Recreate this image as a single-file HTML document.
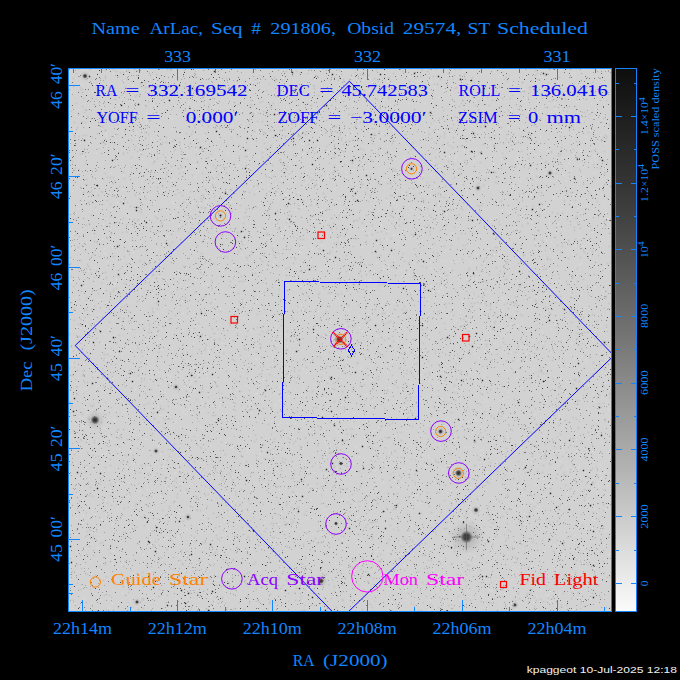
<!DOCTYPE html><html><head><meta charset="utf-8"><title>ArLac star field</title><style>html,body{margin:0;padding:0;background:#000;width:680px;height:680px;overflow:hidden}svg{display:block}</style></head><body><svg width="680" height="680" viewBox="0 0 680 680"><rect width="680" height="680" fill="#000"/><defs><radialGradient id="halo"><stop offset="0" stop-color="#202020" stop-opacity="1"/><stop offset="0.5" stop-color="#333" stop-opacity="0.8"/><stop offset="1" stop-color="#555" stop-opacity="0"/></radialGradient><radialGradient id="halo2"><stop offset="0" stop-color="#888" stop-opacity="0.6"/><stop offset="1" stop-color="#aaa" stop-opacity="0"/></radialGradient><clipPath id="clip"><rect x="69" y="69" width="542" height="542"/></clipPath><linearGradient id="cb" x1="0" y1="0" x2="0" y2="1"><stop offset="0" stop-color="#0e0e0e"/><stop offset="0.25" stop-color="#3c3c3c"/><stop offset="0.5" stop-color="#767676"/><stop offset="0.75" stop-color="#b6b6b6"/><stop offset="1" stop-color="#fbfbfb"/></linearGradient></defs><rect x="68" y="68" width="543" height="543" fill="#d2d2d2"/><g transform="translate(0.5 0.5)"><path stroke="#dadada" stroke-width="1.5" stroke-linecap="square" fill="none" d="M447 214h0M192 412h0M496 461h0M240 123h0M179 539h0M501 221h0M417 147h0M435 208h0M604 299h0M280 333h0M523 252h0M249 388h0M376 551h0M393 302h0M184 571h0M170 549h0M193 343h0M433 292h0M401 270h0M579 359h0M451 233h0M203 135h0M564 302h0M583 340h0M465 248h0M430 584h0M139 491h0M120 552h0M213 208h0M308 75h0M108 329h0M549 601h0M325 268h0M447 371h0M184 492h0M245 511h0M131 79h0M466 194h0M488 588h0M188 104h0M456 474h0M113 551h0M281 513h0M155 334h0M472 312h0M253 211h0M325 509h0M321 210h0M326 102h0M213 275h0M371 571h0M511 188h0M339 73h0M173 203h0M82 156h0M139 396h0M113 378h0M118 569h0M135 283h0M393 418h0M506 164h0M532 359h0M423 235h0M395 156h0M248 581h0M574 72h0M416 457h0M461 532h0M466 425h0M535 533h0M449 95h0M572 541h0M362 366h0M365 163h0M205 575h0M577 83h0M368 477h0M337 327h0M240 84h0M217 314h0M412 496h0M313 346h0M376 292h0M429 457h0M556 74h0M248 537h0M438 291h0M558 336h0M317 113h0M208 489h0M226 227h0M253 72h0M410 457h0M209 184h0M523 108h0M261 202h0M104 403h0M71 280h0M82 84h0M409 535h0M256 393h0M222 163h0M400 542h0M105 521h0M362 137h0M403 155h0M86 184h0M164 154h0M280 529h0M233 265h0M584 92h0M307 327h0M419 162h0M150 534h0M506 449h0M187 388h0M484 377h0M326 226h0M289 375h0M327 151h0M359 96h0M207 378h0M134 583h0M230 486h0M605 509h0M220 308h0M430 195h0M210 191h0M523 147h0M330 232h0M376 336h0M183 313h0M398 462h0M337 542h0M455 157h0M202 562h0M399 464h0M523 126h0M322 155h0M166 107h0M108 469h0M536 223h0M342 164h0M165 69h0M228 366h0M475 353h0M269 174h0M400 587h0M509 94h0M182 483h0M535 242h0M480 238h0M250 87h0M204 79h0M255 394h0M115 420h0M301 505h0M403 468h0M487 608h0M360 538h0M127 496h0M412 535h0M122 374h0M163 466h0M590 599h0M203 368h0M380 219h0M440 275h0M514 485h0M112 247h0M524 165h0M543 496h0M444 478h0M301 394h0M214 181h0M404 566h0M433 568h0M238 483h0M438 327h0M165 196h0M207 530h0M74 133h0M226 605h0M182 73h0M514 489h0M540 110h0M541 359h0M596 265h0M409 76h0M308 570h0M384 180h0M274 245h0M325 490h0M218 85h0M444 354h0M592 528h0M155 322h0M100 314h0M274 585h0M290 357h0M292 432h0M160 415h0M157 137h0M199 122h0M382 395h0M491 350h0M325 200h0M179 225h0M300 370h0M368 201h0M576 439h0M267 83h0M198 371h0M343 331h0M101 200h0M249 93h0M157 248h0M222 116h0M138 387h0M221 392h0M259 453h0M115 409h0M255 358h0M330 536h0M119 349h0M547 565h0M543 79h0M582 336h0M133 104h0M83 515h0M594 509h0M566 166h0M503 399h0M134 361h0M430 600h0M474 571h0M225 166h0M554 103h0M477 346h0M160 496h0M382 577h0M248 156h0M494 254h0M273 92h0M536 429h0M256 359h0M428 303h0M348 542h0M296 266h0M73 249h0M602 528h0M298 192h0M250 403h0M544 238h0M70 248h0M116 192h0M325 524h0M331 349h0M532 566h0M329 126h0M451 603h0M493 165h0M211 192h0M591 490h0M579 237h0M452 188h0M94 84h0M217 433h0M140 292h0M432 311h0M82 565h0M257 128h0M70 184h0M485 266h0M272 550h0M435 186h0M160 454h0M598 486h0M303 448h0M538 555h0M604 202h0M93 441h0M591 161h0M226 338h0M576 451h0M536 596h0M111 173h0M394 173h0M113 98h0M255 112h0M546 369h0M99 184h0M386 200h0M482 332h0M431 268h0M69 472h0M435 280h0M119 121h0M505 282h0M607 579h0M592 232h0M489 339h0M252 271h0M539 506h0M384 73h0M327 447h0M387 264h0M160 117h0M136 449h0M358 516h0M374 321h0M299 252h0M448 133h0M157 365h0M311 570h0M158 406h0M294 218h0M208 256h0M452 476h0M580 206h0M449 338h0M603 291h0M133 252h0M450 465h0M225 496h0M460 422h0M338 443h0M466 334h0M132 276h0M349 510h0M289 256h0M165 173h0M184 157h0M544 551h0M425 325h0M546 283h0M401 402h0M453 80h0M548 103h0M574 358h0M99 433h0M600 325h0M386 462h0M341 216h0M520 157h0M479 358h0M219 605h0M403 448h0M411 391h0M131 576h0M92 92h0M240 88h0M460 312h0M105 383h0M476 254h0M549 591h0M273 198h0M80 256h0M447 492h0M360 563h0M476 385h0M165 251h0M285 432h0M148 468h0M123 412h0M158 291h0M345 108h0M544 413h0M183 411h0M337 432h0M421 398h0M253 147h0M71 92h0M610 168h0M443 90h0M364 348h0M250 428h0M233 155h0M238 422h0M269 518h0M398 234h0M446 418h0M480 508h0M134 112h0M241 578h0M479 538h0M437 431h0M548 502h0M138 582h0M326 534h0M186 111h0M306 72h0M483 595h0M146 121h0M343 351h0M298 151h0M89 540h0M483 116h0M506 397h0M293 419h0M115 283h0M405 590h0M610 351h0M92 463h0M279 387h0M188 102h0M588 335h0M179 555h0M543 479h0M600 254h0M501 159h0M93 320h0M133 303h0M185 458h0M580 551h0M86 388h0M423 206h0M415 540h0M252 123h0M423 175h0M80 143h0M256 191h0M497 527h0M88 142h0M404 229h0M304 206h0M554 324h0M161 349h0M582 454h0M300 130h0M402 121h0M271 545h0M471 514h0M188 508h0M448 399h0M525 483h0M371 381h0M444 587h0M330 379h0M324 373h0M321 269h0M285 444h0M544 190h0M128 221h0M590 261h0M395 566h0M232 86h0M342 528h0M377 378h0M559 417h0M522 323h0M594 173h0M124 80h0M507 384h0M605 167h0M538 265h0M226 576h0M337 177h0M465 447h0M271 328h0M240 198h0M328 408h0M533 602h0M356 543h0M314 527h0M512 276h0M119 449h0M150 175h0M217 580h0M394 234h0M256 130h0M560 379h0M310 231h0M189 409h0M338 298h0M225 250h0M593 88h0M525 524h0M462 391h0M422 298h0M76 518h0M592 372h0M409 382h0M417 504h0M367 332h0M583 548h0M259 589h0M517 325h0M582 520h0M434 86h0M546 401h0M171 478h0M126 537h0M184 156h0M148 576h0M536 384h0M273 358h0M249 553h0M478 414h0M441 398h0M609 522h0M304 537h0M90 343h0M317 298h0M114 283h0M74 129h0M268 189h0M514 300h0M151 261h0M237 519h0M383 212h0M251 208h0M164 392h0M107 588h0M484 229h0M407 148h0M287 221h0M491 446h0M295 423h0M345 501h0M509 213h0M327 198h0M389 342h0M487 472h0M345 325h0M121 565h0M93 165h0M362 247h0M191 165h0M474 210h0M315 185h0M267 237h0M525 440h0M543 343h0M90 313h0M316 549h0M342 157h0M131 249h0M578 410h0M598 587h0M604 309h0M316 489h0M124 96h0M477 377h0M471 596h0M111 438h0M398 487h0M507 591h0M88 271h0M151 138h0M439 444h0M136 334h0M352 135h0M218 244h0M85 597h0M299 572h0M320 132h0M332 347h0M86 286h0M301 252h0M331 574h0M87 125h0M107 608h0M392 546h0M98 495h0M471 137h0M353 382h0M599 353h0M585 395h0M369 514h0M482 82h0M574 431h0M195 323h0M584 520h0M476 410h0M184 386h0M101 135h0M104 471h0M574 77h0M160 383h0M79 231h0M472 323h0M459 592h0M210 494h0M251 485h0M129 243h0M250 531h0M580 165h0M326 514h0M439 132h0M289 163h0M588 119h0M224 237h0M247 449h0M430 174h0M173 214h0M75 423h0M143 563h0M394 480h0M580 151h0M319 392h0M157 342h0M567 454h0M503 503h0M498 384h0M183 454h0M158 343h0M536 81h0M600 464h0M99 479h0M144 476h0M275 585h0M580 546h0M286 194h0M183 145h0M598 519h0M289 84h0M555 377h0M318 182h0M277 194h0M125 421h0M299 599h0M418 217h0M456 565h0M72 247h0M415 501h0M383 266h0M553 70h0M526 75h0M441 429h0M388 550h0M348 310h0M520 495h0M557 213h0M182 137h0M248 530h0M330 446h0M268 160h0M165 258h0M259 135h0M408 204h0M334 395h0M364 544h0M87 412h0M422 191h0M314 491h0M590 130h0M240 226h0M347 134h0M200 427h0M342 244h0M203 466h0M131 115h0M501 591h0M345 171h0M277 607h0M193 391h0M600 478h0M365 587h0M292 226h0M499 125h0M447 307h0M237 166h0M234 210h0M414 263h0M516 274h0M259 132h0M184 153h0M234 577h0M218 449h0M386 221h0M227 153h0M586 141h0M139 491h0M264 522h0M475 293h0M174 251h0M302 310h0M375 200h0M137 588h0M388 81h0M359 449h0M451 261h0M333 94h0M485 482h0M342 518h0M391 601h0M455 389h0M454 440h0M105 500h0M278 540h0M335 349h0M396 272h0M96 368h0M107 146h0M598 486h0M115 75h0M426 396h0M211 365h0M160 143h0M220 318h0M567 494h0M325 583h0M163 245h0M78 551h0M261 180h0M553 197h0M94 374h0M331 296h0M270 232h0M157 516h0M465 508h0M336 467h0M135 491h0M603 609h0M490 590h0M338 430h0M300 119h0M387 282h0M503 459h0M124 372h0M163 244h0M160 460h0M558 550h0M314 572h0M463 89h0M168 210h0M95 267h0M253 321h0M328 288h0M258 253h0M104 453h0M321 135h0M460 160h0M214 177h0M265 477h0M446 250h0M488 116h0M235 203h0M547 363h0M438 403h0M164 539h0M199 599h0M508 392h0M370 290h0M278 424h0M492 478h0M276 468h0M393 235h0M423 235h0M174 423h0M596 294h0M394 602h0M438 382h0M322 517h0M188 267h0M401 388h0M69 238h0M370 593h0M129 601h0M172 118h0M228 70h0M540 250h0M106 219h0M248 161h0M104 152h0M285 391h0M581 295h0M181 463h0M151 545h0M423 538h0M249 410h0M352 132h0M592 576h0M121 106h0M358 118h0M543 121h0M444 603h0M597 420h0M224 521h0M430 262h0M430 549h0M433 383h0M157 313h0M478 536h0M256 124h0M145 483h0M560 461h0M331 199h0M464 123h0M268 214h0M319 606h0M90 202h0M317 148h0M374 593h0M471 328h0M372 82h0M284 315h0M117 483h0M303 144h0M469 370h0M376 150h0M186 285h0M372 307h0M365 197h0M318 247h0M408 345h0M396 361h0M493 163h0M150 380h0M374 568h0M469 465h0M282 552h0M157 403h0M344 521h0M507 320h0M97 588h0M379 372h0M117 444h0M576 435h0M446 316h0M295 209h0M483 310h0M425 466h0M476 278h0M108 435h0M378 479h0M233 422h0M233 447h0M156 213h0M315 148h0M431 234h0M441 287h0M134 431h0M222 202h0M339 98h0M96 386h0M205 248h0M272 571h0M159 276h0M127 467h0M509 137h0M388 267h0M201 411h0M333 513h0M112 603h0M457 75h0M281 569h0M300 247h0M183 105h0M428 337h0M455 358h0M389 452h0M404 253h0M511 337h0M583 600h0M206 240h0M530 419h0M139 461h0M234 504h0M451 580h0M535 84h0M441 261h0M206 374h0M301 305h0M531 195h0M258 420h0M147 280h0M448 207h0M572 330h0M581 150h0M374 430h0M289 396h0M316 280h0M107 262h0M287 517h0M238 598h0M273 264h0M523 505h0M154 202h0M500 154h0M411 333h0M560 363h0M261 547h0M238 338h0M546 595h0M139 550h0M136 132h0M485 263h0M322 157h0M308 469h0M386 110h0M452 143h0M464 149h0M248 572h0M424 550h0M198 374h0M300 456h0M205 204h0M465 495h0M78 478h0M453 482h0M488 337h0M275 246h0M96 440h0M300 286h0M517 377h0M261 257h0M360 368h0M490 351h0M598 481h0M146 112h0M112 85h0M511 352h0M519 486h0M387 308h0M191 381h0M270 380h0M374 271h0M579 568h0M84 248h0M588 577h0M498 258h0M593 290h0M276 326h0M123 120h0M517 157h0M334 596h0M305 372h0M568 157h0M399 554h0M73 563h0M499 400h0M231 133h0M340 531h0M318 311h0M183 531h0M219 227h0M328 359h0M378 211h0M478 467h0M359 347h0M474 166h0M526 353h0M191 254h0M198 493h0M109 437h0M478 357h0M120 400h0M336 590h0M605 383h0M592 433h0M466 279h0M534 365h0M357 89h0M80 523h0M158 490h0M285 583h0M337 468h0M207 176h0M484 399h0M333 572h0M429 111h0M608 554h0M388 203h0M382 391h0M312 585h0M106 359h0M85 261h0M474 320h0M337 353h0M177 463h0M255 269h0M319 391h0M220 406h0M413 376h0M593 340h0M563 556h0M241 110h0M253 554h0M608 410h0M429 609h0M117 353h0M88 296h0M333 420h0M102 454h0M462 301h0M299 115h0M107 344h0M388 607h0M222 583h0M222 343h0M506 346h0M471 262h0M354 244h0M242 446h0M494 548h0M215 300h0M543 426h0M446 374h0M384 319h0M453 351h0M560 216h0M598 470h0M375 488h0M140 311h0M453 232h0M121 96h0M378 160h0M519 567h0M581 159h0M218 541h0M449 156h0M560 281h0M279 273h0M378 427h0M577 401h0M395 435h0M251 413h0M71 421h0M82 523h0M375 470h0M103 224h0M540 136h0M138 395h0M607 218h0M456 531h0M275 404h0M313 203h0M160 522h0M150 188h0M558 450h0M81 418h0M293 166h0M395 469h0M314 199h0M571 74h0M323 426h0M442 96h0M365 521h0M473 93h0M101 372h0M529 150h0M77 306h0M202 398h0M484 158h0M292 144h0M411 123h0M376 346h0M282 236h0M472 432h0M423 455h0M122 452h0M455 160h0M176 466h0M226 302h0M610 604h0M281 591h0M345 463h0M203 512h0M373 602h0M143 554h0M112 581h0M389 387h0M309 485h0M468 488h0M140 291h0M398 342h0M93 529h0M207 284h0M156 521h0M416 484h0M195 280h0M291 370h0M267 359h0M311 245h0M599 115h0M76 410h0M324 476h0M491 590h0M364 532h0M555 109h0M289 172h0M227 275h0M303 420h0M265 396h0M174 474h0M335 563h0M520 442h0M284 285h0M513 593h0M269 174h0M531 222h0M473 162h0M391 327h0M423 322h0M228 521h0M242 255h0M295 182h0M412 96h0M281 236h0M439 204h0M283 576h0M307 589h0M456 320h0M210 293h0M570 466h0M536 296h0M498 433h0M72 191h0M147 489h0M458 279h0M387 372h0M507 371h0M72 608h0M183 169h0M229 576h0M377 388h0M359 126h0M601 525h0M314 79h0M232 309h0M446 297h0M402 177h0M358 543h0M293 255h0M80 169h0M308 589h0M373 359h0M476 393h0M312 286h0M364 520h0M459 229h0M219 545h0M258 380h0M470 372h0M510 277h0M372 432h0M509 562h0M235 288h0M583 167h0M392 257h0M495 343h0M471 327h0M540 590h0M103 281h0M116 279h0M158 372h0M439 118h0M260 604h0M321 137h0M204 502h0M604 544h0M375 555h0M583 246h0M95 210h0M412 544h0M566 244h0M551 329h0M467 591h0M170 376h0M296 277h0M548 486h0M151 372h0M125 278h0M103 90h0M172 180h0M469 553h0M355 489h0M376 492h0M369 314h0M293 495h0M199 526h0M239 136h0M282 451h0M98 146h0M407 596h0M480 292h0M89 211h0M183 545h0M418 345h0M214 107h0M116 580h0M195 105h0M587 87h0M375 476h0M569 171h0M226 494h0M538 576h0M127 346h0M501 488h0M542 331h0M104 440h0M162 161h0M404 346h0M186 169h0M517 280h0M470 149h0M522 387h0M317 208h0M549 223h0M575 535h0M516 131h0M553 386h0M556 421h0M372 401h0M75 237h0M157 603h0M271 179h0M235 245h0M484 351h0M428 336h0M299 531h0M230 511h0M451 437h0M346 410h0M201 128h0M135 222h0M559 438h0M373 172h0M506 358h0M579 264h0M505 297h0M406 242h0M230 211h0M224 134h0M249 560h0M131 242h0M592 526h0M393 202h0M212 475h0M367 519h0M573 609h0M478 157h0M451 431h0M70 345h0M597 551h0M151 483h0M551 242h0M402 231h0M301 143h0M380 170h0M285 365h0M449 404h0M299 584h0M553 289h0M576 101h0M485 334h0M256 100h0M399 118h0M328 326h0M607 607h0M145 164h0M251 186h0M406 280h0M199 485h0M284 520h0M214 603h0M93 455h0M409 238h0M386 237h0M133 609h0M411 210h0M290 255h0M186 187h0M255 328h0M215 453h0M133 328h0M198 170h0M518 254h0M70 281h0M520 216h0M320 495h0M205 162h0M166 437h0M117 508h0M338 426h0M408 215h0M337 106h0M179 284h0M152 598h0M385 280h0M157 176h0M280 422h0M370 279h0M535 154h0M148 410h0M237 522h0M421 577h0M350 146h0M439 176h0M113 420h0M201 608h0M266 543h0M540 601h0M558 223h0M197 502h0M147 221h0M177 207h0M477 505h0M222 535h0M313 433h0M261 206h0M374 155h0M551 111h0M553 168h0M397 354h0M557 571h0M477 280h0M305 535h0M428 299h0M607 359h0M161 395h0M223 495h0M462 422h0M189 284h0M322 413h0M402 74h0M127 418h0M389 223h0M514 560h0M351 191h0M596 334h0M235 501h0M268 579h0M303 153h0M444 260h0M365 286h0M416 524h0M83 599h0M231 95h0M104 219h0M427 113h0M89 415h0M403 247h0M523 440h0M489 143h0M404 565h0M504 593h0M238 590h0M423 534h0M380 575h0M313 230h0M544 383h0M326 334h0M122 593h0M339 155h0M175 105h0M579 597h0M247 84h0M454 274h0M317 463h0M86 319h0M263 400h0M580 150h0M528 282h0M385 532h0M364 436h0M264 484h0M110 520h0M567 85h0M211 607h0M111 353h0M343 435h0M116 332h0M480 455h0M420 427h0M409 422h0M485 371h0M608 314h0M209 351h0M243 318h0M362 426h0M404 187h0M83 546h0M588 412h0M348 597h0M311 260h0M405 93h0M156 78h0M307 518h0M193 573h0M75 534h0M287 384h0M142 376h0M136 409h0M145 350h0M326 474h0M502 297h0M594 215h0M504 370h0M544 278h0M356 447h0M392 606h0M386 239h0M576 204h0M255 469h0M409 274h0M588 500h0M112 564h0M474 556h0M423 209h0M504 335h0M387 146h0M424 103h0M418 162h0M314 108h0M209 168h0M248 448h0M466 190h0M405 600h0M358 76h0M154 81h0M593 89h0M381 576h0M138 435h0M547 150h0M353 463h0M327 176h0M531 462h0M272 473h0M159 338h0M160 82h0M487 329h0M194 191h0M575 514h0M557 111h0M468 421h0M521 181h0M423 483h0M554 545h0M186 555h0M199 217h0M572 375h0M186 427h0M113 589h0M72 364h0M267 371h0M327 265h0M99 527h0M407 320h0M322 413h0M448 475h0M468 587h0M190 539h0M341 404h0M469 319h0M195 176h0M588 439h0M410 404h0M196 149h0M469 199h0M148 353h0M206 524h0M139 417h0M246 609h0M76 297h0M180 514h0M305 395h0M314 334h0M507 210h0M100 306h0M276 342h0M294 536h0M173 438h0M114 135h0M607 485h0M210 445h0M105 135h0M606 186h0M379 97h0M106 133h0M558 543h0M228 550h0M294 227h0M275 137h0M171 101h0M519 239h0M146 320h0M130 320h0M248 401h0M571 202h0M202 379h0M460 519h0M610 409h0M556 605h0M381 226h0M513 89h0M103 289h0M387 555h0M593 394h0M97 299h0M114 335h0M558 415h0M568 478h0M385 322h0M343 149h0M160 301h0M596 266h0M585 307h0M468 211h0M157 482h0M402 176h0M174 187h0M443 87h0M397 590h0M155 107h0M468 503h0M517 159h0M140 152h0M303 309h0M282 77h0M368 314h0M312 248h0M320 397h0M317 189h0M359 457h0M328 132h0M101 224h0M313 472h0M533 161h0M78 116h0M117 121h0M575 246h0M202 403h0M381 224h0M232 419h0M451 490h0M341 474h0M428 573h0M448 523h0M587 340h0M449 553h0M369 280h0M330 321h0M260 245h0M407 350h0M477 350h0M189 190h0M167 236h0M272 356h0M391 454h0M336 478h0M469 94h0M341 499h0M377 546h0M172 452h0M524 513h0M209 208h0M146 207h0M159 576h0M510 75h0M319 378h0M579 466h0M286 106h0M529 178h0M605 373h0M275 306h0M246 304h0M151 251h0M423 311h0M392 362h0M123 131h0M209 557h0M168 488h0M449 268h0M164 318h0M240 475h0M514 166h0M458 381h0M310 183h0M280 128h0M387 179h0M326 451h0M519 186h0M562 507h0M270 573h0M284 315h0M432 460h0M97 288h0M517 493h0M590 482h0M79 416h0M158 445h0M96 508h0M227 204h0M300 280h0M483 546h0M494 600h0M69 556h0M145 307h0M479 492h0M135 389h0M335 210h0M359 327h0M431 583h0M330 92h0M251 469h0M537 191h0M233 85h0M560 443h0M586 528h0M208 225h0M553 343h0M118 105h0M415 73h0M542 106h0M258 157h0M301 464h0M123 196h0M571 356h0M104 428h0M601 565h0M217 133h0M369 508h0M467 192h0M348 330h0M209 123h0M568 163h0M208 349h0M327 235h0M354 169h0M187 449h0M485 196h0M530 395h0M600 551h0M517 571h0M589 508h0M417 322h0M377 203h0M527 330h0M419 574h0M523 88h0M249 258h0M149 570h0M149 150h0M594 451h0M409 435h0M583 176h0M152 399h0M416 495h0M551 352h0M602 362h0M148 594h0M142 498h0M431 247h0M285 195h0M98 396h0M529 268h0M441 185h0M258 250h0M176 452h0M388 313h0M424 435h0M232 477h0M524 261h0M561 555h0M82 69h0M568 116h0M256 254h0M228 526h0M139 165h0M272 292h0M215 406h0M248 167h0M258 204h0M392 86h0M595 160h0M274 437h0M266 303h0M104 214h0M443 369h0M327 175h0M215 103h0M353 413h0M203 578h0M473 287h0M281 179h0M260 235h0M402 276h0M565 122h0M388 231h0M251 240h0M285 588h0M402 192h0M167 537h0M560 109h0M520 159h0M177 529h0M371 548h0M102 391h0M390 388h0M107 503h0M464 245h0M104 248h0M183 588h0M150 539h0M584 472h0M112 236h0M497 179h0M531 501h0M500 603h0M549 527h0M474 418h0M70 394h0M180 427h0M364 380h0M422 324h0M418 278h0M200 282h0M427 425h0M355 72h0M255 459h0M551 481h0M437 131h0M358 396h0M111 305h0M104 460h0M524 69h0M472 279h0M570 592h0M597 484h0M594 568h0M492 148h0M425 527h0M429 610h0M370 237h0M110 490h0M194 188h0M223 270h0M517 118h0M95 418h0M324 528h0M290 149h0M381 154h0M414 395h0M202 185h0M513 567h0M355 189h0M274 478h0M353 117h0M270 479h0M490 120h0M175 484h0M91 607h0M96 153h0M181 96h0M443 221h0M236 354h0M305 459h0M313 507h0M381 133h0M433 595h0M448 238h0M420 579h0M285 90h0M320 562h0M529 173h0M370 117h0M329 438h0M78 109h0M361 518h0M560 377h0M511 603h0M388 264h0M231 547h0M100 534h0M465 479h0M548 122h0M216 532h0M535 485h0M481 540h0M97 609h0M401 415h0M303 368h0M587 345h0M526 98h0M325 442h0M569 163h0M463 463h0M331 286h0M103 107h0M566 180h0M456 525h0M181 179h0M362 331h0M210 568h0M194 367h0M106 136h0M503 300h0M170 115h0M175 143h0M493 451h0M342 539h0M134 110h0M418 417h0M354 474h0M117 202h0M501 290h0M376 262h0M528 553h0M130 330h0M219 557h0M563 175h0M606 329h0M190 391h0M180 158h0M380 318h0M309 532h0M577 489h0M596 93h0M310 499h0M397 355h0M75 463h0M170 475h0M275 332h0M284 334h0M390 368h0M239 88h0M362 229h0M247 348h0M590 243h0M162 202h0M120 121h0M315 120h0M131 556h0M420 435h0M275 261h0M247 452h0M305 286h0M347 550h0M511 323h0M521 449h0M163 575h0M279 489h0M81 437h0M180 588h0M448 514h0M140 242h0M310 166h0M151 535h0M91 171h0M312 534h0M573 135h0M164 369h0M93 605h0M275 539h0M327 418h0M99 92h0M264 316h0M489 528h0M586 350h0M100 415h0M297 438h0M210 180h0M183 514h0M385 93h0M535 414h0M326 468h0M351 484h0M206 459h0M155 81h0M186 608h0M142 159h0M593 373h0M394 596h0M142 321h0M101 537h0M536 609h0M256 302h0M133 471h0M438 284h0M149 221h0M456 150h0M189 388h0M425 130h0M605 531h0M145 307h0M488 82h0M79 130h0M186 529h0M420 503h0M176 388h0M274 394h0M513 185h0M367 268h0M500 99h0M138 547h0M185 344h0M145 180h0M501 210h0M158 136h0M533 438h0M455 174h0M280 118h0M180 553h0M516 596h0M183 147h0M559 378h0M511 110h0M559 465h0M271 421h0M431 286h0M507 434h0M95 230h0M340 211h0M415 495h0M381 304h0M263 149h0M262 295h0M110 598h0M323 510h0M591 103h0M287 423h0M268 385h0M364 570h0M592 338h0M552 600h0M217 429h0M404 158h0M205 317h0M383 269h0M215 76h0M410 401h0M376 593h0M78 571h0M428 455h0M193 165h0M508 142h0M293 172h0M348 435h0M598 69h0M588 408h0M470 447h0M571 117h0M563 490h0M242 233h0M370 77h0M158 69h0M540 77h0M439 291h0M321 475h0M522 504h0M560 358h0M461 183h0M606 212h0M200 366h0M429 381h0M357 139h0M329 257h0M416 393h0M454 475h0M354 278h0M584 552h0M208 212h0M320 69h0M383 482h0M443 469h0M558 224h0M94 483h0M530 476h0M384 216h0M476 235h0M233 446h0M102 239h0M484 275h0M533 368h0M227 229h0M286 300h0M395 382h0M405 93h0M339 480h0M517 137h0M609 561h0M481 450h0M541 554h0M390 474h0M116 140h0M597 493h0M563 450h0M524 101h0M484 375h0M475 420h0M129 482h0M259 80h0M474 516h0M423 227h0M567 127h0M183 461h0M231 447h0M144 588h0M370 186h0M456 222h0M151 283h0M583 343h0M268 105h0M116 116h0M336 581h0M544 414h0M303 388h0M439 165h0M171 425h0M266 208h0M601 300h0M607 89h0M79 250h0M147 320h0M164 193h0M178 470h0M231 201h0M383 371h0M203 285h0M359 316h0M101 519h0M345 103h0M287 141h0M335 90h0M198 571h0M153 441h0M249 81h0M386 306h0M127 604h0M522 382h0M537 509h0M565 504h0M495 507h0M84 389h0M77 494h0M601 270h0M86 467h0M457 362h0M430 567h0M430 81h0M215 147h0M545 524h0M261 464h0M327 516h0M331 97h0M78 208h0M581 263h0M192 202h0M134 463h0M244 300h0M263 379h0M537 586h0M482 342h0M225 468h0M388 98h0M572 254h0M267 462h0M565 353h0M345 180h0M179 132h0M88 345h0M313 241h0M258 598h0M168 375h0M445 330h0M549 218h0M78 436h0M585 359h0M333 273h0M421 219h0M163 415h0M135 266h0M171 128h0M245 283h0M232 125h0M352 405h0M185 147h0M195 165h0M130 451h0M157 324h0M223 176h0M217 138h0M483 174h0M553 321h0M385 414h0M250 331h0M488 248h0M345 483h0M523 404h0M194 326h0M456 156h0M268 184h0M179 134h0M516 474h0M276 345h0M278 524h0M230 201h0M396 206h0M475 160h0M225 493h0M403 91h0M108 559h0M410 581h0M550 292h0M539 379h0M92 69h0M197 435h0M492 480h0M215 561h0M156 330h0M424 588h0M207 393h0M529 434h0M544 438h0M75 603h0M601 194h0M563 341h0M377 158h0M214 288h0M95 417h0M244 160h0M540 150h0M416 291h0M347 499h0M565 392h0M513 329h0M104 253h0M545 172h0M322 580h0M161 400h0M508 127h0M313 334h0M337 566h0M333 457h0M394 376h0M514 279h0M456 261h0M286 580h0M409 192h0M252 235h0M76 133h0M287 346h0M550 130h0M566 395h0M201 90h0M194 123h0M301 207h0M536 484h0M526 540h0M190 237h0M258 132h0M418 181h0M305 83h0M87 77h0M397 340h0M465 415h0M258 250h0M363 80h0M219 267h0M600 473h0M351 90h0M73 234h0M165 307h0M263 201h0M283 278h0M467 398h0M184 604h0M256 303h0M135 589h0M270 272h0M595 287h0M366 112h0M515 569h0M306 606h0M588 384h0M594 400h0M295 160h0M531 145h0M210 597h0M298 312h0M556 283h0M453 502h0M207 336h0M179 458h0M301 450h0M380 222h0M405 194h0M71 330h0M183 330h0M338 547h0M332 199h0M577 468h0M497 203h0M487 186h0M394 260h0M378 443h0M249 564h0M86 302h0M146 422h0M112 524h0M311 281h0M320 303h0M321 253h0M138 378h0M219 292h0M77 327h0M279 148h0M202 180h0M274 544h0M388 398h0M128 270h0M369 91h0M559 333h0M118 432h0M500 123h0M439 97h0M397 561h0M454 323h0M207 347h0M422 550h0M369 608h0M594 155h0M267 128h0M536 418h0M183 211h0M193 75h0M220 402h0M260 569h0M382 288h0M358 121h0M231 504h0M86 324h0M415 390h0M267 452h0M534 538h0M329 151h0M469 500h0M477 539h0M548 81h0M537 112h0M547 578h0M197 501h0M476 148h0M215 600h0M332 257h0M183 356h0M187 361h0M241 103h0M98 548h0M582 380h0M277 232h0M410 357h0M132 85h0M138 413h0M132 128h0M102 343h0M230 500h0M102 367h0M254 178h0M339 198h0M598 431h0M167 414h0M145 439h0M508 522h0M406 587h0M171 517h0M85 610h0M128 123h0M526 197h0M100 453h0M128 526h0M608 128h0M279 282h0M190 258h0M335 188h0M399 172h0M498 253h0M83 426h0M328 179h0M353 104h0M218 610h0M259 362h0M500 75h0M178 537h0M177 531h0M386 446h0M592 451h0M586 361h0M420 374h0M135 288h0M82 189h0M90 562h0M588 242h0M349 272h0M536 583h0M383 318h0M178 513h0M399 330h0M600 135h0M517 478h0M296 307h0M448 468h0M598 582h0M599 454h0M348 86h0M520 296h0M289 356h0M470 487h0M269 463h0M275 184h0M471 212h0M162 286h0M486 291h0M466 541h0M512 573h0M349 374h0M486 401h0M106 254h0M148 529h0M323 516h0M97 446h0M215 562h0M232 192h0M280 451h0M248 152h0M201 549h0M279 400h0M494 512h0M377 243h0M132 379h0M217 106h0M87 514h0M597 99h0M464 150h0M273 507h0M454 85h0M186 461h0M206 374h0M285 529h0M122 354h0M311 76h0M246 385h0M366 394h0M408 103h0M170 150h0M402 482h0M311 548h0M549 216h0M578 406h0M586 136h0M140 89h0M225 529h0M502 539h0M113 74h0M200 203h0M260 73h0M247 583h0M165 222h0M551 248h0M306 183h0M319 491h0M337 480h0M571 343h0M608 452h0M76 326h0M479 498h0M368 232h0M427 215h0M109 607h0M341 567h0M342 545h0M585 547h0M479 609h0M411 73h0M146 117h0M259 228h0M188 398h0M194 522h0M524 338h0M366 171h0M476 227h0M364 535h0M378 404h0M95 514h0M388 588h0M310 430h0M175 472h0M379 229h0M348 419h0M205 369h0M556 264h0M580 303h0M303 383h0M137 257h0M107 71h0M546 240h0M578 208h0M393 130h0M492 416h0M124 70h0M109 420h0M244 528h0M295 137h0M276 123h0M151 257h0M100 599h0M548 594h0M368 235h0M423 186h0M370 267h0M572 155h0M170 117h0M323 342h0M220 247h0M605 267h0M453 104h0M110 351h0M98 569h0M195 105h0M211 158h0M507 437h0M596 214h0M389 288h0M528 109h0M568 119h0M170 417h0M271 352h0M182 301h0M70 388h0M123 175h0M322 239h0M214 86h0M143 196h0M393 530h0M154 549h0M172 201h0M185 414h0M305 489h0M178 236h0M173 287h0M297 493h0M346 176h0M374 288h0M329 366h0M517 327h0M491 167h0M84 147h0M359 287h0M102 233h0M419 217h0M255 266h0M519 386h0M297 514h0M588 355h0M122 189h0M238 165h0M485 351h0M303 247h0M206 201h0M548 234h0M604 472h0M271 498h0M422 149h0M372 587h0M105 334h0M322 245h0M560 209h0M298 350h0M313 454h0M594 520h0M504 546h0M463 301h0M460 600h0M285 227h0M225 442h0M595 109h0M336 71h0M162 263h0M95 469h0M84 407h0M90 464h0M317 514h0M251 511h0M99 299h0M566 468h0M595 115h0M467 150h0M523 495h0M483 574h0M583 312h0M297 209h0M453 374h0M587 507h0M410 268h0M375 139h0M82 500h0M396 113h0M321 534h0M553 222h0M171 480h0M196 123h0M82 392h0M189 241h0M96 547h0M365 154h0M568 329h0M363 541h0"/><path stroke="#c2c2c2" stroke-width="1.5" stroke-linecap="square" fill="none" d="M357 363h0M490 516h0M300 428h0M541 372h0M227 111h0M385 107h0M282 415h0M196 381h0M582 525h0M91 97h0M362 142h0M119 317h0M540 367h0M215 470h0M553 378h0M218 174h0M249 367h0M225 250h0M365 571h0M521 534h0M98 289h0M461 191h0M276 337h0M379 147h0M512 556h0M300 449h0M136 409h0M199 349h0M396 418h0M391 266h0M434 165h0M212 328h0M171 418h0M507 269h0M293 521h0M566 193h0M507 468h0M362 371h0M524 390h0M91 78h0M161 221h0M440 367h0M214 347h0M240 205h0M153 546h0M571 152h0M285 86h0M111 407h0M273 130h0M452 270h0M530 492h0M477 205h0M499 501h0M92 496h0M247 259h0M521 283h0M558 274h0M194 125h0M319 158h0M493 145h0M152 275h0M517 221h0M382 321h0M369 316h0M573 438h0M394 450h0M560 154h0M574 446h0M313 378h0M154 233h0M304 468h0M349 210h0M470 429h0M270 562h0M348 305h0M79 299h0M437 447h0M124 247h0M466 375h0M255 435h0M536 329h0M532 163h0M444 500h0M530 92h0M413 276h0M240 124h0M235 504h0M460 75h0M494 84h0M386 410h0M576 342h0M519 598h0M393 140h0M486 282h0M529 512h0M241 489h0M267 458h0M541 370h0M217 472h0M439 332h0M600 264h0M135 505h0M525 472h0M115 99h0M418 244h0M102 192h0M492 544h0M502 98h0M366 286h0M339 78h0M409 91h0M121 307h0M584 500h0M418 373h0M174 150h0M425 543h0M215 114h0M545 162h0M369 425h0M407 370h0M575 572h0M610 351h0M377 348h0M368 447h0M545 341h0M317 543h0M370 528h0M509 425h0M104 358h0M212 288h0M164 422h0M202 391h0M304 514h0M461 509h0M331 598h0M523 114h0M208 126h0M438 410h0M172 77h0M186 223h0M557 521h0M371 361h0M259 248h0M116 358h0M252 409h0M534 418h0M101 122h0M594 274h0M604 151h0M79 174h0M533 125h0M280 130h0M393 170h0M537 264h0M73 86h0M529 601h0M497 528h0M267 581h0M165 419h0M199 584h0M179 466h0M381 404h0M174 485h0M278 266h0M110 118h0M77 442h0M536 600h0M348 326h0M489 602h0M270 107h0M365 519h0M271 106h0M213 466h0M162 178h0M214 218h0M393 73h0M593 164h0M210 337h0M74 454h0M608 303h0M316 253h0M413 563h0M434 407h0M496 267h0M464 436h0M505 182h0M564 402h0M176 478h0M329 144h0M541 192h0M268 83h0M507 303h0M553 441h0M391 454h0M209 488h0M532 454h0M153 413h0M290 120h0M321 542h0M202 85h0M249 192h0M238 136h0M309 177h0M495 182h0M338 539h0M398 530h0M223 581h0M348 344h0M143 608h0M527 517h0M261 373h0M123 328h0M147 473h0M83 375h0M605 396h0M386 198h0M219 461h0M444 323h0M236 536h0M529 271h0M546 89h0M322 573h0M115 444h0M424 554h0M426 267h0M265 278h0M148 497h0M145 504h0M521 524h0M519 194h0M100 484h0M577 338h0M516 301h0M142 572h0M392 595h0M404 570h0M428 573h0M419 219h0M398 299h0M443 424h0M346 271h0M308 184h0M404 306h0M247 522h0M225 192h0M277 412h0M444 132h0M220 514h0M290 393h0M381 559h0M251 363h0M138 348h0M123 327h0M331 90h0M565 420h0M372 537h0M190 143h0M548 598h0M78 115h0M359 554h0M147 347h0M247 264h0M330 422h0M399 300h0M610 576h0M99 504h0M451 412h0M235 403h0M384 283h0M352 391h0M477 403h0M404 361h0M250 520h0M182 176h0M606 136h0M501 201h0M505 279h0M229 473h0M193 122h0M603 489h0M378 181h0M584 252h0M161 557h0M268 289h0M391 248h0M85 484h0M489 274h0M396 581h0M479 257h0M538 385h0M484 546h0M350 86h0M540 118h0M544 455h0M480 162h0M307 152h0M186 489h0M360 385h0M192 507h0M287 166h0M185 405h0M113 136h0M555 302h0M180 239h0M419 193h0M540 599h0M297 411h0M335 131h0M150 187h0M451 505h0M545 269h0M438 607h0M173 557h0M164 563h0M564 472h0M91 594h0M373 389h0M149 121h0M350 428h0M81 584h0M328 419h0M194 537h0M372 559h0M374 133h0M553 551h0M278 502h0M261 272h0M187 352h0M600 597h0M496 228h0M556 173h0M218 516h0M604 185h0M560 446h0M99 256h0M150 450h0M153 572h0M181 537h0M404 463h0M179 582h0M227 398h0M169 456h0M252 209h0M143 188h0M489 502h0M599 395h0M256 141h0M136 527h0M69 334h0M570 192h0M129 340h0M233 278h0M281 470h0M128 70h0M81 568h0M262 261h0M312 434h0M332 74h0M490 527h0M421 610h0M407 222h0M597 299h0M256 439h0M357 220h0M180 505h0M398 317h0M234 229h0M441 404h0M111 233h0M171 300h0M168 256h0M305 557h0M579 381h0M484 526h0M177 77h0M167 595h0M105 563h0M160 226h0M212 367h0M429 215h0M343 308h0M373 466h0M573 559h0M187 308h0M522 200h0M251 251h0M524 489h0M172 451h0M286 374h0M161 223h0M566 475h0M401 432h0M352 573h0M103 385h0M603 528h0M242 302h0M162 142h0M523 255h0M589 322h0M508 194h0M127 152h0M185 83h0M336 607h0M213 91h0M368 375h0M217 89h0M337 242h0M289 536h0M463 245h0M180 473h0M392 88h0M275 81h0M427 182h0M184 158h0M576 482h0M378 154h0M172 141h0M286 505h0M577 401h0M237 134h0M535 445h0M124 121h0M112 376h0M110 292h0M298 375h0M478 435h0M588 292h0M204 406h0M543 373h0M136 503h0M74 122h0M261 534h0M285 459h0M381 242h0M72 161h0M597 475h0M329 293h0M197 593h0M334 466h0M600 452h0M241 456h0M284 521h0M274 537h0M123 532h0M180 148h0M580 88h0M372 448h0M110 495h0M248 169h0M107 200h0M442 460h0M157 158h0M455 88h0M588 132h0M83 547h0M114 339h0M468 532h0M168 385h0M400 367h0M270 601h0M226 167h0M564 575h0M226 78h0M576 216h0M382 284h0M486 452h0M359 157h0M281 410h0M133 117h0M472 77h0M570 536h0M562 566h0M530 87h0M425 233h0M452 201h0M508 215h0M566 605h0M249 603h0M338 368h0M93 587h0M179 568h0M312 466h0M355 559h0M535 235h0M430 290h0M166 174h0M500 357h0M139 69h0M368 350h0M312 360h0M233 522h0M233 543h0M107 258h0M71 308h0M522 526h0M501 589h0M536 192h0M460 79h0M569 176h0M593 363h0M438 390h0M80 200h0M350 172h0M134 225h0M227 499h0M299 573h0M232 309h0M466 439h0M435 532h0M213 475h0M416 90h0M131 157h0M307 103h0M135 96h0M512 361h0M275 191h0M496 205h0M259 334h0M89 314h0M564 200h0M466 424h0M312 391h0M80 87h0M316 338h0M331 534h0M581 603h0M577 157h0M360 501h0M507 494h0M102 317h0M480 303h0M85 251h0M273 525h0M304 180h0M268 125h0M196 509h0M158 352h0M418 371h0M71 276h0M367 524h0M415 482h0M221 112h0M466 164h0M86 465h0M278 526h0M231 137h0M73 430h0M447 200h0M147 278h0M373 342h0M138 439h0M139 94h0M347 527h0M105 402h0M378 458h0M412 392h0M380 470h0M604 161h0M302 151h0M558 170h0M288 601h0M488 506h0M116 288h0M87 574h0M80 555h0M465 544h0M285 136h0M215 415h0M183 266h0M559 425h0M452 443h0M249 554h0M496 302h0M271 408h0M404 451h0M447 373h0M286 580h0M104 143h0M592 245h0M293 145h0M132 240h0M156 112h0M96 338h0M415 197h0M455 545h0M210 425h0M282 461h0M281 437h0M105 130h0M535 245h0M86 478h0M358 305h0M201 485h0M512 95h0M294 371h0M483 144h0M239 145h0M203 366h0M467 489h0M473 111h0M119 446h0M573 458h0M594 338h0M484 314h0M349 511h0M462 135h0M448 73h0M160 406h0M311 541h0M347 434h0M407 178h0M110 223h0M138 114h0M343 370h0M252 208h0M117 444h0M184 70h0M528 132h0M529 355h0M320 569h0M414 155h0M289 290h0M147 396h0M469 390h0M269 104h0M377 257h0M329 352h0M216 167h0M522 342h0M419 208h0M169 387h0M340 488h0M260 78h0M275 484h0M528 471h0M510 98h0M82 414h0M417 262h0M124 131h0M327 225h0M471 303h0M604 221h0M310 311h0M402 309h0M334 144h0M406 310h0M347 502h0M314 85h0M123 152h0M274 438h0M385 447h0M305 134h0M349 564h0M217 538h0M549 101h0M552 100h0M293 492h0M121 573h0M95 457h0M584 112h0M493 171h0M447 143h0M450 454h0M173 502h0M426 596h0M135 223h0M393 217h0M245 465h0M124 199h0M288 593h0M88 334h0M578 547h0M491 96h0M361 182h0M208 494h0M352 160h0M410 397h0M587 285h0M298 205h0M439 284h0M282 430h0M483 185h0M538 192h0M203 101h0M367 235h0M368 538h0M213 415h0M145 464h0M609 124h0M179 192h0M390 525h0M414 305h0M195 531h0M170 70h0M395 603h0M360 486h0M546 161h0M271 145h0M439 597h0M177 338h0M561 251h0M73 600h0M230 549h0M238 310h0M76 492h0M305 309h0M565 405h0M276 191h0M493 523h0M395 224h0M389 437h0M602 360h0M246 184h0M530 432h0M411 144h0M286 71h0M289 173h0M461 103h0M346 232h0M182 564h0M137 448h0M545 533h0M435 460h0M161 431h0M69 401h0M239 602h0M230 325h0M507 262h0M234 457h0M597 214h0M205 449h0M69 368h0M430 464h0M583 184h0M412 234h0M108 515h0M361 261h0M476 269h0M282 553h0M268 385h0M90 487h0M194 461h0M580 553h0M376 70h0M135 146h0M462 209h0M91 190h0M262 479h0M469 570h0M200 510h0M164 87h0M142 374h0M590 226h0M486 562h0M326 146h0M508 530h0M224 182h0M310 205h0M480 393h0M341 138h0M326 120h0M390 183h0M366 241h0M113 289h0M224 256h0M226 371h0M352 162h0M395 560h0M589 193h0M259 530h0M595 554h0M132 129h0M506 448h0M76 530h0M272 249h0M334 591h0M94 422h0M314 579h0M431 385h0M202 242h0M83 393h0M90 405h0M424 462h0M449 209h0M191 228h0M461 169h0M216 220h0M89 546h0M336 228h0M195 541h0M92 291h0M148 101h0M567 537h0M293 142h0M533 539h0M392 160h0M387 542h0M413 349h0M419 261h0M481 127h0M183 172h0M364 412h0M106 609h0M428 225h0M269 191h0M341 140h0M94 411h0M512 249h0M343 600h0M357 139h0M466 291h0M388 423h0M442 145h0M250 503h0M520 285h0M564 191h0M529 89h0M579 400h0M376 383h0M429 73h0M348 114h0M427 208h0M95 575h0M291 215h0M466 574h0M193 228h0M394 283h0M246 349h0M110 177h0M329 453h0M164 298h0M577 539h0M372 143h0M179 312h0M102 368h0M225 269h0M246 336h0M576 141h0M223 429h0M317 205h0M212 386h0M490 389h0M319 384h0M457 574h0M123 72h0M264 309h0M342 391h0M128 592h0M222 405h0M108 147h0M163 80h0M507 81h0M413 221h0M568 258h0M462 259h0M220 497h0M119 223h0M453 315h0M420 590h0M344 366h0M454 392h0M436 283h0M534 124h0M289 267h0M243 362h0M478 110h0M201 298h0M607 198h0M256 551h0M340 491h0M439 504h0M505 453h0M72 375h0M202 334h0M459 214h0M362 557h0M112 196h0M570 438h0M334 243h0M215 128h0M244 290h0M124 382h0M387 348h0M230 281h0M110 216h0M252 269h0M128 321h0M484 126h0M259 343h0M169 319h0M83 192h0M213 263h0M190 544h0M493 329h0M452 147h0M287 546h0M604 172h0M609 393h0M329 452h0M85 472h0M370 390h0M140 501h0M130 206h0M184 87h0M320 337h0M512 600h0M451 604h0M369 592h0M325 196h0M535 223h0M530 351h0M247 372h0M507 325h0M516 199h0M266 332h0M93 254h0M595 149h0M352 429h0M370 536h0M565 443h0M593 482h0M213 565h0M368 357h0M146 148h0M114 315h0M241 281h0M378 379h0M596 321h0M475 532h0M591 470h0M322 470h0M429 69h0M143 189h0M597 201h0M207 464h0M223 478h0M447 522h0M451 502h0M424 226h0M366 215h0M120 72h0M189 286h0M518 109h0M148 479h0M160 347h0M415 474h0M435 205h0M318 294h0M479 152h0M306 293h0M258 599h0M262 157h0M438 364h0M183 564h0M578 327h0M578 427h0M543 397h0M392 519h0M266 386h0M137 151h0M536 176h0M331 229h0M342 585h0M235 505h0M360 122h0M279 289h0M169 100h0M504 304h0M484 533h0M595 93h0M167 97h0M348 461h0M189 266h0M162 451h0M595 91h0M479 211h0M80 589h0M81 325h0M410 294h0M412 413h0M447 473h0M308 296h0M73 351h0M249 410h0M186 572h0M95 106h0M201 448h0M220 244h0M471 560h0M111 348h0M587 332h0M491 415h0M482 203h0M240 504h0M325 133h0M552 439h0M288 215h0M472 409h0M585 326h0M489 105h0M508 110h0M607 263h0M288 488h0M603 341h0M443 110h0M416 403h0M421 349h0M341 592h0M321 610h0M327 459h0M482 540h0M398 281h0M377 110h0M313 266h0M294 474h0M206 121h0M535 446h0M300 72h0M188 279h0M534 432h0M249 257h0M162 493h0M283 119h0M96 567h0M372 252h0M602 270h0M158 324h0M464 74h0M421 70h0M406 552h0M307 283h0M249 312h0M123 172h0M254 298h0M90 582h0M263 77h0M252 272h0M78 511h0M290 249h0M435 293h0M230 319h0M202 388h0M391 188h0M538 519h0M386 119h0M592 468h0M280 393h0M373 578h0M190 84h0M228 199h0M390 182h0M440 563h0M334 154h0M159 117h0M438 396h0M488 442h0M416 120h0M478 476h0M323 69h0M536 356h0M502 478h0M101 204h0M533 531h0M333 340h0M211 546h0M546 268h0M270 594h0M326 506h0M179 486h0M333 157h0M386 499h0M270 207h0M74 320h0M545 444h0M188 232h0M474 275h0M239 421h0M360 518h0M521 151h0M194 377h0M334 586h0M395 156h0M603 403h0M232 211h0M322 228h0M151 435h0M221 244h0M127 79h0M298 118h0M550 259h0M197 206h0M359 201h0M282 199h0M315 585h0M394 181h0M539 120h0M399 225h0M543 465h0M445 186h0M440 136h0M318 157h0M89 192h0M138 219h0M454 551h0M387 391h0M600 159h0M173 450h0M252 381h0M96 329h0M137 345h0M453 164h0M559 387h0M565 485h0M256 405h0M139 211h0M352 163h0M166 109h0M117 437h0M89 529h0M491 582h0M370 358h0M283 518h0M385 323h0M292 75h0M218 392h0M239 436h0M87 523h0M565 99h0M70 448h0M515 352h0M360 161h0M240 463h0M226 173h0M257 121h0M264 458h0M464 516h0M293 236h0M525 546h0M247 216h0M144 379h0M575 106h0M69 193h0M403 578h0M380 184h0M168 401h0M528 223h0M504 274h0M607 162h0M224 81h0M245 583h0M398 480h0M294 203h0M362 184h0M344 411h0M365 235h0M560 190h0M84 148h0M384 77h0M461 530h0M198 216h0M517 311h0M184 384h0M250 398h0M193 476h0M131 570h0M410 331h0M443 547h0M453 137h0M167 69h0M465 129h0M589 489h0M376 378h0M163 99h0M201 207h0M299 110h0M589 355h0M208 232h0M212 177h0M69 431h0M236 327h0M440 79h0M485 289h0M126 264h0M111 94h0M449 303h0M337 170h0M74 362h0M347 466h0M458 357h0M589 295h0M148 191h0M119 276h0M488 510h0M380 430h0M575 114h0M598 216h0M169 310h0M256 459h0M95 207h0M453 79h0M363 149h0M600 168h0M321 175h0M471 527h0M437 492h0M167 419h0M294 377h0M202 367h0M248 500h0M379 78h0M256 455h0M77 451h0M123 186h0M552 275h0M278 253h0M301 86h0M139 193h0M528 97h0M423 333h0M118 76h0M340 235h0M504 267h0M117 416h0M329 378h0M518 329h0M171 324h0M498 115h0M442 352h0M363 566h0M344 407h0M602 384h0M430 234h0M325 470h0M263 393h0M70 402h0M297 238h0M552 212h0M461 208h0M116 343h0M385 135h0M254 194h0M230 122h0M356 280h0M428 361h0M109 480h0M412 426h0M78 247h0M151 171h0M435 350h0M384 313h0M311 204h0M70 464h0M330 453h0M572 277h0M523 137h0M493 417h0M300 593h0M395 451h0M591 196h0M572 126h0M577 268h0M159 596h0M565 270h0M477 486h0M408 474h0M247 537h0M603 510h0M346 141h0M358 285h0M552 303h0M389 78h0M180 443h0M456 87h0M224 208h0M430 604h0M263 132h0M266 528h0M427 492h0M187 551h0M331 572h0M77 386h0M433 130h0M586 548h0M279 567h0M391 223h0M605 419h0M339 333h0M124 178h0M177 531h0M339 215h0M436 461h0M103 511h0M570 121h0M332 452h0M244 281h0M408 152h0M401 283h0M222 401h0M235 410h0M211 154h0M96 99h0M107 354h0M331 228h0M474 293h0M431 123h0M409 262h0M558 386h0M257 185h0M420 396h0M111 364h0M338 294h0M563 593h0M320 467h0M329 376h0M213 554h0M523 253h0M518 461h0M480 126h0M303 307h0M505 545h0M387 183h0M213 114h0M142 487h0M441 278h0M197 161h0M494 323h0M291 370h0M331 105h0M251 491h0M406 270h0M130 494h0M379 446h0M433 209h0M249 107h0M71 111h0M446 275h0M296 588h0M116 71h0M254 131h0M421 284h0M122 232h0M268 261h0M105 173h0M290 567h0M85 109h0M360 74h0M504 438h0M159 344h0M490 306h0M104 372h0M514 305h0M285 353h0M605 298h0M368 581h0M229 521h0M401 457h0M469 397h0M534 419h0M608 341h0M114 99h0M384 260h0M181 151h0M240 391h0M199 458h0M562 213h0M564 549h0M316 75h0M215 168h0M375 461h0M365 400h0M165 178h0M332 572h0M597 549h0M277 211h0M121 95h0M374 78h0M380 585h0M522 315h0M145 198h0M222 236h0M466 510h0M205 262h0M306 367h0M494 135h0M245 580h0M231 471h0M179 173h0M317 117h0M195 127h0M239 505h0M496 237h0M284 383h0M207 392h0M528 168h0M259 602h0M464 430h0M437 314h0M259 75h0M563 93h0M155 579h0M591 426h0M581 514h0M564 475h0M144 586h0M449 145h0M429 77h0M162 186h0M515 166h0M330 80h0M253 564h0M310 105h0M392 168h0M478 177h0M583 317h0M173 569h0M489 137h0M576 560h0M255 562h0M185 280h0M592 251h0M379 370h0M247 411h0M607 331h0M109 87h0M199 364h0M354 344h0M474 82h0M469 497h0M386 265h0M175 194h0M341 341h0M75 235h0M169 209h0M558 155h0M286 339h0M505 344h0M321 336h0M476 123h0M88 117h0M502 589h0M81 412h0M213 223h0M434 426h0M479 308h0M546 309h0M180 220h0M603 386h0M125 309h0M347 90h0M150 228h0M264 132h0M423 602h0M469 268h0M558 219h0M234 379h0M555 217h0M183 359h0M302 564h0M131 388h0M129 520h0M485 89h0M311 180h0M513 231h0M232 481h0M361 276h0M165 163h0M499 224h0M545 75h0M560 488h0M104 511h0M408 117h0M218 504h0M272 165h0M123 318h0M593 197h0M87 452h0M380 355h0M88 266h0M388 322h0M576 99h0M170 532h0M318 294h0M578 345h0M221 442h0M167 284h0M517 488h0M310 488h0M532 289h0M287 331h0M109 595h0M545 307h0M139 342h0M108 549h0M498 177h0M241 405h0M459 106h0M198 224h0M559 77h0M542 426h0M500 408h0M335 101h0M443 144h0M99 428h0M183 344h0M503 157h0M140 261h0M455 69h0M223 353h0M164 220h0M102 542h0M336 447h0M235 494h0M293 443h0M182 195h0M520 541h0M572 292h0M276 466h0M168 406h0M202 573h0M539 371h0M576 469h0M543 269h0M322 369h0M496 252h0M291 123h0M501 452h0M126 232h0M359 396h0M362 425h0M463 101h0M167 549h0M156 74h0M303 201h0M104 387h0M162 85h0M299 236h0M604 184h0M562 243h0M503 597h0M337 472h0M528 427h0M300 584h0M222 597h0M433 317h0M388 77h0M488 514h0M389 539h0M235 569h0M583 250h0M263 445h0M372 553h0M221 586h0M476 411h0M533 206h0M446 528h0M332 579h0M86 554h0M80 343h0M368 95h0M440 230h0M394 309h0M277 86h0M606 325h0M191 216h0M437 164h0M549 521h0M171 318h0M202 199h0M491 198h0M601 141h0M469 344h0M432 115h0M128 340h0M545 107h0M509 75h0M493 86h0M292 491h0M88 482h0M115 520h0M597 167h0M365 292h0M326 210h0M356 238h0M118 607h0M194 583h0M195 292h0M580 143h0M199 338h0M113 291h0M272 287h0M423 170h0M488 314h0M492 255h0M568 447h0M115 119h0M289 203h0M124 306h0M247 596h0M171 293h0M197 245h0M286 245h0M461 146h0M386 126h0M220 257h0M126 494h0M462 357h0M104 564h0M436 534h0M327 383h0M370 319h0M554 106h0M273 548h0M530 593h0M214 196h0M205 362h0M323 579h0M189 592h0M286 268h0M117 504h0M354 284h0M145 92h0M541 432h0M263 504h0M337 572h0M344 373h0M96 531h0M368 439h0M297 351h0M260 502h0M352 115h0M413 376h0M563 474h0M482 282h0M421 543h0M578 592h0M341 293h0M229 199h0M336 108h0M399 588h0M127 439h0M500 271h0M123 218h0M584 332h0M533 87h0M338 218h0M309 462h0M370 195h0M208 397h0M541 158h0M470 311h0M272 537h0M288 391h0M293 263h0M212 184h0M478 101h0M432 448h0M413 591h0M188 258h0M92 136h0M444 174h0M465 245h0M181 552h0M443 226h0M391 213h0M343 151h0M455 472h0M172 242h0M300 288h0M115 581h0M350 532h0M407 98h0M581 481h0M321 377h0M295 121h0M610 394h0M376 455h0M182 563h0M572 569h0M300 599h0M117 547h0M377 315h0M241 276h0M216 177h0M152 531h0M357 490h0M434 120h0M152 308h0M180 560h0M141 517h0M370 604h0M485 301h0M454 263h0M145 87h0M524 452h0M309 114h0M372 234h0M480 432h0M389 480h0M435 105h0M212 113h0M362 609h0M263 205h0M484 259h0M196 496h0M496 91h0M296 382h0M437 253h0M343 79h0M268 214h0M232 560h0M268 485h0M311 576h0M73 78h0M80 260h0M460 588h0M136 170h0M143 599h0M377 521h0M487 482h0M279 160h0M584 497h0M333 383h0M292 310h0M416 525h0M141 86h0M349 128h0M131 81h0M306 533h0M413 142h0M79 236h0M387 283h0M509 509h0M482 271h0M365 192h0M259 387h0M152 311h0M409 329h0M202 387h0M520 231h0M578 428h0M291 523h0M457 354h0M431 538h0M480 404h0M149 324h0M327 209h0M352 567h0M243 191h0M270 130h0M398 563h0M332 199h0M136 95h0M469 565h0M561 605h0M372 522h0M489 483h0M102 436h0M300 446h0M210 579h0M379 285h0M580 561h0M234 360h0M206 345h0M609 246h0M560 434h0M296 569h0M543 292h0M388 96h0M117 134h0M337 596h0M211 280h0M248 537h0M284 173h0M389 369h0M254 329h0M107 503h0M606 327h0M485 123h0M466 586h0M120 359h0M166 142h0M305 437h0M237 309h0M596 467h0M577 389h0M383 467h0M313 226h0M544 424h0M156 103h0M155 216h0M394 384h0M92 177h0M121 462h0M514 399h0M416 256h0M586 91h0M426 501h0M421 82h0M86 77h0M465 147h0M484 411h0M465 160h0M383 356h0M458 238h0M76 218h0M353 278h0M402 71h0M256 352h0M545 453h0M295 280h0M243 223h0M502 386h0M209 218h0M465 599h0M197 86h0M70 264h0M591 151h0M263 366h0M235 589h0M283 585h0M249 124h0M264 292h0M549 351h0M142 267h0M236 381h0M216 385h0M199 558h0M385 580h0M454 548h0M187 159h0M403 388h0M149 329h0M264 531h0M129 280h0M403 538h0M536 348h0M501 127h0M399 219h0M522 564h0M301 455h0M302 200h0M279 577h0M378 81h0M458 596h0M434 597h0M178 168h0M551 151h0M318 426h0M384 340h0M316 309h0M446 307h0M215 552h0M164 326h0M195 82h0M314 550h0M468 270h0M566 281h0M508 548h0M570 224h0M518 263h0M320 319h0M144 262h0M375 114h0M306 511h0M498 274h0M103 360h0M113 183h0M119 335h0M124 283h0M187 205h0M120 301h0M390 486h0M460 373h0M78 324h0M442 210h0M573 384h0M314 153h0M113 69h0M367 188h0M580 228h0M326 132h0M402 216h0M183 481h0M111 434h0M72 515h0M477 455h0M431 512h0M267 264h0M369 264h0M500 347h0M174 587h0M415 459h0M552 341h0M362 154h0M95 330h0M380 353h0M139 149h0M575 239h0M110 299h0M416 229h0M445 378h0M362 223h0M479 347h0M598 519h0M504 545h0M605 135h0M355 261h0M176 482h0M182 354h0M379 108h0M202 459h0M609 397h0M76 73h0M468 429h0M422 501h0M149 180h0M224 167h0M393 341h0M84 382h0M479 487h0M349 114h0M508 549h0M141 381h0M88 357h0M197 205h0M84 112h0M583 220h0M191 134h0M398 540h0M271 78h0M505 475h0M258 545h0M333 172h0M474 465h0M290 257h0M285 525h0M438 187h0M377 232h0M135 195h0M490 304h0M201 253h0M409 188h0M159 287h0M543 601h0M84 310h0M339 401h0M576 254h0M350 504h0M552 404h0M567 219h0M558 333h0M196 502h0M299 135h0M204 296h0M120 518h0M201 82h0M290 95h0M260 348h0M601 407h0M251 180h0M444 449h0M600 234h0M529 87h0M82 371h0M382 479h0M271 461h0M579 421h0M219 128h0M182 226h0M433 252h0M163 409h0M407 400h0M496 87h0M90 201h0M261 357h0M594 178h0M205 207h0M185 110h0M482 532h0M278 579h0M271 434h0M393 419h0M487 97h0M263 111h0M100 478h0M283 238h0M293 155h0M571 309h0M134 559h0M374 217h0M389 120h0M503 342h0M363 589h0M305 589h0M408 417h0M475 362h0M427 337h0M307 73h0M286 169h0M451 311h0M275 96h0M481 205h0M148 332h0M481 123h0M340 260h0M278 314h0M354 421h0M379 491h0M223 330h0M261 463h0M179 448h0M552 360h0M556 327h0M607 577h0M606 100h0M225 454h0M358 501h0M154 545h0M564 201h0M171 311h0M484 485h0M356 123h0M516 524h0M302 409h0M99 432h0M168 521h0M140 548h0M340 449h0M298 523h0M87 264h0M205 93h0M313 148h0M78 358h0M503 554h0M329 163h0M569 422h0M392 143h0M428 113h0M346 255h0M556 455h0M129 467h0M110 553h0M521 136h0M85 184h0M343 205h0M271 334h0M610 607h0M422 198h0M328 584h0M273 448h0M287 361h0M539 452h0M459 168h0M237 232h0M534 239h0M375 217h0M577 400h0M491 345h0M244 192h0M158 596h0M134 329h0M316 407h0M371 522h0M475 442h0M277 96h0M592 82h0M223 559h0M492 328h0M139 472h0M518 215h0M271 367h0M367 75h0M81 440h0M584 122h0M568 195h0M481 265h0M535 75h0M102 282h0M146 106h0M379 131h0M239 301h0M292 318h0M296 100h0M221 475h0M515 600h0M257 327h0M348 108h0M403 253h0M594 583h0M484 179h0M534 506h0M82 89h0M357 332h0M207 506h0M256 575h0M199 492h0M608 308h0M241 249h0M126 128h0M487 147h0M465 562h0M77 564h0M101 521h0M153 163h0M415 78h0M411 603h0M504 272h0M177 371h0M355 126h0M597 153h0M549 215h0M186 391h0M125 87h0M555 525h0M354 437h0M178 283h0M469 294h0M174 444h0M281 182h0M316 477h0M134 509h0M223 167h0M545 458h0M536 169h0M93 404h0M435 157h0M321 215h0M156 581h0M497 471h0M370 576h0M329 366h0M399 179h0M455 116h0M427 503h0M274 441h0M177 497h0M395 509h0M354 94h0M175 149h0M160 533h0M485 303h0M472 92h0M247 156h0M330 131h0M382 313h0M157 473h0M512 149h0M114 180h0M202 121h0M458 482h0M536 126h0M575 218h0M606 138h0M142 495h0M552 389h0M415 484h0M288 438h0M576 419h0M168 517h0M455 400h0M567 408h0M159 274h0M198 558h0M521 445h0M579 224h0M392 216h0M237 333h0M305 438h0M147 505h0M560 467h0M262 121h0M217 431h0M467 565h0M577 222h0M416 363h0M365 500h0M537 79h0M583 279h0M185 297h0M379 282h0M378 201h0M445 558h0M258 113h0M129 150h0M143 405h0M361 117h0M144 515h0M314 187h0M486 344h0M408 318h0M573 465h0M173 579h0M397 527h0M557 540h0M336 246h0M407 542h0M124 508h0M293 478h0M70 263h0M244 348h0M330 251h0M205 486h0M83 430h0M605 173h0M364 264h0M559 420h0M82 348h0M536 320h0M590 529h0M285 303h0M539 365h0M532 405h0M358 453h0M324 288h0M473 539h0M520 92h0M606 296h0M528 567h0M368 75h0M570 297h0M553 578h0M198 421h0M78 69h0M113 111h0M432 115h0M454 153h0M347 488h0M191 295h0M263 408h0M567 243h0M262 152h0M465 324h0M238 272h0M197 510h0M467 564h0M497 419h0M275 602h0M339 70h0M492 100h0M372 128h0M140 225h0M390 474h0M530 495h0M593 512h0M584 606h0M392 195h0M162 379h0M487 434h0M535 408h0M343 441h0M411 458h0M332 388h0M213 178h0M158 562h0M419 371h0M438 311h0M181 553h0M366 162h0M104 595h0M519 286h0M278 466h0M442 422h0M562 456h0M374 487h0M315 538h0M580 275h0M303 544h0M465 233h0M592 593h0M560 341h0M422 178h0M407 89h0M379 85h0M178 391h0M560 559h0M229 583h0M149 263h0M430 228h0M269 558h0M570 488h0M282 80h0M453 515h0M529 378h0M385 283h0M109 322h0M408 593h0M345 409h0M233 609h0M86 79h0M140 83h0M205 133h0M103 141h0M603 413h0M466 141h0M268 115h0M358 520h0M251 346h0M457 292h0M320 357h0M538 342h0M137 70h0M135 471h0M183 202h0M238 293h0M149 315h0M157 308h0M278 486h0M523 91h0M90 589h0M378 376h0M353 114h0M204 350h0M456 215h0M316 284h0M261 445h0M452 100h0M94 241h0M100 481h0M114 386h0M341 385h0M262 326h0M506 360h0M393 443h0M548 82h0M196 77h0M388 220h0M562 246h0M352 494h0M167 460h0M190 610h0M148 126h0M78 69h0M374 111h0M227 510h0M314 550h0M124 92h0M512 548h0M534 606h0M438 193h0M82 375h0M579 169h0M515 279h0M485 430h0M273 176h0M519 106h0M316 204h0M487 340h0M169 506h0M125 537h0M392 375h0M364 384h0M138 375h0M333 223h0M295 156h0M359 218h0M464 539h0M217 257h0M90 258h0M400 546h0M340 280h0M87 297h0M71 406h0M107 363h0M200 198h0M279 228h0M311 216h0M346 489h0M113 256h0M422 582h0M506 77h0M570 445h0M404 312h0M87 184h0M527 328h0M440 589h0M449 533h0M584 489h0M222 178h0M267 233h0M603 526h0M319 248h0M200 447h0M560 233h0M152 205h0M267 235h0M191 440h0M566 452h0M232 479h0M429 374h0M535 110h0M487 377h0M493 250h0M165 477h0M300 136h0M466 551h0M386 351h0M280 159h0M310 69h0M378 281h0M384 238h0M105 272h0M340 464h0M410 539h0M397 493h0M161 409h0M398 503h0M198 560h0M225 89h0M313 78h0M262 331h0M164 502h0M191 563h0M480 570h0M276 265h0M134 219h0M449 360h0M202 125h0M504 112h0M487 481h0M405 134h0M154 161h0M199 413h0M194 436h0M128 507h0M323 193h0M521 379h0M408 530h0M338 111h0M418 571h0M474 442h0M216 125h0M434 84h0M220 450h0M235 491h0M145 241h0M409 81h0M488 520h0M96 242h0M453 124h0M145 404h0M429 428h0M93 578h0M106 576h0M280 301h0M472 113h0M178 327h0M334 165h0M547 527h0M181 452h0M152 433h0M532 508h0M179 573h0M603 561h0M154 551h0M476 412h0M334 401h0M455 546h0M444 528h0M427 377h0M401 257h0M523 425h0M319 70h0M90 324h0M518 346h0M160 139h0M142 600h0M360 148h0M446 224h0M90 69h0M427 352h0M77 370h0M132 523h0M151 389h0M144 525h0M158 422h0M93 536h0M610 262h0M111 505h0M241 581h0M587 388h0M522 441h0M313 86h0M532 542h0M192 131h0M361 78h0M125 386h0M601 541h0M240 232h0M381 439h0M191 355h0M191 535h0M280 368h0M322 117h0M169 419h0M106 445h0M193 571h0M580 608h0M94 539h0M323 455h0M343 101h0M517 500h0M319 293h0M82 106h0M353 354h0M370 265h0M540 572h0M334 77h0M440 269h0M234 436h0M105 144h0M530 504h0M86 268h0M393 529h0M285 206h0M441 196h0M294 369h0M199 148h0M582 343h0M231 190h0M297 513h0M458 203h0M538 230h0M391 238h0M550 464h0M498 376h0M519 522h0M103 580h0M346 208h0M205 403h0M340 357h0M208 107h0M506 279h0M365 527h0M594 434h0M83 520h0M244 349h0M386 508h0M324 597h0M491 522h0M405 577h0M415 355h0M295 259h0M511 368h0M169 252h0M211 439h0M140 279h0M516 562h0M299 474h0M422 69h0M351 434h0M459 444h0M551 370h0M411 149h0M192 175h0M466 464h0M406 192h0M79 136h0M157 358h0M394 494h0M428 439h0M123 202h0M526 595h0M181 167h0M479 206h0M348 519h0M358 166h0M603 504h0M514 541h0M241 94h0M505 541h0M300 271h0M379 332h0M454 385h0M472 522h0M361 569h0M301 563h0M603 137h0M550 510h0M469 397h0M414 364h0M368 201h0M390 321h0M126 231h0M442 546h0M461 287h0M235 421h0M533 461h0M411 493h0M297 481h0M238 236h0M461 233h0M544 287h0M429 231h0M131 322h0M457 147h0M305 605h0M211 302h0M372 225h0M162 574h0M445 372h0M220 417h0M202 551h0M457 556h0M72 571h0M278 294h0M527 436h0M230 179h0M69 433h0M423 343h0M212 307h0M76 387h0M435 353h0M233 340h0M105 467h0M366 321h0M110 484h0M86 545h0M405 540h0M291 478h0M355 72h0M517 559h0M110 204h0M539 214h0M118 246h0M537 349h0M198 323h0M346 440h0M92 377h0M527 593h0M283 403h0M196 501h0M417 131h0M408 497h0M558 162h0M303 481h0M264 418h0M472 478h0M529 431h0M178 435h0M102 126h0M281 162h0M527 223h0M293 538h0M86 602h0M212 415h0M485 543h0M126 344h0M422 555h0M445 303h0M178 230h0M453 399h0M180 298h0M397 468h0M599 364h0M465 248h0M341 564h0M221 393h0M475 211h0M542 240h0M144 188h0M375 309h0M369 495h0M394 547h0M360 256h0M456 363h0M140 150h0M425 433h0M324 233h0M297 306h0M433 76h0M587 388h0M233 559h0M196 139h0M569 307h0M209 287h0M495 536h0M143 328h0M502 516h0M343 536h0M146 227h0M259 374h0M391 346h0M515 557h0M374 128h0M550 390h0M429 372h0M370 176h0M606 291h0M395 381h0M278 538h0M104 119h0M219 540h0M260 539h0M227 536h0M252 114h0M71 302h0M418 388h0M374 407h0M588 477h0M74 137h0M507 332h0M370 522h0M601 539h0M187 98h0M451 564h0M580 257h0M551 152h0M527 583h0M439 118h0M540 519h0M242 527h0M87 554h0M353 199h0M389 168h0M497 183h0M363 75h0M240 376h0M334 157h0M122 80h0M470 423h0M249 572h0M294 470h0M414 164h0M556 409h0M191 373h0M277 220h0M404 403h0M212 429h0M347 290h0M141 352h0M301 596h0M357 566h0M536 301h0M155 541h0M343 144h0M574 379h0M213 186h0M377 497h0M313 412h0M371 398h0M210 303h0M486 264h0M433 311h0M406 373h0M498 125h0M105 78h0M197 569h0M371 383h0M209 104h0M468 352h0M517 306h0M126 378h0M504 265h0M486 346h0M326 311h0M218 329h0M257 314h0M588 432h0M145 82h0M141 212h0M274 255h0M88 418h0M215 383h0M203 195h0M281 325h0M387 438h0M280 299h0M139 198h0M214 359h0M224 335h0M115 364h0M326 372h0M73 601h0M512 166h0M91 273h0M516 230h0M133 438h0M592 444h0M96 271h0M446 225h0M246 156h0M349 566h0M604 573h0M281 397h0M380 255h0M271 523h0M159 477h0M126 70h0M286 120h0M527 344h0M341 74h0M187 519h0M172 449h0M397 432h0M439 356h0M260 102h0M206 569h0M478 459h0M251 236h0M334 167h0M573 149h0M536 141h0M538 376h0M490 462h0M597 470h0M377 503h0M83 380h0M479 172h0M515 303h0M266 90h0M582 112h0M242 244h0M456 431h0M189 460h0M87 382h0M242 299h0M420 76h0M581 287h0M122 497h0M312 508h0M494 438h0M99 277h0M425 374h0M254 441h0M313 407h0M603 286h0M145 132h0M321 486h0M326 574h0M394 267h0M240 451h0M188 218h0M467 243h0M191 386h0M571 592h0M497 434h0M253 206h0M81 440h0M495 321h0M414 248h0M442 214h0M594 573h0M106 278h0M362 531h0M515 297h0M208 157h0M131 140h0M429 134h0M570 77h0M103 272h0M536 543h0M106 414h0M152 290h0M349 287h0M212 489h0M191 607h0M462 462h0M392 336h0M187 313h0M80 439h0M441 429h0M166 167h0M107 238h0M103 376h0M333 496h0M474 303h0M91 215h0M499 463h0M558 577h0M444 272h0M299 377h0M477 302h0M296 71h0M533 273h0M150 120h0M110 465h0M360 263h0M581 441h0M524 129h0M105 220h0M553 164h0M376 454h0M117 124h0M461 326h0M340 134h0M374 384h0M139 412h0M340 196h0M125 561h0M101 191h0M308 474h0M128 139h0M600 100h0M374 138h0M598 297h0M491 603h0M114 143h0M550 488h0M131 167h0M521 568h0M311 105h0M533 445h0M350 357h0M209 480h0M594 368h0M113 177h0M574 403h0M266 176h0M356 526h0M334 178h0M394 600h0M185 376h0M315 147h0M199 377h0M163 427h0M268 149h0M158 231h0M561 252h0M241 455h0M381 498h0M137 220h0M196 364h0M148 134h0M552 291h0M455 290h0M253 577h0M305 566h0M298 432h0M399 475h0M471 559h0M248 330h0M537 73h0M607 179h0M174 480h0M480 222h0M137 301h0M234 447h0M466 321h0M272 551h0M114 88h0M228 204h0M303 359h0M392 209h0M308 532h0M372 607h0M329 447h0M521 544h0M519 368h0M215 527h0M423 201h0M442 576h0M154 336h0M311 605h0M559 517h0M135 194h0M437 256h0M260 367h0M404 261h0M408 412h0M580 215h0M294 592h0M299 370h0M369 439h0M196 154h0M371 160h0M438 482h0M371 460h0M223 530h0M506 539h0M299 343h0M222 480h0M588 118h0M376 125h0M142 598h0M315 325h0M581 333h0M494 599h0M203 180h0M437 516h0M333 456h0M412 339h0M117 120h0M85 122h0M445 485h0M273 523h0M307 254h0M91 309h0M363 157h0M586 86h0M264 143h0M498 107h0M172 296h0M203 468h0M309 282h0M334 204h0M510 317h0M345 216h0M473 567h0M450 483h0M501 590h0M208 110h0M480 505h0M231 316h0M138 277h0M466 545h0M373 443h0M276 341h0M79 336h0M76 335h0M495 313h0M432 606h0M189 148h0M497 247h0M561 227h0M418 164h0M476 610h0M88 278h0M145 282h0M303 575h0M515 143h0M399 110h0M338 378h0M75 379h0M599 403h0M187 557h0M591 230h0M244 217h0M380 561h0M397 457h0M338 80h0M539 290h0M422 329h0M332 474h0M374 601h0M535 300h0M384 408h0M120 201h0M482 366h0M71 345h0M433 596h0M299 209h0M589 274h0M466 467h0M412 480h0M188 334h0M86 179h0M225 603h0M495 247h0M597 372h0M297 312h0M589 306h0M539 79h0M528 158h0M360 210h0M199 468h0M292 223h0M218 356h0M513 360h0M275 79h0M285 365h0M451 245h0M153 312h0M462 591h0M548 315h0M235 397h0M197 445h0M367 581h0M610 475h0M597 334h0M143 586h0M235 228h0M86 300h0M94 277h0M528 138h0M531 443h0M532 179h0M431 416h0M218 204h0M193 410h0M499 86h0M533 198h0M123 154h0M360 271h0M307 388h0M104 414h0M513 603h0M557 437h0M157 153h0M353 326h0M127 400h0M246 461h0M545 250h0M526 339h0M531 466h0M512 608h0M253 113h0M410 94h0M129 251h0M322 343h0M231 466h0M185 214h0M403 376h0M478 403h0M247 406h0M89 495h0M413 188h0M565 485h0M568 88h0M429 506h0M294 377h0M186 133h0M569 456h0M508 88h0M491 416h0M171 166h0M390 195h0M307 585h0M216 535h0M315 270h0M460 69h0M344 164h0M527 178h0M295 441h0M149 282h0M256 526h0M431 138h0M214 466h0M308 144h0M307 485h0M483 469h0M233 388h0M108 194h0M265 148h0M461 371h0M300 471h0M508 308h0M450 477h0M217 576h0M286 222h0M125 455h0M399 368h0M262 255h0M329 543h0M548 163h0M475 513h0M454 130h0M414 605h0M563 110h0M556 406h0M166 255h0M296 486h0M284 524h0M575 563h0M581 89h0M393 323h0M134 118h0M275 348h0M247 264h0M297 571h0M463 319h0M455 219h0M226 505h0M537 503h0M528 603h0M501 168h0M577 400h0M271 310h0M107 177h0M261 604h0M186 385h0M210 171h0M357 362h0M200 78h0M470 306h0M239 156h0M240 355h0M364 90h0M247 314h0M69 222h0M170 177h0M411 352h0M531 382h0M520 314h0M557 265h0M586 483h0M148 403h0M85 536h0M319 530h0M599 531h0M176 532h0M547 257h0M229 323h0M419 578h0M268 424h0M338 236h0M410 201h0M259 480h0M120 293h0M94 442h0M571 322h0M368 509h0M489 593h0M230 476h0M92 606h0M598 495h0M77 583h0M349 79h0M431 217h0M420 247h0M384 408h0M543 346h0M334 438h0M362 483h0M421 513h0M365 357h0M470 600h0M86 309h0M460 278h0M513 372h0M577 333h0M448 161h0M290 380h0M293 509h0M291 519h0M602 97h0M183 476h0M537 471h0M78 268h0M431 365h0M550 314h0M468 281h0M237 349h0M434 243h0M287 373h0M282 448h0M454 227h0M555 237h0M218 603h0M208 578h0M234 509h0M275 358h0M384 580h0M194 328h0M448 403h0M146 518h0M454 177h0M430 581h0M292 120h0M280 194h0M379 239h0M230 228h0M86 135h0M159 369h0M512 430h0M340 423h0M227 443h0M561 147h0M90 530h0M524 167h0M248 350h0M161 464h0M151 566h0M603 385h0M186 355h0M143 419h0M569 457h0M285 557h0M449 303h0M220 234h0M302 610h0M123 532h0M414 277h0M218 134h0M386 456h0M374 209h0M216 585h0M581 80h0M344 577h0M341 359h0M227 257h0M136 118h0M82 122h0M542 472h0M587 508h0M278 229h0M354 220h0M232 416h0M179 96h0M376 304h0M361 576h0M277 223h0M428 351h0M390 215h0M200 272h0M561 388h0M300 239h0M455 369h0M111 234h0M352 140h0M220 470h0M243 397h0M323 233h0M556 478h0M561 303h0M434 142h0M604 344h0M577 281h0M246 209h0M129 254h0M233 577h0M217 307h0M82 245h0M93 202h0M69 367h0M267 576h0M395 88h0M187 365h0M546 526h0M75 168h0M337 294h0M568 240h0M413 270h0M428 317h0M310 127h0M178 437h0M159 259h0M354 325h0M604 308h0M103 499h0M597 397h0M337 381h0M270 203h0M492 383h0M212 226h0M570 472h0M421 501h0M290 393h0M232 260h0M247 573h0M514 469h0M431 527h0M208 412h0M354 560h0M205 495h0M110 459h0M190 76h0M460 174h0M131 270h0M456 379h0M350 374h0M507 523h0M542 540h0M213 165h0M250 104h0M201 561h0M93 555h0M436 69h0M116 431h0M273 458h0M370 471h0M153 113h0M195 71h0M144 188h0M148 538h0M482 486h0M140 362h0M261 129h0M192 224h0M161 209h0M126 224h0M572 463h0M593 538h0M270 450h0M99 102h0M168 84h0M560 296h0M72 164h0M475 465h0M498 412h0M171 109h0M523 359h0M395 169h0M213 513h0M252 308h0M260 344h0M280 588h0M315 463h0M266 490h0M226 607h0M478 178h0M292 376h0M160 144h0M370 568h0M466 467h0M99 566h0M179 472h0M344 125h0M342 600h0M465 477h0M596 583h0M250 100h0M344 346h0M280 476h0M97 133h0M161 397h0M239 281h0M283 249h0M377 99h0M429 567h0M157 379h0M381 231h0M436 478h0M328 292h0M469 256h0M326 258h0M506 134h0M332 487h0M466 148h0M451 128h0M99 460h0M157 519h0M273 251h0M603 118h0M413 326h0M470 354h0M511 302h0M242 510h0M189 380h0M326 482h0M605 341h0M85 317h0M425 283h0M249 119h0M600 345h0M108 446h0M340 511h0M551 501h0M546 246h0M138 386h0M427 71h0M318 95h0M342 599h0M497 354h0M426 328h0M304 579h0M211 459h0M554 415h0M313 179h0M150 116h0M546 114h0M387 390h0M168 449h0M89 223h0M367 368h0M392 478h0M126 304h0M307 120h0M268 483h0M134 529h0M567 284h0M234 271h0M589 114h0M80 319h0M418 610h0M141 465h0M159 460h0M334 467h0M339 174h0M501 416h0M84 279h0M547 578h0M539 381h0M314 88h0M387 153h0M445 380h0M513 243h0M609 378h0M247 149h0M80 154h0M493 131h0M555 576h0M94 440h0M111 597h0M86 225h0M369 320h0M424 568h0M598 586h0M396 121h0M566 150h0M531 495h0M459 122h0M422 155h0M487 392h0M202 173h0M326 366h0M562 465h0M144 516h0M510 140h0M76 103h0M284 443h0M282 458h0M549 463h0M379 184h0M510 531h0M303 239h0M100 543h0M77 127h0M175 379h0M133 455h0M407 448h0M79 501h0M251 254h0M334 389h0M355 220h0M328 109h0M268 480h0M361 182h0M475 105h0M134 470h0M520 521h0M508 424h0M425 336h0M452 563h0M289 159h0M324 527h0M588 201h0M85 163h0M140 202h0M189 491h0M152 87h0M344 181h0M113 196h0M567 107h0M518 593h0M542 98h0M146 295h0M303 338h0M497 564h0M293 335h0M456 538h0M504 79h0M444 134h0M508 496h0M274 366h0M577 312h0M247 331h0M376 500h0M482 112h0M169 245h0M194 461h0M276 487h0M299 244h0M219 339h0M227 421h0M591 439h0M251 473h0M223 218h0M532 456h0M69 179h0M323 436h0M507 348h0M344 236h0M190 191h0M465 411h0M291 128h0M98 456h0M106 290h0M214 339h0M124 256h0M522 428h0M427 301h0M303 546h0M572 278h0M175 186h0M484 121h0M101 142h0M372 139h0M321 305h0M119 186h0M125 532h0M554 591h0M444 246h0M163 418h0M314 605h0M569 244h0M386 233h0M504 534h0M546 585h0M534 597h0M138 544h0M104 102h0M467 407h0M288 249h0M321 495h0M441 339h0M103 179h0M232 359h0M461 119h0M140 208h0M252 72h0M478 296h0M491 139h0M111 136h0M584 389h0M196 399h0M80 89h0M226 560h0M87 116h0M264 256h0M384 399h0M177 494h0M401 440h0M168 486h0M330 178h0M105 70h0M521 521h0M563 523h0M444 137h0M212 98h0M420 456h0M267 473h0M296 194h0M559 278h0M481 556h0M85 334h0M458 516h0M502 153h0M146 565h0M546 364h0M175 315h0M403 556h0M412 541h0M273 103h0M486 481h0M360 270h0M549 589h0M283 571h0M205 348h0M244 236h0M449 509h0M73 310h0M298 136h0M401 353h0M242 147h0M291 425h0M262 101h0M163 154h0M500 142h0M214 563h0M314 185h0M522 225h0M476 403h0M389 127h0M77 394h0M559 116h0M428 560h0M466 513h0M560 136h0M191 525h0M610 481h0M441 512h0M469 336h0M182 582h0M583 395h0M436 203h0M375 135h0M87 333h0M408 121h0M380 554h0M564 366h0M274 77h0M481 582h0M571 598h0M585 355h0M202 97h0M397 387h0M394 507h0M605 421h0M452 608h0M90 192h0M88 202h0M373 522h0M119 438h0M262 189h0M426 448h0M98 293h0M73 286h0M184 300h0M494 520h0M403 546h0M541 203h0M86 513h0M455 334h0M335 330h0M478 183h0M238 104h0M512 547h0M402 127h0M496 177h0M204 119h0M295 600h0M175 487h0M523 193h0M202 435h0M493 146h0M560 233h0M225 555h0M166 172h0M451 435h0M323 574h0M105 139h0M154 572h0M448 337h0M442 118h0M543 335h0M573 417h0M183 521h0M159 545h0M491 360h0M249 395h0M274 361h0M203 542h0M414 531h0M361 87h0M456 540h0M104 354h0M386 86h0M499 221h0M587 287h0M506 512h0M391 159h0M414 339h0M572 580h0M359 471h0M267 148h0M169 345h0M506 263h0M271 402h0M268 330h0M392 422h0M276 387h0M393 472h0M145 393h0M230 205h0M431 560h0M364 426h0M266 234h0M334 215h0M282 164h0M609 125h0M267 609h0M470 318h0M149 389h0M234 416h0M201 146h0M162 510h0M450 240h0M191 415h0M284 145h0M515 243h0M177 289h0M575 200h0M594 150h0M182 435h0M436 149h0M330 236h0M209 179h0M142 576h0M602 367h0M410 371h0M287 349h0M186 390h0M181 550h0M298 507h0M360 395h0M256 601h0M368 582h0M479 348h0M492 250h0M141 144h0M180 278h0M346 340h0M276 252h0M441 600h0M316 184h0M277 544h0M300 177h0M253 517h0M315 433h0M79 169h0M255 273h0M127 202h0M378 352h0M159 589h0M278 514h0M156 303h0M228 582h0M385 437h0M133 165h0M395 309h0M129 176h0M308 328h0M128 107h0M287 503h0M98 271h0M592 373h0M587 564h0M451 210h0M284 129h0M546 373h0M559 123h0M372 382h0M463 202h0M294 330h0M418 208h0M503 143h0M575 380h0M399 558h0M343 81h0M83 272h0M393 509h0M598 255h0M317 483h0M315 114h0M122 497h0M398 481h0M263 282h0M322 394h0M321 241h0M359 506h0M570 469h0M272 516h0M256 589h0M256 422h0M205 542h0M506 139h0M403 223h0M463 325h0M249 390h0M491 479h0M120 435h0M218 283h0M439 492h0M468 331h0M123 566h0M480 138h0M590 156h0M605 225h0M245 156h0M488 352h0M445 338h0M291 507h0M482 437h0M344 106h0M151 496h0M244 609h0M151 455h0M83 98h0M181 206h0M161 474h0M220 311h0M408 263h0M481 562h0M357 291h0M234 428h0M251 105h0M511 145h0M399 347h0M213 318h0M321 503h0M283 183h0M273 472h0M536 424h0M336 126h0M567 111h0M201 569h0M157 187h0M320 429h0M238 251h0M359 273h0M169 508h0M142 356h0M592 314h0M222 421h0M120 268h0M546 519h0M500 111h0M389 425h0M170 568h0M255 79h0M87 531h0M83 135h0M581 348h0M218 165h0M477 187h0M128 602h0M395 171h0M581 349h0M465 580h0M345 465h0M436 523h0M94 306h0M247 510h0M379 272h0M272 392h0M375 521h0M222 598h0M287 523h0M579 246h0M395 508h0M87 535h0M535 520h0M606 441h0M164 192h0M304 610h0M138 483h0M194 76h0M410 519h0M284 462h0M369 271h0M465 473h0M495 172h0M353 246h0M463 184h0M93 455h0M541 195h0M214 404h0M558 324h0M549 312h0M448 605h0M557 245h0M269 374h0M192 233h0M234 484h0M431 463h0M129 311h0M350 596h0M144 378h0M372 121h0M552 598h0M166 137h0M74 367h0M535 70h0M482 297h0M72 443h0M384 141h0M481 601h0M204 208h0M503 338h0M102 499h0M210 259h0M319 603h0M524 255h0M488 178h0M417 357h0M229 285h0M271 340h0M90 353h0M401 477h0M289 366h0M397 498h0M492 571h0M153 274h0M363 94h0M106 277h0M560 504h0M256 207h0M294 89h0M267 211h0M320 299h0M237 81h0M606 607h0M444 197h0M450 341h0M574 227h0M216 438h0M127 462h0M583 368h0M98 148h0M209 178h0M515 576h0M74 308h0M216 321h0M372 539h0M317 445h0M226 145h0M531 210h0M328 319h0M529 453h0M208 518h0M249 83h0M422 266h0M157 86h0M338 278h0M593 362h0M255 404h0M332 172h0M381 542h0M299 438h0M415 440h0"/><path stroke="#a4a4a4" stroke-width="1.0" stroke-linecap="square" fill="none" d="M487 586h0M473 570h0M558 341h0M115 222h0M350 491h0M561 431h0M539 429h0M299 460h0M415 209h0M165 607h0M222 499h0M588 256h0M247 551h0M380 138h0M243 534h0M353 107h0M87 171h0M411 596h0M302 150h0M164 434h0M488 186h0M268 557h0M288 294h0M293 91h0M475 434h0M444 590h0M212 549h0M121 539h0M224 483h0M122 384h0M255 206h0M280 463h0M503 421h0M212 364h0M571 428h0M199 597h0M520 237h0M373 526h0M181 405h0M521 106h0M601 251h0M88 196h0M275 226h0M220 126h0M117 453h0M307 265h0M90 433h0M157 149h0M362 166h0M335 283h0M158 385h0M412 367h0M160 220h0M208 176h0M486 328h0M550 492h0M388 400h0M166 602h0M545 510h0M565 187h0M606 220h0M410 310h0M602 502h0M542 498h0M76 393h0M400 259h0M409 536h0M475 519h0M72 458h0M494 312h0M380 244h0M458 388h0M500 549h0M154 161h0M536 355h0M322 561h0M199 116h0M298 509h0M500 553h0M399 170h0M241 241h0M460 136h0M312 418h0M192 390h0M472 317h0M474 479h0M289 211h0M280 409h0M411 167h0M425 320h0M346 179h0M542 358h0M105 130h0M70 600h0M447 545h0M76 484h0M355 353h0M451 464h0M589 451h0M364 534h0M301 185h0M333 174h0M145 337h0M494 147h0M78 364h0M375 450h0M480 256h0M601 295h0M406 582h0M598 477h0M570 75h0M124 97h0M492 128h0M165 478h0M416 493h0M162 216h0M138 157h0M215 187h0M332 127h0M452 392h0M512 448h0M436 261h0M298 105h0M391 610h0M497 88h0M225 549h0M602 163h0M501 205h0M503 142h0M221 471h0M404 119h0M534 123h0M538 386h0M345 402h0M80 305h0M427 321h0M473 97h0M190 590h0M484 322h0M422 491h0M413 300h0M477 510h0M282 531h0M585 458h0M240 103h0M523 334h0M389 140h0M321 271h0M379 133h0M546 288h0M228 565h0M593 248h0M91 274h0M473 121h0M128 564h0M294 481h0M188 437h0M219 364h0M299 575h0M420 166h0M533 574h0M271 183h0M110 139h0M286 275h0M491 367h0M117 520h0M562 362h0M547 259h0M463 419h0M184 78h0M335 286h0M595 91h0M432 244h0M342 324h0M339 78h0M464 499h0M317 371h0M292 276h0M103 279h0M424 415h0M473 171h0M291 361h0M451 503h0M530 360h0M354 156h0M203 256h0M561 350h0M296 114h0M223 450h0M486 326h0M264 550h0M529 346h0M466 604h0M545 201h0M381 512h0M519 128h0M166 95h0M600 122h0M558 153h0M212 424h0M285 524h0M282 366h0M282 253h0M345 315h0M140 70h0M262 445h0M475 414h0M322 212h0M595 373h0M453 516h0M154 375h0M290 340h0M140 424h0M195 364h0M314 430h0M351 123h0M449 352h0M98 377h0M132 111h0M150 172h0M357 133h0M100 428h0M496 151h0M190 182h0M182 176h0M333 126h0M389 457h0M217 386h0M585 345h0M167 196h0M225 85h0M242 502h0M281 605h0M349 279h0M308 492h0M361 476h0M558 558h0M601 434h0M558 452h0M578 281h0M279 560h0M529 328h0M200 309h0M254 489h0M104 365h0M583 165h0M107 284h0M191 458h0M290 236h0M472 312h0M132 284h0M264 197h0M407 386h0M525 69h0M150 493h0M178 601h0M603 354h0M243 191h0M604 126h0M105 389h0M267 539h0M362 94h0M376 252h0M531 422h0M281 90h0M288 496h0M134 227h0M504 96h0M226 238h0M248 315h0M505 564h0M593 397h0M539 273h0M588 587h0M269 400h0M82 527h0M388 178h0M179 145h0M134 108h0M125 142h0M157 226h0M358 100h0M237 551h0M490 551h0M102 592h0M500 244h0M378 199h0M364 197h0M413 505h0M291 332h0M562 168h0M471 581h0M370 108h0M164 279h0M265 256h0M539 216h0M504 199h0M105 383h0M249 540h0M503 266h0M99 92h0M491 546h0M587 401h0M363 534h0M434 406h0M608 293h0M467 204h0M257 464h0M76 441h0M166 399h0M310 84h0M162 278h0M367 345h0M188 566h0M365 291h0M472 384h0M198 91h0M150 262h0M425 290h0M494 399h0M577 326h0M360 396h0M458 540h0M358 273h0M103 506h0M266 586h0M281 315h0M489 587h0M296 243h0M105 76h0M428 82h0M444 304h0M84 376h0M405 383h0M581 176h0M375 192h0M160 474h0M499 494h0M546 531h0M86 442h0M504 484h0M437 343h0M166 161h0M95 485h0M89 444h0M410 342h0M154 262h0M378 149h0M327 601h0M317 598h0M228 245h0M412 393h0M100 201h0M212 88h0M211 81h0M144 422h0M409 425h0M140 127h0M437 222h0M489 338h0M548 396h0M157 562h0M155 547h0M320 352h0M229 93h0M153 343h0M497 362h0M309 531h0M213 580h0M409 514h0M277 335h0M467 179h0M534 235h0M480 178h0M145 128h0M453 203h0M544 291h0M74 170h0M546 155h0M176 132h0M425 138h0M405 497h0M550 295h0M394 476h0M333 365h0M336 74h0M294 542h0M213 105h0M310 219h0M394 571h0M145 236h0M213 366h0M251 581h0M364 404h0M178 377h0M576 134h0M148 506h0M321 130h0M309 311h0M135 491h0M110 372h0M463 337h0M515 230h0M542 324h0M452 376h0M515 446h0M72 94h0M302 180h0M161 113h0M508 134h0M559 367h0M94 188h0M216 231h0M98 195h0M362 74h0M159 103h0M144 386h0M594 243h0M195 317h0M512 225h0M280 431h0M107 512h0M530 470h0M451 319h0M533 162h0M480 238h0M377 590h0M531 561h0M383 550h0M348 567h0M336 474h0M315 311h0M483 582h0M71 449h0M77 336h0M87 164h0M406 97h0M357 340h0M461 206h0M227 126h0M193 284h0M87 78h0M296 525h0M387 275h0M253 430h0M278 70h0M586 490h0M315 185h0M555 418h0M204 308h0M72 240h0M166 253h0M404 410h0M231 129h0M589 550h0M291 433h0M408 379h0M583 133h0M571 207h0M107 257h0M201 201h0M435 171h0M553 503h0M513 425h0M335 481h0M203 197h0M298 572h0M585 447h0M252 100h0M233 569h0M307 327h0M547 574h0M494 293h0M89 337h0M360 521h0M162 590h0M393 141h0M424 283h0M266 164h0M525 214h0M406 223h0M270 204h0M141 255h0M403 384h0M270 407h0M421 311h0M97 610h0M509 344h0M162 226h0M155 200h0M214 352h0M579 376h0M374 358h0M553 271h0M401 374h0M452 194h0M290 222h0M576 115h0M549 295h0M102 503h0M336 449h0M289 366h0M208 139h0M245 560h0M476 415h0M144 196h0M217 419h0M138 207h0M215 422h0M358 342h0M197 579h0M253 591h0M148 148h0M195 317h0M150 231h0M398 523h0M211 228h0M346 283h0M75 565h0M570 548h0M389 346h0M468 239h0M379 277h0M197 418h0M377 257h0M282 573h0M474 442h0M606 394h0M74 239h0M372 191h0M564 408h0M574 500h0M327 270h0M268 488h0M480 577h0M601 542h0M285 596h0M468 478h0M303 132h0M408 124h0M429 185h0M589 223h0M185 560h0M274 346h0M462 249h0M453 288h0M548 582h0M514 603h0M263 357h0M373 161h0M381 576h0M213 127h0M219 526h0M189 563h0M381 344h0M70 257h0M432 98h0M369 183h0M100 433h0M377 456h0M181 158h0M280 504h0M84 370h0M530 471h0M351 456h0M462 145h0M531 255h0M341 573h0M233 594h0M322 488h0M430 160h0M198 609h0M500 192h0M560 448h0M281 450h0M502 191h0M189 106h0M406 543h0M436 271h0M237 549h0M608 92h0M536 303h0M175 127h0M555 220h0M323 111h0M590 413h0M161 168h0M274 367h0M174 209h0M352 332h0M436 506h0M186 199h0M164 555h0M309 491h0M165 281h0M525 484h0M158 567h0M427 327h0M311 413h0M438 120h0M307 232h0M488 458h0M460 123h0M284 534h0M594 450h0M288 145h0M525 261h0M97 511h0M159 558h0M232 574h0M497 534h0M603 190h0M500 311h0M464 409h0M173 231h0M375 273h0M459 75h0M496 480h0M201 476h0M204 475h0M366 100h0M436 319h0M142 271h0M600 539h0M588 162h0M396 148h0M172 186h0M367 341h0M82 138h0M274 421h0M282 135h0M594 487h0M158 443h0M95 421h0M442 126h0M589 325h0M177 80h0M608 422h0M479 223h0M335 478h0M528 275h0M248 363h0M110 294h0M166 252h0M600 413h0M450 589h0M110 103h0M512 118h0M274 358h0M445 284h0M219 484h0M459 200h0M582 335h0M87 352h0M206 431h0M181 572h0M399 214h0M190 447h0M529 495h0M407 131h0M356 121h0M289 98h0M142 244h0M261 437h0M155 476h0M96 524h0M239 246h0M338 137h0M283 259h0M528 93h0M420 423h0M220 165h0M237 254h0M548 590h0M467 373h0M291 409h0M467 569h0M148 475h0M594 397h0M421 297h0M231 213h0M416 402h0M277 463h0M69 461h0M236 326h0M286 246h0M302 503h0M87 524h0M342 444h0M339 116h0M480 239h0M458 370h0M235 209h0M324 461h0M224 142h0M137 573h0M390 118h0M455 404h0M482 466h0M518 142h0M430 153h0M514 420h0M395 275h0M191 235h0M140 94h0M330 237h0M100 430h0M441 605h0M550 610h0M193 478h0M265 210h0M381 270h0M525 160h0M483 292h0M315 551h0M235 485h0M484 143h0M468 218h0M584 162h0M341 557h0M237 445h0M263 579h0M195 214h0M336 452h0M177 506h0M290 336h0M452 310h0M486 322h0M276 454h0M322 530h0M137 290h0M576 609h0M553 350h0M603 573h0M85 400h0M105 442h0M105 348h0M330 69h0M108 421h0M360 303h0M521 410h0M271 178h0M325 150h0M224 552h0M567 307h0M545 316h0M334 414h0M117 432h0M316 337h0M357 70h0M272 509h0M585 273h0M161 243h0M198 301h0M383 310h0M174 308h0M411 373h0M346 591h0M243 231h0M156 233h0M564 443h0M419 153h0M312 157h0M161 490h0M272 295h0M139 388h0M369 519h0M258 184h0M465 316h0M106 594h0M318 207h0M177 322h0M447 80h0M311 70h0M532 185h0M194 75h0M91 196h0M129 285h0M162 225h0M442 159h0M398 253h0M355 113h0M200 223h0M320 114h0M482 394h0M251 400h0M182 353h0M219 248h0M186 450h0M330 379h0M97 485h0M470 189h0M442 213h0M559 97h0M153 232h0M587 530h0M184 144h0M344 81h0M303 294h0M594 167h0M203 591h0M569 284h0M261 173h0M444 444h0M361 342h0M480 255h0M348 145h0M309 82h0M168 370h0M172 154h0M203 79h0M516 511h0M327 551h0M225 397h0M124 443h0M149 220h0M138 177h0M320 526h0M587 178h0M210 206h0M305 300h0M353 500h0M144 265h0M568 339h0M329 174h0M294 336h0M519 543h0M405 283h0M319 382h0M230 396h0M494 367h0M522 435h0M290 131h0M232 231h0M249 563h0M301 572h0M511 107h0M171 483h0M335 577h0M128 361h0M73 277h0M346 558h0M215 127h0M289 120h0M367 349h0M453 538h0M476 480h0M208 474h0M577 521h0M236 370h0M559 181h0M165 82h0M132 402h0M346 282h0M277 449h0M372 264h0M350 419h0M129 377h0M553 442h0M329 306h0M558 506h0M238 112h0M233 80h0M597 489h0M428 441h0M204 438h0M412 548h0M189 267h0M180 551h0M359 525h0M363 136h0M377 357h0M225 192h0M420 176h0M387 301h0M104 106h0M361 516h0M501 564h0M525 425h0M130 418h0M520 261h0M104 435h0M499 108h0M490 466h0M191 455h0M198 269h0M503 473h0M291 216h0M226 444h0M153 323h0M336 287h0M188 184h0M458 295h0M211 349h0M281 544h0M255 227h0M610 72h0M532 75h0M599 78h0M551 128h0M379 561h0M513 587h0M240 149h0M424 387h0M212 547h0M282 477h0M179 142h0M128 123h0M91 118h0M501 232h0M128 106h0M307 421h0M180 404h0M305 187h0M544 143h0M182 369h0M372 388h0M331 77h0M285 176h0M301 310h0M248 205h0M441 181h0M112 455h0M484 132h0M231 287h0M371 534h0M207 367h0M353 238h0M133 599h0M413 170h0M214 575h0M541 370h0M234 317h0M578 373h0M464 351h0M331 218h0M278 188h0M534 353h0M166 477h0M165 577h0M229 586h0M189 126h0M352 588h0M216 145h0M157 151h0M473 102h0M277 364h0M242 342h0M83 478h0M193 191h0M602 453h0M432 567h0M577 471h0M193 567h0M86 495h0M608 481h0M447 115h0M509 268h0M583 289h0M465 328h0M117 188h0M363 169h0M344 472h0M291 526h0M474 528h0M157 480h0M403 508h0M347 285h0M73 415h0M141 125h0M254 221h0M407 418h0M553 177h0M96 540h0M99 342h0M268 591h0M367 535h0M311 427h0M406 195h0M272 293h0M406 291h0M235 608h0M109 480h0M282 507h0M191 392h0M291 471h0M533 515h0M178 228h0M412 125h0M352 602h0M120 111h0M262 363h0M569 130h0M407 588h0M109 226h0M103 80h0M326 335h0M432 379h0M584 193h0M294 367h0M202 151h0M306 569h0M603 188h0M209 555h0M304 285h0M111 434h0M109 69h0M571 276h0M477 220h0M370 435h0M204 222h0M201 195h0M112 489h0M507 451h0M365 308h0M113 338h0M350 606h0M596 249h0M80 254h0M159 410h0M244 581h0M529 375h0M389 345h0M564 149h0M206 180h0M567 591h0M334 423h0M235 218h0M280 209h0M345 522h0M451 608h0M69 563h0M367 608h0M132 352h0M289 442h0M461 564h0M150 558h0M193 590h0M202 529h0M236 92h0M100 126h0M539 334h0M448 453h0M599 453h0M391 487h0M554 598h0M254 547h0M152 492h0M105 417h0M542 606h0M87 494h0M474 341h0M203 113h0M301 447h0M465 103h0M464 162h0M384 511h0M605 296h0M238 548h0M479 186h0M93 399h0M144 584h0M127 77h0M295 495h0M325 536h0M495 560h0M427 568h0M150 260h0M402 390h0M271 480h0M188 126h0M344 178h0M450 352h0M487 366h0M287 188h0M297 407h0M213 472h0M457 409h0M539 269h0M70 534h0M518 284h0M360 201h0M427 498h0M400 487h0M499 242h0M217 364h0M125 595h0M386 229h0M247 132h0M183 532h0M579 221h0M322 181h0M560 564h0M137 235h0M86 204h0M407 231h0M587 190h0M154 418h0M339 461h0M179 133h0M562 358h0M600 528h0M515 444h0M79 260h0M599 602h0M95 168h0M565 120h0M525 164h0M234 263h0M438 561h0M297 580h0M325 455h0M396 79h0M503 364h0M163 590h0M97 317h0M170 510h0M232 578h0M475 593h0M331 89h0M259 478h0M345 344h0M81 291h0M369 478h0M299 404h0M345 578h0M183 365h0M392 429h0M295 124h0M467 428h0M490 303h0M173 536h0M534 238h0M341 542h0M555 315h0M202 264h0M496 307h0M521 245h0M385 107h0M479 248h0M489 341h0M513 606h0M262 305h0M259 130h0M570 311h0M97 390h0M366 200h0M550 264h0M414 597h0M253 472h0M341 543h0M375 500h0M92 311h0M426 140h0M292 412h0M407 419h0M374 467h0M380 118h0M318 253h0M431 69h0M141 366h0M218 87h0M333 140h0M583 571h0M523 96h0M323 158h0M235 167h0M206 598h0M253 84h0M214 340h0M215 356h0M377 191h0M243 290h0M512 557h0M583 512h0M341 351h0M591 554h0M352 195h0M120 311h0M535 227h0M494 326h0M151 145h0M74 310h0M476 486h0M148 312h0M523 413h0M547 88h0M104 532h0M239 465h0M481 175h0M360 81h0M377 519h0M488 425h0M276 542h0M365 541h0M548 89h0M83 519h0M70 319h0M407 407h0M586 548h0M273 473h0M585 76h0M218 213h0M265 133h0M261 587h0M472 557h0M342 542h0M89 335h0M325 368h0M176 271h0M239 160h0M504 602h0M85 562h0M111 166h0M314 92h0M122 470h0M479 81h0M418 379h0M392 313h0M363 354h0M443 226h0M201 543h0M489 351h0M192 567h0M145 518h0M115 523h0M108 265h0M373 386h0M346 429h0M556 227h0M291 336h0M588 156h0M395 552h0M373 83h0M340 492h0M109 302h0M72 462h0M555 571h0M505 420h0M319 223h0M543 490h0M284 83h0M349 365h0M374 477h0M555 442h0M450 381h0M444 544h0M284 151h0M479 85h0M508 264h0M179 467h0M118 270h0M168 418h0M373 489h0M581 115h0M241 72h0M571 136h0M213 205h0M289 501h0M556 398h0M154 484h0M488 352h0M287 218h0M460 224h0M159 269h0M559 383h0M145 180h0M122 416h0M440 206h0M270 444h0M195 458h0M359 164h0M535 521h0M310 508h0M383 462h0M265 79h0M123 82h0M132 329h0M98 303h0M580 244h0M97 162h0M139 367h0M575 574h0M496 590h0M114 195h0M580 599h0M208 339h0M326 319h0M182 428h0M196 430h0M420 140h0M328 443h0M592 325h0M331 199h0M105 160h0M248 120h0M513 536h0M209 294h0M441 246h0M83 284h0M463 338h0M103 475h0M88 484h0M157 80h0M376 331h0M235 228h0M311 267h0M101 399h0M349 573h0M497 610h0M518 519h0M143 140h0M185 280h0M191 254h0M205 259h0M90 586h0M521 580h0M433 148h0M381 307h0M317 397h0M325 199h0M163 396h0M446 128h0M443 588h0M178 560h0M521 360h0M179 348h0M224 605h0M114 167h0M116 412h0M559 104h0M110 187h0M293 281h0M351 436h0M320 426h0M573 585h0M222 517h0M270 272h0M472 383h0M609 436h0M588 167h0M361 129h0M199 377h0M230 189h0M214 104h0M127 251h0M559 358h0M407 521h0M193 118h0M451 369h0M168 313h0M525 214h0M219 398h0M510 260h0M269 234h0M215 287h0M80 603h0M289 533h0M229 101h0M376 526h0M265 351h0M404 589h0M493 115h0M95 482h0M510 166h0M174 83h0M103 557h0M206 168h0M95 138h0M206 538h0M104 557h0M580 333h0M83 548h0M352 299h0M258 600h0M374 573h0M203 197h0M441 424h0M275 219h0M325 478h0M413 112h0M220 606h0M368 211h0M184 474h0M456 584h0M221 360h0M461 385h0M141 391h0M131 607h0M152 72h0M464 110h0M491 559h0M446 287h0M109 331h0M581 80h0M547 228h0M274 95h0M83 218h0M514 167h0M451 161h0M598 406h0M379 155h0M376 197h0M180 165h0M443 413h0M386 458h0M267 154h0M99 243h0M406 339h0M580 413h0M517 341h0M69 593h0M598 117h0M454 445h0M423 283h0M348 565h0M371 150h0M324 254h0M81 122h0M363 553h0M431 598h0M281 306h0M208 113h0M284 154h0M142 343h0M589 578h0M293 360h0M478 549h0M134 69h0M205 403h0M535 124h0M275 214h0M532 280h0M458 437h0M472 394h0M250 180h0M119 97h0M590 596h0M395 183h0M587 77h0M129 191h0M390 81h0M460 78h0M478 515h0M566 125h0M598 503h0M507 259h0M554 571h0M515 319h0M521 208h0M568 536h0M243 291h0M266 195h0M225 303h0M209 198h0M557 77h0M226 200h0M279 561h0M118 165h0M580 69h0M524 79h0M350 600h0M278 596h0M451 87h0M440 194h0M539 523h0M179 102h0M261 451h0M584 560h0M341 150h0M366 316h0M246 142h0M335 487h0M605 291h0M481 422h0M269 209h0M373 499h0M504 405h0M267 201h0M248 178h0M125 342h0M447 82h0M544 404h0M571 196h0M267 210h0M272 79h0M204 239h0M495 284h0M581 601h0M535 382h0M388 338h0M220 155h0M347 356h0M323 587h0M354 490h0M82 550h0M518 581h0M420 214h0M91 257h0M144 186h0M203 259h0M529 188h0M140 172h0M432 189h0M604 194h0M531 538h0M310 225h0M152 439h0M583 564h0M78 590h0M388 437h0M293 412h0M404 402h0M257 571h0M115 352h0M356 581h0M75 249h0M73 394h0M327 477h0M90 81h0M255 279h0M426 367h0M149 503h0M583 238h0M393 434h0M362 493h0M236 324h0M94 468h0M150 474h0M460 113h0M183 253h0M178 553h0M579 123h0M526 428h0M516 349h0M467 276h0M547 377h0M245 81h0M233 588h0M368 520h0M426 584h0M69 158h0M465 495h0M202 241h0M548 474h0M219 113h0M500 597h0M332 268h0M579 544h0M209 549h0M439 122h0M552 346h0M240 475h0M322 212h0M219 263h0M266 380h0M487 220h0M476 349h0M519 512h0M168 371h0M502 192h0M368 472h0M298 276h0M558 402h0M74 489h0M484 295h0M405 353h0M266 107h0M487 144h0M98 592h0M510 234h0M252 575h0M234 231h0M197 190h0M195 570h0M469 285h0M120 168h0M245 191h0M320 348h0M260 575h0M114 223h0M100 251h0M413 115h0M355 281h0M398 196h0M118 398h0M377 79h0M464 105h0M483 437h0M536 98h0M120 517h0M356 488h0M573 493h0M157 281h0M371 567h0M397 332h0M299 379h0M105 312h0M374 408h0M220 137h0M353 320h0M145 343h0M567 340h0M215 309h0M464 298h0M152 202h0M418 129h0M456 449h0M547 107h0M479 275h0M445 340h0M525 122h0M251 119h0M177 104h0M285 392h0M467 451h0M503 411h0M592 126h0M205 141h0M264 229h0M155 342h0M494 330h0M113 276h0M457 329h0M133 131h0M473 195h0M556 594h0M276 609h0M570 426h0M456 509h0M372 501h0M495 449h0M118 468h0M552 536h0M80 412h0M387 368h0M268 208h0M87 410h0M499 384h0M308 421h0M280 313h0M177 92h0M469 477h0M92 336h0M317 451h0M514 519h0M422 297h0M283 406h0M141 86h0M184 382h0M409 303h0M544 487h0M362 200h0M584 368h0M335 293h0M424 285h0M316 102h0M560 385h0M609 233h0M279 109h0M132 186h0M462 426h0M580 316h0M436 143h0M605 490h0M256 460h0M396 223h0M173 278h0M398 316h0M346 409h0M417 587h0M183 152h0M277 575h0M400 512h0M411 298h0M247 400h0M599 136h0M85 272h0M410 157h0M377 315h0M540 234h0M533 567h0M101 358h0M394 110h0M531 478h0M293 165h0M481 151h0M284 567h0M260 258h0M181 179h0M100 405h0M456 512h0M327 87h0M317 168h0M541 394h0M221 276h0M271 409h0M400 187h0M104 101h0M228 362h0M472 137h0M287 311h0M559 328h0M249 601h0M586 93h0M69 69h0M306 515h0M559 509h0M301 92h0M176 328h0M111 359h0M331 346h0M361 371h0M113 266h0M510 125h0M510 138h0M121 551h0M97 186h0M604 599h0M80 446h0M337 323h0M445 88h0M371 140h0M317 245h0M191 548h0M439 313h0M554 553h0M124 578h0M569 524h0M77 177h0M84 224h0M494 506h0M352 344h0M470 378h0M490 465h0M218 71h0M238 309h0M229 166h0M570 69h0M273 548h0M183 380h0M103 142h0M547 206h0M329 448h0M201 353h0M451 164h0M221 602h0M244 498h0M320 186h0M379 117h0M358 238h0M232 587h0M239 479h0M279 227h0M388 159h0M158 304h0M281 170h0M356 119h0M544 545h0M227 222h0M373 436h0M197 530h0M466 325h0M586 424h0M168 170h0M582 596h0M421 192h0M591 454h0M329 225h0M88 253h0M507 191h0M326 553h0M104 195h0M394 155h0M278 280h0M414 227h0M323 552h0M151 332h0M225 407h0M480 378h0M385 153h0M128 316h0M169 566h0M128 99h0M476 586h0M115 248h0M325 210h0M275 555h0M200 98h0M544 414h0M447 586h0M208 392h0M129 492h0M245 484h0M412 406h0M276 220h0M293 341h0M112 253h0M527 299h0M301 571h0M146 132h0M484 469h0M555 344h0M534 608h0M306 397h0M317 356h0M175 552h0M93 228h0M552 411h0M507 315h0M255 377h0M576 517h0M280 435h0M106 122h0M543 209h0M456 460h0M527 154h0M404 195h0M575 548h0M314 230h0M164 522h0M146 217h0M553 69h0M340 268h0M284 163h0M596 137h0M180 228h0M396 89h0M458 92h0M493 287h0M156 123h0M580 203h0M297 604h0M604 406h0M210 441h0M90 101h0M555 404h0M331 514h0M323 286h0M313 489h0M226 224h0M413 390h0M486 172h0M521 583h0M262 394h0M492 204h0M465 459h0M109 236h0M420 209h0M147 544h0M590 506h0M400 589h0M459 406h0M210 151h0M164 247h0M197 335h0M263 525h0M339 422h0M208 446h0M194 373h0M244 365h0M86 496h0M160 408h0M245 360h0M360 280h0M526 336h0M570 122h0M563 540h0M510 413h0M327 253h0M196 233h0M552 603h0M300 464h0M528 603h0M255 511h0M246 426h0M371 212h0M437 168h0M456 448h0M330 345h0M75 605h0M112 142h0M447 282h0M518 289h0M437 84h0M134 399h0M313 490h0M420 102h0M276 140h0M322 536h0M131 436h0M357 108h0M74 304h0M532 453h0M406 413h0M92 516h0M557 213h0M581 564h0M151 154h0M247 553h0M403 358h0M521 361h0M233 164h0M164 552h0M430 483h0M541 251h0M386 393h0M418 186h0M245 311h0M515 417h0M557 146h0M452 299h0M225 338h0M312 547h0M561 300h0M593 406h0M153 182h0M536 338h0M562 319h0M95 516h0M238 483h0M88 343h0M158 136h0M257 83h0M582 333h0M420 427h0M143 300h0M82 227h0M560 423h0M263 134h0M150 75h0M381 282h0M533 89h0M217 560h0M501 578h0M472 306h0M258 541h0M80 475h0M195 263h0M227 330h0M97 561h0M487 233h0M202 385h0M464 437h0M289 275h0M156 548h0M221 427h0M199 212h0M316 180h0M439 561h0M128 147h0M129 424h0M95 255h0M260 519h0M130 312h0M396 382h0M334 513h0M427 335h0M189 127h0M344 265h0M593 217h0M437 437h0M245 304h0M421 235h0M420 286h0M315 550h0M284 404h0M399 411h0M424 314h0M445 546h0M210 265h0M475 121h0M130 568h0M342 433h0M323 490h0M224 140h0M534 494h0M395 189h0M279 90h0M211 552h0M357 119h0M183 608h0M512 404h0M330 359h0M303 535h0M373 246h0M254 522h0M466 424h0M222 368h0M115 157h0M175 399h0M236 547h0M320 317h0M516 104h0M532 291h0M393 569h0M192 477h0M95 188h0M379 465h0M420 518h0M133 458h0M70 588h0M549 441h0M540 245h0M539 556h0M410 393h0M570 553h0M350 357h0M303 262h0M579 550h0M113 167h0M322 435h0M359 116h0M92 194h0M414 556h0M449 355h0M451 492h0M533 373h0M209 325h0M592 507h0M280 148h0M212 142h0M469 350h0M337 458h0M346 304h0M227 563h0M204 94h0M554 144h0M392 550h0M336 251h0M243 307h0M473 258h0M185 167h0M173 127h0M589 562h0M553 591h0M179 416h0M342 550h0M514 574h0M377 397h0M403 347h0M465 308h0M233 110h0M180 490h0M165 428h0M462 513h0M188 146h0M519 419h0M402 320h0M103 214h0M170 114h0M477 385h0M594 119h0M269 603h0M365 435h0M569 422h0M426 496h0M591 589h0M163 268h0M470 91h0M344 280h0M492 151h0M508 353h0M334 485h0M139 224h0M403 73h0M576 605h0M288 125h0M326 430h0M500 309h0M365 496h0M506 226h0M490 519h0M343 310h0M531 404h0M500 436h0M287 362h0M564 257h0M418 461h0M379 578h0M321 463h0M426 444h0M183 585h0M442 568h0M277 114h0M429 78h0M372 309h0M72 164h0M557 378h0M605 228h0M540 458h0M290 375h0M157 331h0M99 125h0M289 448h0M164 370h0M401 426h0M334 470h0M115 166h0M412 299h0M147 597h0M523 601h0M202 327h0M262 487h0M570 200h0M386 543h0M132 188h0M446 446h0M534 89h0M496 219h0M345 512h0M605 478h0M142 237h0M131 172h0M367 322h0M206 230h0M399 552h0M147 207h0M560 162h0M388 362h0M469 483h0M379 203h0M208 194h0M269 73h0M497 234h0M206 79h0M571 576h0M393 262h0M285 100h0M491 71h0M124 496h0M385 173h0M414 531h0M487 351h0M278 151h0M198 578h0M326 287h0M481 540h0M349 461h0M373 167h0M71 346h0M146 594h0M280 486h0M315 173h0M492 161h0M379 569h0M141 129h0M136 75h0M529 609h0M470 231h0M395 505h0M479 186h0M604 494h0M301 162h0M211 500h0M510 429h0M450 249h0M402 257h0M85 152h0M397 185h0M494 361h0M114 159h0M185 224h0M137 125h0M352 367h0M481 544h0M83 246h0M164 522h0M168 511h0M427 402h0M519 77h0M454 582h0M365 242h0M462 567h0M254 260h0M205 540h0M337 443h0M189 258h0M563 578h0M336 185h0M575 478h0M85 585h0M131 75h0M567 490h0M185 108h0M95 479h0M551 599h0M481 134h0M597 408h0M427 482h0M501 312h0M422 275h0M608 404h0M432 93h0M363 530h0M204 258h0M397 175h0M360 404h0M185 69h0M332 496h0M159 442h0M361 343h0M446 384h0M526 278h0M285 538h0M331 526h0M325 451h0M79 424h0M483 494h0M527 366h0M386 303h0M268 219h0M519 196h0M593 604h0M538 584h0M217 126h0M122 404h0M450 184h0M458 386h0M525 287h0M214 209h0M302 293h0M189 330h0M487 508h0M247 127h0M438 578h0M76 577h0M388 178h0M249 113h0M408 72h0M313 278h0M84 568h0M281 468h0M137 164h0M544 265h0M292 455h0M141 209h0M504 283h0M251 363h0M79 490h0M393 494h0M91 143h0M250 409h0M84 139h0M174 75h0M535 258h0M75 153h0M569 172h0M558 283h0M76 129h0M512 209h0M316 123h0M314 102h0M353 284h0M109 182h0M434 520h0M346 510h0M313 119h0M178 372h0M87 337h0M116 222h0M344 295h0M397 606h0M307 220h0M548 280h0M157 218h0M290 198h0M519 221h0M550 533h0M394 249h0M494 145h0M421 131h0M297 340h0M205 236h0M321 254h0M78 533h0M512 328h0M246 172h0M431 306h0M582 160h0M140 602h0M538 230h0M148 320h0M196 498h0M292 134h0M195 332h0M157 172h0M517 89h0M332 537h0M522 291h0M441 281h0M70 389h0M175 202h0M420 322h0M467 400h0M319 164h0M420 548h0M535 571h0M444 121h0M448 541h0M380 105h0M128 111h0M323 337h0M484 491h0M396 461h0M124 247h0M513 142h0M295 593h0M250 493h0M100 385h0M142 264h0M139 511h0M305 270h0M266 283h0M160 484h0M326 70h0M575 525h0M397 104h0M477 347h0M417 500h0M390 138h0M292 454h0M111 187h0M268 484h0M434 269h0M364 111h0M476 351h0M97 241h0M584 220h0M370 178h0M196 314h0M598 394h0M433 531h0M278 304h0M192 415h0M126 298h0M567 323h0M494 261h0M427 417h0M214 308h0M571 332h0M388 493h0M229 124h0M553 78h0M187 591h0M71 574h0M355 238h0M79 429h0M127 270h0M343 489h0M226 489h0M126 560h0M327 306h0M339 274h0M530 418h0M414 566h0M69 264h0M294 515h0M539 80h0M98 402h0M403 281h0M350 133h0M132 528h0M94 433h0M432 481h0M443 295h0M331 411h0M249 233h0M222 127h0M322 458h0M128 502h0M266 565h0M317 151h0M515 596h0M322 455h0M499 374h0M106 119h0M386 305h0M394 409h0M191 593h0M457 393h0M265 400h0M291 141h0M150 379h0M345 95h0M259 129h0M207 243h0M601 320h0M560 446h0M416 186h0M142 340h0M374 589h0M423 527h0M560 418h0M367 105h0M440 399h0M500 589h0M319 594h0M206 158h0M185 102h0M207 589h0M214 98h0M367 496h0M217 165h0M504 350h0M438 462h0M604 195h0M414 199h0M535 268h0M79 426h0M489 202h0M71 421h0M380 92h0M96 85h0M421 457h0M309 260h0M309 569h0M325 423h0M582 491h0M419 290h0M442 598h0M111 328h0M546 349h0M278 279h0M509 238h0M91 174h0M155 321h0M350 253h0M439 353h0M94 309h0M588 314h0M253 186h0M556 411h0M576 446h0M390 110h0M210 474h0M89 419h0M287 157h0M263 326h0M153 574h0M582 308h0M552 309h0M102 209h0M192 346h0M528 598h0M447 390h0M154 155h0M481 271h0M452 433h0M111 513h0M329 136h0M541 456h0M368 303h0M342 328h0M152 599h0M86 110h0M330 129h0M503 413h0M539 256h0M577 212h0M519 386h0M575 155h0M287 572h0M275 340h0M538 222h0M399 265h0M277 381h0M498 420h0M269 217h0M521 436h0M265 516h0M579 484h0M355 558h0M98 483h0M262 444h0M596 513h0M95 250h0M360 184h0M319 220h0M591 428h0M503 192h0M363 559h0M205 313h0M149 450h0M553 522h0M607 159h0M463 379h0M145 280h0M276 135h0M221 423h0M495 349h0M123 586h0M231 562h0M205 429h0M320 551h0M519 453h0M165 160h0M356 102h0M159 578h0M522 349h0M352 188h0M463 594h0M394 478h0M173 543h0M561 174h0M252 425h0M118 259h0M167 412h0M134 249h0M599 521h0M81 507h0M357 191h0M163 394h0M208 79h0M546 450h0M75 70h0M141 350h0M71 568h0M488 188h0M177 403h0M435 165h0M316 351h0M251 310h0M463 254h0M302 364h0M585 453h0M170 475h0M212 203h0M158 294h0M329 547h0M341 480h0M74 214h0M595 537h0M365 231h0M203 274h0M333 92h0M292 461h0M505 606h0M465 571h0M361 289h0M520 543h0M426 185h0M527 149h0M202 583h0M203 363h0M109 119h0M433 429h0M586 86h0M119 550h0M345 319h0M350 402h0M135 400h0M193 283h0M73 213h0M279 394h0M191 580h0M269 346h0M284 486h0M249 208h0M460 575h0M528 551h0M90 493h0M142 136h0M502 484h0M167 590h0M370 134h0M524 413h0M197 353h0M503 436h0M200 595h0M608 70h0M556 100h0M505 497h0M353 265h0M278 585h0M326 440h0M78 328h0M503 441h0M98 391h0M594 552h0M267 112h0M472 316h0M134 337h0M556 585h0M142 204h0M230 205h0M289 496h0M412 113h0M327 271h0M90 538h0M398 518h0M181 329h0M559 524h0M273 137h0M200 283h0M482 269h0M546 455h0M150 237h0M121 196h0M104 487h0M299 545h0M79 317h0M546 336h0M385 74h0M518 424h0M248 168h0M520 339h0M292 473h0M167 514h0M364 297h0M166 377h0M604 419h0M366 398h0M343 509h0M276 497h0M143 335h0M481 440h0M521 326h0M454 605h0M134 104h0M483 514h0M404 235h0M448 167h0M124 478h0M366 503h0M407 452h0M274 508h0M321 542h0M462 100h0M209 547h0M498 123h0M87 307h0M281 73h0M97 505h0M302 575h0M279 554h0M260 245h0M375 572h0M530 108h0M344 582h0M334 205h0M311 152h0M218 361h0M272 315h0M580 171h0M523 264h0M510 126h0M163 279h0M503 559h0M202 504h0M119 399h0M277 185h0M212 118h0M133 555h0M592 420h0M92 171h0M326 533h0M312 286h0M192 99h0M344 110h0M301 415h0M219 584h0M290 380h0M167 532h0M104 585h0M314 113h0M253 290h0M279 528h0M312 435h0M536 98h0M266 241h0M168 170h0M553 99h0M138 406h0M405 122h0M366 290h0M151 429h0M347 259h0M576 339h0M358 76h0M334 170h0M69 297h0M383 590h0M581 240h0M565 523h0M324 106h0M571 496h0M480 596h0M392 126h0M352 330h0M282 550h0M267 369h0M503 578h0M241 198h0M204 493h0M548 74h0M392 405h0M231 428h0M461 374h0M538 565h0M436 224h0M336 577h0M220 472h0M525 426h0M559 545h0M593 513h0M548 356h0M125 422h0M517 307h0M563 513h0M535 459h0M495 232h0M431 396h0M109 190h0M254 365h0M601 139h0M591 296h0M173 403h0M592 482h0M522 217h0M198 258h0M474 595h0M404 457h0M190 597h0M263 392h0M381 538h0M596 474h0M136 553h0M259 383h0M187 170h0M375 435h0M343 266h0M416 565h0M295 546h0M284 307h0M411 100h0M155 261h0M347 518h0M584 564h0M378 133h0M567 267h0M368 327h0M366 564h0M407 138h0M437 467h0M156 244h0M457 134h0M105 436h0M179 438h0M473 455h0M503 386h0M586 562h0M232 501h0M529 367h0M464 398h0M474 166h0M407 514h0M189 457h0M234 536h0M418 450h0M491 290h0M111 232h0M120 259h0M409 496h0M308 70h0M440 602h0M227 163h0M244 198h0M190 201h0M257 376h0M113 492h0M580 111h0M313 326h0M129 400h0M272 528h0M353 156h0M325 220h0M224 335h0M213 412h0M190 518h0M213 193h0M512 113h0M374 112h0M316 246h0M156 243h0M458 275h0M304 573h0M485 180h0M350 173h0M596 354h0M150 190h0M77 503h0M588 258h0M481 587h0M109 231h0M86 587h0M328 204h0M487 205h0M244 397h0M312 137h0M597 469h0M565 350h0M328 90h0M436 508h0M75 432h0M172 182h0M432 318h0M180 98h0M339 125h0M520 215h0M567 524h0M122 101h0M435 129h0M143 175h0M149 153h0M100 78h0M269 305h0M337 512h0M484 226h0M424 313h0M458 582h0M352 572h0M285 197h0M498 316h0M441 462h0M427 220h0M154 172h0M108 388h0M228 103h0M508 205h0M112 182h0M80 476h0M146 522h0M426 227h0M276 523h0M110 561h0M558 164h0M600 78h0M519 379h0M151 222h0M350 238h0M539 407h0M255 574h0M255 93h0M559 131h0M74 245h0M362 386h0M287 290h0M453 260h0M553 610h0M134 149h0M205 571h0M578 83h0M455 83h0M87 277h0M134 207h0M248 482h0M260 347h0M73 170h0M411 593h0M608 71h0M374 482h0M399 179h0M208 237h0M454 75h0M127 191h0M313 580h0M214 333h0M280 162h0M139 193h0M224 468h0M268 265h0M169 365h0M444 371h0M442 181h0M308 484h0M126 568h0M157 141h0M101 301h0M469 526h0M536 608h0M368 421h0M342 370h0M535 534h0M448 219h0M96 364h0M451 403h0M313 215h0M198 502h0M304 260h0M359 181h0M466 379h0M579 132h0M574 480h0M324 575h0M306 131h0M396 267h0M599 508h0M400 446h0M411 180h0M119 239h0M269 156h0M476 370h0M157 95h0M302 102h0M201 277h0M562 98h0M505 178h0M214 473h0M326 346h0M418 260h0M110 331h0M133 75h0M465 79h0M292 135h0M464 76h0M291 549h0M564 317h0M197 162h0M540 74h0M147 125h0M268 492h0M347 315h0M197 251h0M349 570h0M222 398h0M536 86h0M241 426h0M168 77h0M557 320h0M110 389h0M552 348h0M478 591h0M286 97h0M140 310h0M162 339h0M212 487h0M297 539h0M512 149h0M526 206h0M138 143h0M157 255h0M466 410h0M213 110h0M524 553h0M511 346h0M194 364h0M449 72h0M323 503h0M357 263h0M384 164h0M435 529h0M391 452h0M404 92h0M196 414h0M357 140h0M375 597h0M323 360h0M185 266h0M378 570h0M152 183h0M580 443h0M195 381h0M480 152h0M333 472h0M426 462h0M566 342h0M482 98h0M158 305h0M525 371h0M554 446h0M454 101h0M493 427h0M435 218h0M464 606h0M532 346h0M197 533h0M271 171h0M304 570h0M209 99h0M281 411h0M117 77h0M150 533h0M458 397h0M176 518h0M230 609h0M265 396h0M393 396h0M254 384h0M347 364h0M390 346h0M188 601h0M139 336h0M518 482h0M368 583h0M135 240h0M96 410h0M146 364h0M196 201h0M353 140h0M422 318h0M264 295h0M369 547h0M93 490h0M233 193h0M84 243h0M120 561h0M181 357h0M309 434h0M363 336h0M536 447h0M516 209h0M482 281h0M183 321h0M414 544h0M379 259h0M265 174h0M358 85h0M545 571h0M529 132h0M500 517h0M515 212h0M113 501h0M135 103h0M286 524h0M570 221h0M422 524h0M125 165h0M569 204h0M595 283h0M557 561h0M530 589h0M287 212h0M517 250h0M503 205h0M428 137h0M78 483h0M307 175h0M298 383h0M453 142h0M71 246h0M505 268h0M292 311h0M79 553h0M594 315h0M176 353h0M238 241h0M229 71h0M176 487h0M118 260h0M531 444h0M553 176h0M319 462h0M198 332h0M291 188h0M394 105h0M405 115h0M393 493h0M210 388h0M446 234h0M178 319h0M148 290h0M428 187h0M464 138h0M481 302h0M200 405h0M515 184h0M273 345h0M345 458h0M479 223h0M161 564h0M383 602h0M400 69h0M383 453h0M73 259h0M222 151h0M121 437h0M117 312h0M351 349h0M553 381h0M109 223h0M177 189h0M362 500h0M322 589h0M518 552h0M371 592h0M340 212h0M546 98h0M188 401h0M223 164h0M165 483h0M532 133h0M92 605h0M436 430h0M85 573h0M197 610h0M514 562h0M195 131h0M195 83h0M455 455h0M109 301h0M253 491h0M508 235h0M457 128h0M605 475h0M397 102h0M156 294h0M248 240h0M150 316h0M311 201h0M445 354h0M253 76h0M558 365h0M186 479h0M157 191h0M279 560h0M446 91h0M199 563h0M392 503h0M189 202h0M208 287h0M475 441h0M598 316h0M359 489h0M465 139h0M115 482h0M268 385h0M100 213h0M472 606h0M496 338h0M496 349h0M377 556h0M381 200h0M507 497h0M287 96h0M196 428h0M84 571h0M431 89h0M283 481h0M400 462h0M212 82h0M115 158h0M377 72h0M406 397h0M351 475h0M529 538h0M573 479h0M319 167h0M610 293h0M397 305h0M267 288h0M269 345h0M503 204h0M416 447h0M466 607h0M495 588h0M93 281h0M362 158h0M80 254h0M459 396h0M79 243h0M362 573h0M156 278h0M516 207h0M306 349h0M166 219h0M304 311h0M396 302h0M298 350h0M590 357h0M144 477h0M200 256h0M469 474h0M150 465h0M99 276h0M99 95h0M236 365h0M174 93h0M78 596h0M424 297h0M185 294h0M499 287h0M165 515h0M566 428h0M342 122h0M151 412h0M343 360h0M480 505h0M365 271h0M563 392h0M307 284h0M607 309h0M83 479h0M559 305h0M254 511h0M461 80h0M522 273h0M152 178h0M111 387h0M199 231h0M179 84h0M488 316h0M581 248h0M345 135h0M266 113h0M602 456h0M267 269h0M179 471h0M588 209h0M256 266h0M229 207h0M577 446h0M364 414h0M154 493h0M486 257h0M539 502h0M452 99h0M518 119h0M372 465h0M488 133h0M544 104h0M154 600h0M351 75h0M128 488h0M163 268h0M327 200h0M333 595h0M206 275h0M391 136h0M209 293h0M578 132h0M181 154h0M126 284h0M157 535h0M338 347h0M593 425h0M294 413h0M366 335h0M290 300h0M260 394h0M83 235h0M570 409h0M409 474h0M160 521h0M463 105h0M188 365h0M551 200h0M93 550h0M274 187h0M543 195h0M135 231h0M295 253h0M197 594h0M531 416h0M460 274h0M382 80h0M291 178h0M250 476h0M392 186h0M174 261h0M372 534h0M111 215h0M610 72h0M561 132h0M392 171h0M310 131h0M463 391h0M215 382h0M531 351h0M453 344h0M99 105h0M90 474h0M294 398h0M417 178h0M122 321h0M77 497h0M420 529h0M127 250h0M334 339h0M217 344h0M401 606h0M480 357h0M244 345h0M387 129h0M511 132h0M514 413h0M593 119h0M595 303h0M419 479h0M416 170h0M235 285h0M332 178h0M348 390h0M410 410h0M245 279h0M83 234h0M132 400h0M146 548h0M172 77h0M508 382h0M79 271h0M299 500h0M397 101h0M366 244h0M601 71h0M514 324h0M426 415h0M134 118h0M548 139h0M193 476h0M459 174h0M248 219h0M325 537h0M480 318h0M588 582h0M566 576h0M483 550h0M174 146h0M120 296h0M602 140h0M487 123h0M331 133h0M148 144h0M139 247h0M573 129h0M255 268h0M428 202h0M178 212h0M579 529h0M308 210h0M81 324h0M165 564h0M109 313h0M294 329h0M535 602h0M306 424h0M454 105h0M178 178h0M301 157h0M194 90h0M425 154h0M378 329h0M344 251h0M520 114h0M261 264h0M477 499h0M129 361h0M599 115h0M488 172h0M247 509h0M270 553h0M436 493h0M209 473h0M480 220h0M487 420h0M210 386h0M86 505h0M325 334h0M320 570h0M275 463h0M237 328h0M76 283h0M415 116h0M208 526h0M533 157h0M413 236h0M486 607h0M261 549h0M187 577h0M247 378h0M85 610h0M114 107h0M606 354h0M257 231h0M249 255h0M81 422h0M205 372h0M232 243h0M554 352h0M445 220h0M324 128h0M415 310h0M525 356h0M530 590h0M274 94h0M306 292h0M121 497h0M284 154h0M405 482h0M365 306h0M274 513h0M123 468h0M539 323h0M92 176h0M379 125h0M282 280h0M352 499h0M314 95h0M507 559h0M397 351h0M251 440h0M171 69h0M279 532h0M302 245h0M227 264h0M205 335h0M218 377h0M494 466h0M363 571h0M246 539h0M399 196h0M417 471h0M273 199h0M479 386h0M537 279h0M222 78h0M308 543h0M143 391h0M354 501h0M157 581h0M539 328h0M583 182h0M259 311h0M156 553h0M472 131h0M550 524h0M245 597h0M318 521h0M271 126h0M472 298h0M488 465h0M561 164h0M200 269h0M503 585h0M463 328h0M222 234h0M390 113h0M352 214h0M415 254h0M482 114h0M404 312h0M160 231h0M92 98h0M421 468h0M518 305h0M175 468h0M154 561h0M89 296h0M323 580h0M527 596h0M161 564h0M70 508h0M566 312h0M571 453h0M165 305h0M213 145h0M231 323h0M196 77h0M159 519h0M531 80h0M432 552h0M203 70h0M141 154h0M295 539h0M282 550h0M317 334h0M455 479h0M196 606h0M289 511h0M300 299h0M242 558h0M240 136h0M526 378h0M463 262h0M215 299h0M250 531h0M248 164h0M485 340h0M272 202h0M392 392h0M330 259h0M118 429h0M148 183h0M147 93h0M592 434h0M259 167h0M82 224h0M162 185h0M152 268h0M445 156h0M146 504h0M380 107h0M599 211h0M325 129h0M102 496h0M307 442h0M455 107h0M569 106h0M564 582h0M515 412h0M496 531h0M275 176h0M454 445h0M482 472h0M224 205h0M489 170h0M411 297h0M554 343h0M241 584h0M432 572h0M444 457h0M580 86h0M394 322h0M571 144h0M170 151h0M82 584h0M446 293h0M608 503h0M512 140h0M225 189h0M158 539h0M409 179h0M190 450h0M513 501h0M373 153h0M558 123h0M447 598h0M171 385h0M110 212h0M106 600h0M290 341h0M106 307h0M374 493h0M83 246h0M580 248h0M458 112h0M144 350h0M246 175h0M167 524h0M348 180h0M516 506h0M248 598h0M283 172h0M121 481h0M194 369h0M418 432h0M229 296h0M152 84h0M102 352h0M84 331h0M581 533h0M353 221h0M520 143h0M590 178h0M302 328h0M445 433h0M293 320h0M207 86h0M293 145h0M419 348h0M447 467h0M122 325h0M605 433h0M510 304h0M270 454h0M356 82h0M604 298h0M409 118h0M295 419h0M524 165h0M496 281h0M593 526h0M601 315h0M484 359h0M79 484h0M183 380h0M323 250h0M468 559h0M360 262h0M304 473h0M299 160h0M393 350h0M307 279h0M271 388h0M518 81h0M555 161h0M423 245h0M134 372h0M426 485h0M572 460h0M78 76h0M131 371h0M270 439h0M82 403h0M378 526h0M371 111h0M572 356h0M460 119h0M302 331h0M303 568h0M173 263h0M193 284h0M488 254h0M451 369h0M490 361h0M344 607h0M288 162h0M328 303h0M414 215h0M377 442h0M530 252h0M198 362h0M314 317h0M161 245h0M412 492h0M405 86h0M571 308h0M318 77h0M339 337h0M347 372h0M219 293h0M282 372h0M367 86h0M227 523h0M501 412h0M368 214h0M143 562h0M316 167h0M554 237h0M396 380h0M344 126h0M494 150h0M300 236h0M405 365h0M392 160h0M524 91h0M309 435h0M349 371h0M323 475h0M467 84h0M540 402h0M319 303h0M135 462h0M437 236h0M601 223h0M346 145h0M253 328h0M75 488h0M91 325h0M605 224h0M470 276h0M488 577h0M405 398h0M103 502h0M94 467h0M129 589h0M519 232h0M577 404h0M507 471h0M274 571h0M321 381h0M442 187h0M342 82h0M262 270h0M313 593h0M476 267h0M508 537h0M204 105h0M171 262h0M377 79h0M542 555h0M523 537h0M151 170h0M83 588h0M484 196h0M153 107h0M590 470h0M317 76h0M426 566h0M533 74h0M450 483h0M103 103h0M512 605h0M575 467h0M139 468h0M211 285h0M230 396h0M160 255h0M600 298h0M84 293h0M418 201h0M541 566h0M532 250h0M446 372h0M294 222h0M527 495h0M390 553h0M170 479h0M164 361h0M340 132h0M511 575h0M115 472h0M242 368h0M129 263h0M188 373h0M352 558h0M216 517h0M439 200h0M403 370h0M248 231h0M144 482h0M119 479h0M369 446h0M517 296h0M163 172h0M600 451h0M480 457h0M76 484h0M416 605h0M269 595h0M352 561h0M415 568h0M435 194h0M606 428h0M338 155h0M353 196h0M253 115h0M377 367h0M342 195h0M144 172h0M93 467h0M375 153h0M597 527h0M128 315h0M528 99h0M605 114h0M326 525h0M588 599h0M542 543h0M139 396h0M196 268h0M121 489h0M168 349h0M595 262h0M198 499h0M196 406h0M583 127h0M185 275h0M250 170h0M424 305h0M247 247h0M491 354h0M151 240h0M531 125h0M526 411h0M490 436h0M203 97h0M569 367h0M216 111h0M212 275h0M344 128h0M342 457h0M300 500h0M552 92h0M347 218h0M579 141h0M580 415h0M541 424h0M292 101h0M198 222h0M129 323h0M570 150h0M202 186h0M79 76h0M335 382h0M88 444h0M208 606h0M83 270h0M584 456h0M260 79h0M527 349h0M96 472h0M125 541h0M141 132h0M417 406h0M499 392h0M104 257h0M292 192h0M331 292h0M194 199h0M571 431h0M574 431h0M453 209h0M517 419h0M561 480h0M116 530h0M326 130h0M398 357h0M196 457h0M445 229h0M82 171h0M531 549h0M139 299h0M593 136h0M524 131h0M233 129h0M109 223h0M258 164h0M409 394h0M586 347h0M183 76h0M215 244h0M179 300h0M526 286h0M89 204h0M497 388h0M471 253h0M332 232h0M402 536h0M557 132h0M577 96h0M403 448h0M436 564h0M302 603h0M414 556h0M465 345h0M286 385h0M127 461h0M563 545h0M371 137h0M229 311h0M145 149h0M302 132h0M168 601h0M408 528h0M565 195h0M228 365h0M200 309h0M167 490h0M221 333h0M390 512h0M499 527h0M334 535h0M595 593h0M367 436h0M571 332h0M389 126h0M555 511h0M229 78h0M139 395h0M212 540h0M307 541h0M334 298h0M606 547h0M347 420h0M409 193h0M99 517h0M338 429h0M121 478h0M349 215h0M445 583h0M600 552h0M275 366h0M352 204h0M70 472h0M584 238h0M522 517h0M184 465h0M218 103h0M350 519h0M287 409h0M103 563h0M455 132h0M471 501h0M599 214h0M266 193h0M446 240h0M357 74h0M168 349h0M192 97h0M277 232h0M139 430h0M183 380h0M592 458h0M389 254h0M575 581h0M147 156h0M116 315h0M303 235h0M101 448h0M558 107h0M305 107h0M185 255h0M520 494h0M249 417h0M567 609h0M121 513h0M477 134h0M189 365h0M590 248h0M276 122h0M539 402h0M584 514h0M350 251h0M466 471h0M606 406h0M561 515h0M200 120h0M469 339h0M549 297h0M229 276h0M300 439h0M327 131h0M426 122h0M446 166h0M577 109h0M410 113h0M603 550h0M366 513h0M519 238h0M131 440h0M483 261h0M561 552h0M185 179h0M270 532h0M301 270h0M160 143h0M250 112h0M364 581h0M275 195h0M402 387h0M198 142h0M403 206h0M562 120h0M439 506h0M81 270h0M410 400h0M461 384h0M400 180h0M378 547h0M442 107h0M203 151h0M96 290h0M99 118h0M404 475h0M163 85h0M140 136h0M592 569h0M524 565h0M286 139h0M284 213h0M365 318h0M117 195h0M334 146h0M524 424h0M445 329h0M366 434h0M296 165h0M326 393h0M129 401h0M189 300h0M257 341h0M555 567h0M119 222h0M558 394h0M217 246h0M433 219h0M433 564h0M310 199h0M532 580h0M322 576h0M212 282h0M145 125h0M333 178h0M342 92h0M278 352h0M260 113h0M572 85h0M469 588h0M555 470h0M460 326h0M378 300h0M70 358h0M482 414h0M572 275h0M469 541h0M388 303h0M496 100h0M185 444h0M495 496h0M329 253h0M232 423h0M469 461h0M377 420h0M471 121h0M535 558h0M390 205h0M403 277h0M90 422h0M474 363h0M450 154h0M151 156h0M445 589h0M128 251h0M161 532h0M407 530h0M193 93h0M585 116h0M586 199h0M553 322h0M200 405h0M277 311h0M239 391h0M324 390h0M502 292h0M528 214h0M113 372h0M425 555h0M454 355h0M178 340h0M73 109h0M154 440h0M70 375h0M89 224h0M604 369h0M147 320h0M188 396h0M409 264h0M314 199h0M602 580h0M83 127h0M474 409h0M340 413h0M199 341h0M404 425h0M80 564h0M225 481h0M523 521h0M84 587h0M595 151h0M182 367h0M517 483h0M210 523h0M556 223h0M100 87h0M189 396h0M425 348h0M561 99h0M605 375h0M411 183h0M346 105h0M419 311h0M142 301h0M299 588h0M284 314h0M344 400h0M228 85h0M303 166h0M411 74h0M411 344h0M227 568h0M485 104h0M132 565h0M365 300h0M463 90h0M320 369h0M81 421h0M259 89h0M95 171h0M159 69h0M557 513h0M191 146h0M79 295h0M322 211h0M349 128h0M444 92h0M379 468h0M599 545h0M335 444h0M502 319h0M517 558h0M313 362h0M141 202h0M296 271h0M549 604h0M531 452h0M514 256h0M466 315h0M434 182h0M526 117h0M380 118h0M591 566h0M328 411h0M249 231h0M345 142h0M253 296h0M344 203h0M511 559h0M409 477h0M472 233h0M104 487h0M325 525h0M526 526h0M420 383h0M248 395h0M446 344h0M307 391h0M234 418h0M296 508h0M98 587h0M601 592h0M314 588h0M440 339h0M325 526h0M148 512h0M526 504h0M207 371h0M123 93h0M539 89h0M365 359h0M219 101h0M217 554h0M109 453h0M216 393h0M158 346h0M269 303h0M94 324h0M139 563h0M240 86h0M513 177h0M515 405h0M475 240h0M82 92h0M99 188h0M100 479h0M275 176h0M572 192h0M474 343h0M417 238h0M568 329h0M154 131h0M532 234h0M270 444h0M474 135h0M593 72h0M350 566h0M70 390h0M134 356h0M579 94h0M581 311h0M324 577h0M294 582h0M324 197h0M317 189h0M84 200h0M298 208h0M528 291h0M505 604h0M339 421h0M507 514h0M189 197h0M77 337h0M198 608h0M399 336h0M279 274h0M424 288h0M225 86h0M270 535h0M603 495h0M388 379h0M537 550h0M224 169h0M209 205h0M244 180h0M540 208h0M130 320h0M543 562h0M82 153h0M231 95h0M189 446h0M262 423h0M337 237h0M339 564h0M255 69h0M253 155h0M246 165h0M69 89h0M561 495h0M154 98h0M96 483h0M432 390h0M105 304h0M304 358h0M195 74h0M469 280h0M357 117h0M238 575h0M189 217h0M170 449h0M490 407h0M211 109h0M70 539h0M387 418h0M272 473h0M332 247h0M195 440h0M574 491h0M296 501h0M249 160h0M275 366h0M550 248h0M342 371h0M413 178h0M275 224h0M566 121h0M245 212h0M417 585h0M410 450h0M363 72h0M210 452h0M349 141h0M271 109h0M201 158h0M384 393h0M558 180h0M593 576h0M108 610h0M604 253h0M450 366h0M309 543h0M525 295h0M395 423h0M215 405h0M410 469h0M457 151h0M601 534h0M89 341h0M194 73h0M512 549h0M138 369h0M467 160h0M560 183h0M408 576h0M458 125h0M373 396h0M189 163h0M349 99h0M317 531h0M364 520h0M277 381h0M231 609h0M348 547h0M449 69h0M195 147h0M466 518h0M577 547h0M294 276h0M581 370h0M518 84h0M216 549h0M407 357h0M123 429h0M174 581h0M576 152h0M217 201h0M374 138h0M473 411h0M345 518h0M178 571h0M190 404h0M454 426h0M538 478h0M417 416h0M148 171h0M483 293h0M587 393h0M370 137h0M169 190h0M483 249h0M354 575h0M197 415h0M196 168h0M459 403h0M143 176h0M370 391h0M161 100h0M601 305h0M238 316h0M267 125h0M467 324h0M94 104h0M381 337h0M128 414h0M288 609h0M248 121h0M158 193h0M295 126h0M317 200h0M88 454h0M116 197h0M84 149h0M428 150h0M470 368h0M596 307h0M265 115h0M242 448h0M432 222h0M234 314h0M115 75h0M519 575h0M161 530h0M192 218h0M111 600h0M174 433h0M319 137h0M561 342h0M345 373h0M489 434h0M299 246h0M560 319h0M134 222h0M244 324h0M103 219h0M592 198h0M132 317h0M604 223h0M115 134h0M403 391h0M569 77h0M540 502h0M181 79h0M291 280h0M275 492h0M166 500h0M337 417h0M83 175h0M196 291h0M265 229h0M448 467h0M182 345h0M566 242h0M337 132h0M93 531h0M353 513h0M509 569h0M170 538h0M493 278h0M352 225h0M204 95h0M242 195h0M355 127h0M462 414h0M597 71h0M177 576h0M358 534h0M610 504h0M599 376h0M499 243h0M520 274h0M490 254h0M166 187h0M529 407h0M469 115h0M187 301h0M546 451h0M520 368h0M152 608h0M576 481h0M526 447h0M531 589h0M188 491h0M415 378h0M77 508h0M185 289h0M527 185h0M479 209h0M317 488h0M293 178h0M228 526h0M226 294h0M605 141h0M176 399h0M374 135h0M439 156h0M70 143h0M325 129h0M122 223h0M88 152h0M175 522h0M505 313h0M508 142h0M74 135h0M399 143h0M395 507h0M87 192h0M168 231h0M248 436h0M399 602h0M84 345h0M578 344h0M352 456h0M258 414h0M159 153h0M318 443h0M576 157h0M146 145h0M387 410h0M387 151h0M406 385h0M285 168h0M225 345h0M531 412h0M297 362h0M443 401h0M581 453h0M337 581h0M70 574h0M559 291h0M202 344h0M200 497h0M199 411h0M340 339h0M126 464h0M404 458h0M601 432h0M294 257h0M323 315h0M492 548h0M569 301h0M601 122h0M324 603h0M346 463h0M463 396h0M427 442h0M206 191h0M289 226h0M289 189h0M570 281h0M565 556h0M157 366h0M77 432h0M335 455h0M227 268h0M418 301h0M199 232h0M83 549h0M573 143h0M239 539h0M242 168h0M104 472h0M247 552h0M258 282h0M573 528h0M381 261h0M559 518h0M358 227h0M531 337h0M481 534h0M149 127h0M241 312h0M166 610h0M126 385h0M509 151h0M504 404h0M200 304h0M314 427h0M286 249h0M524 236h0M599 204h0M160 320h0M86 160h0M102 273h0M505 164h0M465 477h0M551 401h0M341 341h0M358 510h0M313 541h0M594 571h0M423 562h0M610 558h0M430 248h0M230 593h0M499 452h0M514 208h0M377 421h0M493 315h0M286 501h0M359 212h0M180 305h0M536 526h0M313 489h0M180 534h0M439 276h0M131 484h0M123 481h0M391 554h0M493 602h0M506 569h0M417 96h0M231 490h0M349 536h0M227 467h0M204 531h0M399 174h0M351 123h0M486 505h0M213 467h0M307 334h0M308 502h0M527 406h0M470 140h0M535 609h0M259 339h0M164 583h0M512 325h0M136 192h0M573 464h0M499 423h0M584 401h0M455 419h0M229 338h0M529 102h0M166 494h0M396 268h0M420 90h0M322 346h0M432 288h0M322 135h0M583 398h0M323 486h0M508 590h0M582 116h0M133 275h0M555 534h0M129 370h0M453 358h0M98 201h0M228 398h0M240 248h0M139 159h0M141 549h0M543 242h0M330 190h0M83 510h0M158 330h0M456 208h0M605 71h0M265 125h0M373 340h0M309 580h0M436 341h0M162 326h0M522 82h0M89 575h0M578 224h0M604 175h0M268 94h0M102 219h0M209 363h0M197 278h0M438 129h0M277 589h0M193 264h0M222 601h0M423 431h0M374 584h0M128 76h0M355 507h0M260 603h0M536 168h0M408 321h0M500 249h0M450 89h0M464 129h0M514 411h0M587 482h0M109 539h0M417 72h0M130 264h0M604 80h0M591 129h0M172 481h0M496 444h0M384 390h0M121 536h0M517 230h0M586 99h0M358 76h0M308 410h0M412 182h0M209 407h0M590 268h0M135 473h0M389 609h0M124 167h0M440 188h0M587 253h0M122 548h0M333 424h0M429 567h0M521 565h0M344 346h0M367 575h0M309 306h0M531 139h0M457 117h0M353 533h0M427 227h0M553 423h0M506 431h0M111 579h0M174 593h0M538 463h0M401 510h0M170 433h0M374 304h0M553 222h0M184 525h0M156 365h0M586 326h0M314 280h0M598 77h0M289 218h0M416 318h0M268 261h0M549 406h0M219 149h0M227 80h0M189 369h0M315 283h0M234 276h0M505 157h0M366 121h0M301 173h0M478 247h0M199 570h0M462 349h0M185 363h0M423 216h0M403 536h0M275 513h0M575 157h0M225 191h0M545 94h0M184 267h0M215 159h0M304 87h0M529 590h0M588 191h0M473 447h0M196 263h0M423 202h0M160 394h0M221 504h0M489 584h0M412 134h0M69 501h0M74 358h0M173 284h0M524 468h0M229 129h0M393 563h0M319 125h0M581 538h0M412 200h0M431 147h0M416 572h0M324 350h0M136 119h0M152 544h0M321 450h0M413 272h0M126 226h0M93 578h0M80 200h0M207 594h0M320 278h0M234 406h0M523 353h0M332 131h0M485 315h0M153 403h0M439 152h0M232 533h0M109 450h0M327 545h0M357 113h0M339 155h0M233 526h0M552 223h0M382 98h0M272 518h0M483 602h0M389 315h0M171 514h0M535 227h0M444 599h0M245 294h0M74 212h0M497 474h0M139 137h0M310 362h0M311 257h0M228 377h0M462 76h0M230 444h0M505 194h0M519 177h0M174 139h0M450 95h0M453 169h0M199 211h0M537 527h0M166 240h0M388 316h0M312 216h0M391 88h0M213 208h0M455 541h0M157 411h0M405 115h0M114 128h0M415 72h0M283 71h0M415 124h0M138 118h0M429 554h0M190 506h0M417 350h0M507 442h0M135 478h0M435 586h0M273 550h0M281 319h0M308 433h0M593 177h0M597 139h0M363 289h0M363 563h0M511 232h0M84 375h0M290 204h0M106 237h0M415 524h0M606 544h0M167 355h0M526 528h0M599 595h0M392 366h0M275 416h0M165 157h0M127 610h0M123 464h0M479 373h0M527 218h0M139 394h0M403 230h0M375 251h0M588 591h0M500 331h0M212 583h0M471 216h0M574 230h0M439 484h0M463 289h0M410 121h0M301 449h0M331 124h0M499 107h0M285 476h0M157 135h0M170 256h0M596 518h0M604 296h0M218 457h0M232 444h0M337 284h0M493 439h0M417 490h0M456 407h0M175 375h0M565 549h0M541 72h0M558 196h0M290 357h0M198 595h0M365 497h0M380 139h0M180 340h0M405 551h0M418 323h0M468 228h0M224 125h0M499 241h0M397 570h0M343 591h0M597 89h0M307 196h0M512 136h0M494 418h0M420 174h0M366 122h0M332 300h0M270 195h0M236 590h0M353 214h0M130 115h0M216 597h0M505 456h0M369 510h0M557 458h0M83 320h0M478 83h0M179 366h0M447 85h0M132 224h0M411 574h0M359 160h0M571 461h0M134 291h0M287 156h0M139 127h0M507 256h0M375 103h0M424 363h0M370 116h0M496 176h0M134 485h0M569 528h0M264 253h0M88 568h0M474 310h0M286 516h0M490 309h0M495 239h0M556 601h0M185 147h0M373 414h0M334 148h0M82 349h0M139 96h0M383 249h0M610 186h0M324 546h0M329 209h0M189 545h0M487 157h0M394 226h0M173 291h0M597 503h0M100 113h0M350 594h0M602 516h0M482 194h0M225 502h0M231 568h0M366 556h0M122 514h0M150 435h0M338 601h0M456 501h0M599 247h0M186 395h0M504 260h0M508 131h0M281 176h0M129 561h0M261 411h0M199 589h0M470 279h0M491 385h0M138 609h0M479 589h0M540 143h0M119 350h0M314 315h0M237 534h0M182 296h0M121 434h0M419 236h0M301 567h0M142 296h0M305 360h0M494 359h0M92 372h0M341 578h0M564 242h0M251 135h0M252 252h0M340 468h0M263 114h0M427 284h0M240 89h0M130 578h0M568 196h0M201 351h0M590 145h0M206 593h0M422 483h0M294 120h0M185 407h0M307 82h0M416 466h0M222 277h0M323 408h0M357 463h0M109 442h0M522 157h0M600 310h0M120 219h0M406 270h0M90 518h0M109 309h0M291 512h0M161 585h0M521 337h0M490 577h0M170 86h0M462 477h0M256 497h0M509 508h0M364 319h0M98 587h0M602 228h0M249 216h0M378 183h0M453 399h0M290 221h0M498 297h0M226 444h0M128 537h0M100 80h0M515 465h0M528 197h0M376 578h0M562 560h0M132 318h0M228 88h0M544 577h0M427 240h0M311 188h0M532 199h0M339 562h0M434 303h0M215 465h0M101 422h0M187 602h0M314 565h0M311 108h0M565 579h0M414 109h0M337 312h0M97 119h0M457 249h0M550 450h0M388 98h0M464 469h0M89 278h0M109 412h0M215 468h0M419 599h0M301 88h0M563 522h0M70 558h0M164 362h0M424 209h0M321 427h0M145 138h0M194 592h0M187 258h0M496 499h0M126 310h0M200 562h0M225 585h0M224 528h0M360 382h0M519 202h0M324 553h0M514 548h0M564 136h0M370 222h0M231 491h0M304 532h0M290 392h0M226 474h0M245 409h0M236 187h0M99 330h0M473 576h0M140 449h0M374 179h0M527 137h0M94 233h0M196 101h0M429 339h0M146 537h0M169 209h0M412 415h0M524 480h0M118 110h0M306 412h0M559 560h0M280 474h0M328 542h0M470 286h0M567 244h0M442 342h0M233 488h0M463 470h0M226 204h0M591 337h0M301 468h0M132 237h0M521 424h0M122 266h0M311 518h0M110 445h0M551 535h0M259 133h0M71 572h0M587 605h0M307 230h0M311 570h0M280 518h0M169 530h0M404 281h0M197 189h0M410 560h0M90 559h0M451 184h0M375 98h0M561 242h0M215 407h0M460 318h0M94 101h0M539 246h0M207 476h0M296 240h0M96 165h0M150 336h0M226 592h0M470 243h0M467 162h0M181 288h0M70 165h0M597 379h0M89 259h0M491 575h0M503 588h0M378 450h0M595 137h0M74 572h0M162 96h0M442 338h0M337 345h0M170 467h0M194 191h0M203 363h0M195 548h0M268 548h0M175 537h0M275 88h0M583 583h0M299 600h0M99 580h0M156 112h0M528 316h0M84 269h0M300 537h0M216 422h0M208 106h0M320 223h0M232 386h0M511 509h0M102 204h0M82 448h0M166 442h0M303 282h0M100 307h0M330 115h0M241 511h0M607 507h0M447 119h0M260 362h0M204 271h0M527 541h0M89 368h0M136 321h0M342 489h0M335 107h0M540 409h0M443 347h0M553 158h0M239 158h0M561 607h0M142 150h0M465 547h0M607 213h0M293 509h0M592 112h0M488 330h0M91 187h0M485 120h0M569 135h0M433 228h0M240 536h0M321 320h0M539 587h0M280 409h0M539 561h0M221 483h0M558 556h0M264 474h0M362 599h0M340 595h0M472 227h0M195 218h0M217 161h0M323 541h0M361 386h0M193 86h0M165 572h0M459 606h0M575 317h0M499 138h0M573 595h0M507 387h0M261 201h0M229 179h0M457 120h0M239 267h0M443 474h0M393 461h0M322 584h0M109 440h0M269 254h0M309 289h0M161 503h0M297 377h0M257 382h0M240 136h0M162 271h0M115 403h0M96 170h0M568 512h0M225 487h0M347 319h0M484 586h0M449 440h0M73 488h0M595 114h0M221 489h0M289 568h0M546 175h0M391 518h0M103 147h0M233 263h0M231 132h0M507 269h0M163 347h0M263 228h0M142 324h0M490 321h0M112 571h0M375 486h0M529 523h0M461 82h0M502 164h0M581 73h0M77 239h0M220 196h0M590 238h0M105 386h0M362 465h0M263 364h0M401 329h0M388 399h0M305 475h0M349 528h0M473 414h0M316 219h0M261 376h0M335 109h0M439 138h0M450 495h0M274 598h0M189 311h0M348 357h0M608 537h0M354 356h0M202 149h0M105 410h0M126 579h0M162 194h0M156 335h0M603 502h0M280 123h0M186 207h0M468 489h0M499 596h0M128 455h0M420 588h0M436 259h0M504 159h0M138 228h0M353 387h0M600 285h0M351 355h0M303 588h0M97 602h0M542 204h0M573 515h0M129 219h0M176 237h0M154 430h0M513 301h0M153 381h0M508 378h0M239 451h0M483 281h0M505 459h0M564 542h0M95 368h0M334 205h0M82 246h0M350 294h0M395 329h0M461 173h0M275 486h0M423 425h0M332 286h0M206 148h0M460 359h0M577 158h0M524 380h0M85 244h0M324 517h0M427 318h0M170 214h0M195 491h0M269 206h0M418 320h0M407 489h0M126 396h0M117 293h0M76 563h0M343 85h0M562 308h0M183 154h0M553 357h0M338 173h0M242 112h0M273 273h0M308 386h0M336 70h0M515 597h0M151 96h0M134 420h0M299 84h0M449 73h0M258 276h0M272 442h0M179 222h0M217 85h0M432 531h0M459 457h0M512 85h0M520 105h0M347 321h0M444 285h0M315 124h0M513 134h0M283 352h0M227 581h0M80 574h0M469 102h0M337 234h0M334 125h0M591 434h0M288 513h0M370 197h0M202 552h0M242 456h0M234 383h0M200 258h0M350 79h0M457 146h0M280 102h0M376 306h0M306 229h0M256 108h0M598 245h0M607 434h0M204 343h0M477 535h0M340 91h0M468 470h0M418 482h0M82 211h0M468 95h0M217 264h0M101 153h0M568 346h0M460 511h0M317 152h0M583 98h0M281 465h0M560 88h0M439 240h0M574 106h0M208 92h0M304 466h0M549 418h0M366 274h0M446 573h0M77 260h0M604 167h0M74 415h0M240 359h0M322 286h0M171 234h0M552 516h0M223 319h0M177 356h0M147 290h0M214 381h0M323 478h0M279 219h0M330 469h0M81 524h0M318 297h0M362 565h0M337 90h0M214 577h0M329 318h0M342 560h0M481 382h0M123 370h0M340 272h0M555 121h0M375 353h0M203 92h0M116 437h0M286 350h0M248 530h0M167 181h0M313 281h0M312 410h0M393 331h0M256 535h0M333 360h0M227 82h0M346 108h0M363 466h0M525 218h0M289 547h0M105 189h0M503 276h0M209 259h0M592 446h0M399 251h0M463 95h0M153 518h0M583 434h0M433 262h0M546 185h0M505 261h0M234 164h0M265 396h0M267 320h0M98 122h0M201 311h0M322 169h0M207 246h0M173 422h0M233 402h0M572 83h0M419 545h0M360 245h0M69 412h0M365 194h0M461 217h0M551 395h0M521 572h0M574 284h0M345 349h0M76 354h0M474 153h0M372 212h0M324 535h0M183 209h0M387 509h0M121 515h0M442 229h0M429 606h0M132 240h0M133 129h0M368 469h0M301 217h0M312 488h0M580 528h0M335 482h0M573 471h0M156 327h0M123 460h0M376 370h0M487 169h0M139 542h0M481 92h0M604 137h0M602 528h0M571 281h0M539 517h0M549 69h0M203 444h0M236 516h0M99 204h0M493 234h0M559 439h0M95 508h0M475 599h0M486 272h0M182 472h0M431 170h0M126 71h0M518 118h0M591 463h0M604 594h0M219 197h0M508 535h0M405 78h0M507 115h0M156 255h0M574 87h0M400 569h0M409 546h0M353 107h0M278 321h0M71 475h0M321 134h0M372 313h0M463 549h0M118 152h0M271 464h0M98 583h0M539 530h0M307 222h0M588 503h0M244 440h0M161 468h0M327 608h0M370 156h0M385 264h0M218 290h0M316 193h0M136 285h0M384 162h0M480 529h0M240 430h0M94 345h0M278 352h0M480 339h0M513 81h0M237 349h0M152 468h0M439 255h0M234 193h0M83 374h0M485 267h0M243 227h0M477 529h0M219 352h0M446 571h0M209 424h0M274 314h0M191 479h0M469 546h0M190 92h0M508 417h0M427 356h0M105 562h0M330 112h0M597 461h0M458 515h0M75 182h0M379 440h0M407 327h0M512 339h0M107 517h0M296 155h0M571 297h0M504 509h0M389 304h0M171 364h0M368 442h0M396 360h0M464 528h0M272 284h0M578 360h0M267 356h0M464 429h0M213 493h0M383 323h0M484 386h0M435 343h0M345 106h0M527 217h0M124 347h0M578 321h0M165 191h0M270 453h0M567 512h0M75 485h0M182 345h0M334 126h0M352 570h0M169 220h0M209 78h0M484 228h0M101 225h0M468 298h0M211 604h0M254 303h0M146 420h0M455 233h0M352 225h0M336 554h0M341 305h0M81 188h0M222 159h0M413 443h0M273 485h0M376 390h0M550 283h0M187 473h0M272 336h0M226 609h0M432 344h0M474 156h0M427 80h0M328 580h0M547 602h0M246 411h0M600 341h0M112 136h0M127 333h0M374 499h0M597 425h0M299 344h0M292 171h0M117 370h0M184 88h0M513 478h0M275 257h0M537 164h0M397 463h0M487 255h0M95 178h0M130 532h0M308 323h0M283 168h0M92 406h0M271 330h0M580 373h0M113 610h0M580 435h0M87 149h0M282 130h0M345 259h0M517 583h0M275 281h0M328 154h0M145 398h0M234 239h0M486 305h0M569 380h0M206 508h0M522 110h0M328 313h0M403 130h0M299 559h0M378 498h0M114 533h0M520 248h0M538 359h0M459 389h0M344 528h0M595 250h0M347 229h0M588 481h0M383 247h0M452 201h0M244 275h0M479 575h0M490 383h0M548 308h0M246 257h0M210 565h0M320 366h0M425 589h0M437 575h0M419 319h0M299 139h0M457 430h0M78 277h0M466 284h0M126 112h0M329 331h0M145 374h0M483 96h0M527 147h0M135 135h0M275 570h0M529 297h0M213 601h0M543 404h0M294 568h0M576 287h0M534 344h0M509 289h0M80 187h0M98 167h0M202 438h0M115 367h0M237 71h0M183 348h0M191 575h0M318 542h0M285 546h0M245 548h0M475 226h0M523 469h0M294 203h0M291 466h0M151 610h0M235 595h0M221 567h0M75 566h0M229 562h0M554 184h0M76 575h0M271 329h0M228 250h0M557 474h0M109 362h0M522 366h0M106 209h0M586 457h0M358 78h0M601 497h0M579 450h0M258 472h0M97 377h0M355 383h0M108 194h0M280 515h0M403 313h0M534 474h0M601 607h0M547 96h0M335 116h0M403 198h0M330 366h0M586 494h0M582 361h0M143 446h0M565 427h0M317 386h0M298 519h0M485 134h0M290 439h0M381 426h0M91 110h0M131 515h0M85 156h0M139 324h0M176 114h0M596 548h0M528 441h0M251 472h0M497 349h0M287 206h0M112 111h0M408 485h0M577 145h0M221 537h0M486 609h0M340 403h0M225 121h0M255 497h0M71 577h0M603 390h0M300 467h0M297 438h0M206 608h0M103 416h0M211 140h0M261 304h0M499 284h0M369 97h0M405 286h0M348 516h0M159 266h0M489 87h0M470 219h0M165 547h0M460 536h0M145 105h0M331 610h0M411 545h0M299 295h0M443 603h0M400 184h0M430 551h0M597 109h0M96 149h0M196 564h0M588 226h0M149 73h0M205 189h0M510 178h0M315 513h0M591 112h0M359 523h0M348 97h0M276 79h0M324 171h0M161 144h0M158 236h0M539 314h0M133 144h0M294 485h0M463 502h0M236 552h0M120 360h0M208 441h0M146 416h0M113 498h0M321 396h0M513 588h0M542 266h0M162 608h0M168 353h0M198 229h0M128 373h0M95 230h0M296 527h0M397 516h0M220 224h0M398 91h0M237 335h0M562 99h0M90 269h0M539 119h0M333 511h0M310 549h0M96 529h0M527 545h0M317 106h0M213 187h0M186 274h0M465 321h0M99 101h0M608 364h0M404 352h0M268 599h0M217 103h0M578 449h0M348 397h0M492 225h0M495 463h0M546 226h0M269 177h0M159 290h0M139 455h0M84 180h0M137 543h0M241 518h0M277 605h0M557 596h0M75 310h0M229 87h0M273 327h0M270 493h0M215 454h0M452 120h0M555 114h0M119 347h0M174 334h0M216 286h0M597 328h0M477 106h0M340 479h0M558 217h0M249 235h0M126 312h0M535 294h0M206 459h0M520 290h0M196 247h0M519 109h0M139 122h0M448 496h0M489 514h0M70 302h0M589 239h0M272 127h0M133 477h0M597 225h0M387 171h0M395 228h0M510 438h0M489 537h0M373 243h0M188 215h0M251 340h0M233 170h0M216 125h0M414 275h0M325 201h0M216 102h0M373 443h0M591 90h0M113 148h0M502 503h0M545 233h0M375 363h0M207 204h0M513 170h0M192 422h0M315 175h0M221 485h0M177 463h0M554 221h0M606 344h0M235 595h0M423 200h0M486 359h0M160 378h0M466 316h0M216 228h0M446 463h0M300 403h0M566 532h0M141 378h0M262 370h0M605 117h0M570 330h0M413 508h0M234 102h0M419 325h0M107 443h0M439 365h0M551 309h0M169 564h0M154 504h0M420 494h0M312 150h0M209 323h0M375 83h0M179 436h0M586 208h0M553 596h0M209 146h0M545 131h0M252 157h0M460 529h0M333 513h0M315 269h0M398 287h0M400 521h0M504 555h0M530 135h0M254 342h0M272 350h0M155 525h0M150 465h0M366 530h0M600 539h0M80 323h0M204 100h0M228 276h0M464 343h0M400 558h0M126 489h0M342 429h0M331 79h0M534 346h0M484 137h0M117 540h0M592 570h0M352 408h0M480 429h0M265 570h0M590 354h0M131 135h0M130 179h0M374 124h0M502 454h0M468 508h0M218 110h0M343 247h0M130 538h0M513 302h0M295 216h0M505 334h0M296 567h0M158 557h0M538 188h0M356 582h0M595 207h0M271 545h0M228 127h0M597 343h0M251 368h0M354 186h0M345 151h0M233 409h0M308 122h0M140 239h0M336 569h0M95 371h0M402 173h0M242 113h0M295 503h0M195 567h0M594 130h0M114 91h0M326 184h0M562 84h0M455 327h0M452 533h0M209 564h0M608 94h0M147 192h0M98 223h0M323 226h0M174 501h0M425 534h0M414 182h0M382 354h0M299 378h0M124 396h0M301 397h0M548 206h0M409 477h0M503 255h0M393 326h0M576 576h0M259 82h0M356 434h0M78 139h0M438 379h0M296 338h0M424 132h0M70 214h0M146 496h0M583 214h0M112 194h0M343 420h0M181 242h0M493 587h0M518 163h0M420 437h0M71 525h0M543 367h0M531 191h0M294 518h0M374 190h0M435 594h0M161 356h0M568 410h0M548 503h0M482 332h0M298 134h0M281 378h0M157 115h0M547 321h0M212 470h0M563 347h0M282 120h0M482 487h0M323 405h0M370 393h0M115 498h0M325 276h0M72 505h0M356 403h0M177 281h0M77 401h0M526 516h0M150 174h0M79 279h0M495 553h0M320 603h0M446 279h0M587 110h0M591 127h0M133 363h0"/><path stroke="#747474" stroke-width="1.0" stroke-linecap="square" fill="none" d="M69 178h0M596 237h0M439 186h0M117 282h0M229 376h0M562 328h0M104 476h0M603 106h0M283 182h0M478 104h0M475 284h0M249 89h0M485 467h0M339 332h0M248 523h0M197 305h0M352 372h0M371 464h0M512 601h0M568 476h0M471 120h0M251 354h0M308 133h0M186 583h0M240 303h0M506 608h0M246 302h0M454 171h0M454 529h0M195 132h0M98 396h0M412 388h0M546 590h0M257 95h0M161 116h0M379 79h0M125 272h0M164 168h0M206 456h0M349 86h0M164 236h0M526 558h0M598 397h0M353 435h0M328 75h0M486 280h0M248 576h0M535 380h0M194 277h0M522 160h0M198 207h0M608 372h0M316 393h0M178 350h0M392 137h0M297 522h0M271 293h0M446 377h0M160 82h0M85 434h0M220 460h0M588 341h0M148 349h0M582 311h0M475 401h0M293 133h0M267 121h0M530 218h0M533 591h0M371 536h0M339 463h0M492 556h0M318 214h0M319 603h0M96 382h0M427 387h0M161 431h0M530 444h0M221 238h0M201 575h0M297 452h0M366 323h0M197 110h0M306 218h0M602 579h0M544 209h0M602 253h0M609 357h0M467 499h0M406 222h0M390 154h0M507 79h0M220 188h0M541 360h0M304 320h0M180 398h0M532 595h0M283 562h0M561 98h0M221 125h0M398 444h0M375 106h0M502 396h0M520 563h0M128 140h0M286 517h0M466 456h0M226 531h0M385 521h0M253 220h0M553 420h0M152 505h0M226 146h0M283 143h0M127 113h0M590 330h0M534 446h0M391 417h0M501 234h0M576 343h0M540 569h0M320 521h0M477 340h0M416 276h0M435 341h0M577 190h0M137 515h0M324 106h0M289 426h0M137 504h0M563 93h0M228 583h0M248 265h0M261 484h0M561 235h0M525 192h0M185 154h0M409 347h0M293 144h0M456 218h0M359 352h0M268 128h0M382 155h0M585 209h0M469 118h0M424 450h0M142 468h0M560 600h0M125 552h0M310 215h0M199 545h0M147 249h0M209 354h0M191 318h0M222 397h0M285 76h0M446 432h0M193 69h0M155 578h0M149 118h0M561 476h0M171 547h0M123 290h0M140 444h0M93 363h0M272 428h0M96 78h0M385 305h0M343 359h0M485 549h0M311 590h0M596 336h0M122 405h0M446 594h0M254 497h0M300 232h0M267 309h0M96 409h0M144 463h0M503 75h0M555 162h0M584 81h0M525 486h0M77 529h0M340 341h0M590 140h0M71 269h0M200 153h0M174 468h0M320 525h0M407 565h0M100 213h0M90 608h0M552 576h0M261 447h0M126 562h0M309 586h0M549 266h0M494 338h0M406 387h0M129 126h0M176 182h0M319 169h0M479 534h0M426 262h0M195 299h0M501 111h0M100 143h0M238 449h0M109 518h0M199 565h0M446 461h0M152 147h0M251 295h0M525 597h0M564 445h0M464 398h0M158 271h0M510 214h0M354 534h0M365 553h0M383 325h0M139 422h0M239 313h0M400 393h0M337 545h0M591 309h0M564 204h0M282 494h0M422 87h0M175 355h0M84 607h0M200 562h0M152 315h0M383 362h0M373 119h0M165 295h0M202 182h0M498 381h0M299 572h0M301 481h0M383 282h0M85 249h0M88 100h0M104 410h0M234 287h0M160 528h0M271 105h0M78 467h0M458 528h0M271 95h0M270 163h0M286 353h0M153 502h0M188 334h0M169 142h0M133 279h0M158 211h0M90 572h0M341 277h0M116 547h0M390 163h0M594 584h0M524 429h0M562 320h0M218 506h0M309 195h0M210 552h0M363 73h0M264 389h0M442 100h0M545 526h0M484 470h0M218 179h0M467 272h0M152 560h0M225 294h0M453 523h0M201 107h0M544 79h0M196 124h0M281 152h0M550 122h0M565 564h0M149 389h0M369 299h0M199 372h0M455 499h0M175 568h0M608 199h0M369 538h0M142 246h0M426 587h0M99 550h0M344 509h0M394 467h0M226 127h0M128 79h0M438 565h0M425 253h0M256 108h0M69 502h0M553 496h0M292 233h0M274 80h0M88 145h0M444 233h0M206 294h0M270 195h0M494 226h0M136 71h0M206 461h0M81 96h0M215 457h0M417 76h0M344 607h0M164 570h0M111 305h0M132 445h0M198 576h0M202 434h0M306 124h0M373 544h0M449 197h0M532 382h0M401 211h0M69 500h0M383 114h0M421 147h0M225 320h0M265 223h0M237 134h0M463 138h0M566 575h0M71 116h0M481 210h0M140 187h0M599 567h0M205 167h0M312 183h0M403 552h0M105 510h0M424 191h0M285 311h0M585 193h0M568 509h0M509 225h0M97 262h0M240 127h0M180 82h0M146 586h0M491 279h0M435 328h0M164 76h0M208 172h0M576 474h0M570 306h0M214 293h0M555 83h0M572 289h0M609 220h0M382 106h0M84 460h0M424 220h0M536 294h0M280 152h0M460 164h0M389 283h0M578 372h0M354 521h0M362 406h0M506 234h0M391 571h0M148 520h0M473 547h0M610 204h0M366 485h0M262 92h0M515 137h0M245 276h0M464 188h0M425 232h0M594 327h0M472 118h0M452 309h0M475 122h0M518 349h0M557 159h0M602 525h0M234 295h0M233 482h0M320 434h0M310 117h0M133 577h0M235 575h0M247 558h0M105 191h0M278 453h0M79 353h0M509 407h0M290 280h0M482 495h0M517 343h0M445 539h0M244 490h0M405 237h0M374 209h0M377 450h0M485 587h0M415 371h0M160 444h0M127 490h0M379 604h0M168 82h0M287 238h0M207 594h0M117 159h0M314 123h0M268 102h0M462 195h0M298 429h0M275 426h0M505 585h0M90 142h0M200 230h0M187 476h0M337 329h0M401 93h0M220 155h0M531 405h0M106 185h0M420 86h0M131 589h0M347 395h0M311 540h0M587 155h0M173 106h0M535 212h0M284 443h0M542 291h0M414 369h0M237 170h0M606 352h0M274 130h0M453 336h0M303 392h0M274 391h0M291 102h0M501 494h0M453 82h0M514 318h0M509 282h0M224 80h0M349 245h0M297 365h0M394 440h0M136 412h0M492 199h0M523 535h0M159 522h0M120 104h0M598 429h0M173 574h0M190 184h0M121 501h0M552 161h0M161 593h0M457 486h0M490 73h0M558 575h0M207 228h0M309 289h0M481 344h0M558 258h0M492 261h0M172 358h0M334 324h0M355 323h0M547 438h0M106 457h0M201 477h0M272 454h0M160 576h0M378 314h0M247 412h0M355 391h0M70 454h0M558 513h0M351 524h0M251 527h0M385 216h0M255 548h0M122 549h0M416 442h0M550 417h0M271 571h0M586 187h0M475 210h0M256 608h0M171 606h0M372 505h0M495 529h0M103 229h0M479 578h0M547 569h0M84 274h0M130 576h0M522 504h0M467 100h0M419 276h0M141 442h0M470 89h0M273 551h0M368 180h0M165 337h0M601 551h0M503 556h0M109 111h0M474 137h0M593 132h0M121 92h0M71 541h0M217 503h0M207 499h0M369 469h0M566 575h0M456 487h0M184 92h0M507 233h0M283 87h0M125 538h0M457 217h0M252 122h0M154 234h0M387 461h0M177 338h0M597 393h0M501 243h0M551 278h0M381 117h0M519 405h0M457 494h0M489 340h0M560 555h0M151 156h0M556 231h0M250 97h0M414 358h0M229 376h0M106 591h0M250 113h0M258 413h0M252 485h0M444 166h0M502 115h0M509 602h0M137 228h0M85 422h0M89 455h0M554 452h0M232 484h0M576 408h0M549 204h0M364 600h0M513 221h0M501 451h0M565 321h0M362 89h0M110 296h0M466 176h0M291 418h0M248 235h0M267 116h0M477 92h0M290 378h0M370 190h0M385 213h0M210 576h0M84 555h0M378 453h0M312 243h0M470 100h0M106 226h0M543 533h0M586 78h0M152 98h0M334 78h0M598 282h0M231 69h0M261 514h0M347 392h0M357 394h0M269 215h0M372 214h0M336 549h0M591 547h0M488 512h0M495 201h0M577 526h0M210 383h0M100 525h0M150 512h0M511 279h0M500 321h0M318 254h0M446 476h0M382 441h0M109 521h0M513 248h0M351 515h0M140 124h0M69 237h0M400 117h0M601 223h0M482 579h0M92 610h0M575 549h0M453 173h0M164 481h0M100 603h0M87 556h0M175 517h0M501 72h0M336 414h0M171 353h0M118 373h0M189 448h0M305 118h0M301 167h0M595 198h0M118 416h0M143 192h0M559 410h0M469 114h0M505 441h0M149 316h0M86 203h0M528 180h0M441 576h0M439 201h0M257 539h0M275 252h0M257 388h0M98 497h0M567 601h0M397 173h0M112 284h0M168 86h0M159 183h0M562 567h0M183 578h0M358 544h0M70 240h0M398 344h0M604 214h0M472 235h0M282 552h0M397 199h0M599 188h0M298 329h0M539 587h0M608 228h0M110 240h0M307 460h0M454 584h0M84 438h0M442 609h0M430 413h0M598 210h0M404 244h0M514 190h0M300 195h0M497 317h0M363 374h0M476 237h0M181 419h0M172 460h0M552 559h0M507 123h0M115 371h0M496 124h0M405 443h0M478 586h0M462 499h0M416 339h0M433 107h0M351 270h0M449 335h0M130 174h0M319 120h0M536 389h0M565 403h0M375 179h0M118 525h0M176 258h0M116 399h0M399 69h0M394 134h0M161 481h0M94 118h0M602 188h0M467 397h0M333 552h0M382 209h0M267 125h0M471 159h0M272 71h0M203 360h0M209 606h0M476 177h0M514 357h0M229 224h0M209 146h0M361 140h0M227 462h0M304 477h0M466 403h0M340 570h0M498 300h0M422 385h0M173 586h0M464 374h0M509 184h0M293 574h0M194 232h0M540 120h0M592 516h0M175 304h0M405 239h0M168 577h0M397 419h0M154 481h0M462 285h0M446 165h0M505 527h0M388 157h0M396 465h0M281 191h0M442 179h0M506 545h0M373 212h0M567 581h0M193 77h0M395 444h0M243 227h0M540 156h0M144 221h0M180 107h0M362 318h0M345 245h0M437 505h0M594 143h0M508 123h0M544 381h0M534 189h0M444 404h0M248 237h0M545 364h0M164 235h0M248 594h0M447 119h0M484 474h0M587 559h0M586 324h0M88 191h0M149 575h0M517 489h0M144 408h0M495 384h0M157 230h0M300 266h0M103 244h0M388 256h0M82 313h0M456 555h0M465 287h0M72 82h0M182 349h0M600 213h0M571 584h0M335 224h0M171 564h0M464 115h0M394 197h0M72 150h0M587 533h0M105 348h0M182 544h0M218 512h0M451 372h0M348 265h0M393 595h0M410 406h0M534 550h0M78 223h0M373 274h0M239 541h0M108 428h0M451 521h0M315 169h0M434 477h0M587 92h0M252 138h0M86 527h0M430 444h0M596 365h0M190 249h0M457 498h0M233 394h0M337 502h0M409 516h0M428 503h0M91 593h0M78 92h0M105 558h0M184 229h0M185 302h0M589 223h0M95 79h0M508 362h0M217 465h0M409 434h0M202 523h0M517 400h0M533 427h0M572 481h0M257 598h0M551 546h0M528 276h0M79 421h0M240 436h0M114 233h0M135 223h0M449 239h0M380 221h0M222 550h0M232 393h0M524 287h0M431 397h0M247 119h0M513 199h0M542 302h0M96 600h0M434 557h0M434 132h0M290 453h0M570 483h0M529 173h0M406 319h0M289 416h0M119 496h0M370 405h0M577 241h0M559 356h0M314 457h0M376 486h0M145 298h0M596 306h0M122 137h0M579 144h0M468 220h0M338 575h0M267 562h0M126 279h0M352 268h0M318 219h0M264 420h0M403 195h0M185 231h0M267 498h0M521 295h0M382 368h0M359 97h0M149 260h0M220 87h0M174 145h0M158 322h0M574 576h0M153 408h0M186 396h0M168 429h0M466 438h0M529 602h0M190 108h0M211 215h0M84 397h0M502 194h0M590 490h0M236 386h0M102 258h0M153 370h0M562 85h0M96 226h0M75 145h0M342 225h0M160 169h0M210 430h0M550 474h0M543 513h0M608 104h0M594 143h0M384 413h0M527 431h0M377 587h0M200 261h0M395 561h0M557 457h0M94 552h0M360 578h0M122 310h0M537 307h0M349 439h0M530 178h0M295 176h0M142 118h0M379 303h0M199 225h0M102 97h0M112 539h0M126 554h0M94 184h0M168 412h0M182 158h0M452 397h0M107 422h0M522 142h0M564 313h0M537 347h0M104 572h0M354 101h0M535 313h0M481 439h0M525 357h0M446 201h0M487 539h0M351 210h0M465 154h0M420 278h0M164 289h0M480 180h0M316 605h0M275 302h0M365 373h0M219 88h0M111 181h0M353 188h0M361 404h0M161 81h0M528 74h0M420 355h0M577 243h0M562 85h0M255 544h0M176 300h0M400 100h0M429 446h0M356 526h0M180 476h0M190 203h0M425 400h0M312 356h0M438 349h0M140 144h0M610 374h0M600 599h0M568 99h0M227 486h0M135 343h0M260 70h0M140 246h0M237 537h0M575 513h0M531 530h0M71 497h0M587 356h0M584 437h0M157 146h0M350 384h0M557 323h0M178 100h0M361 78h0M239 549h0M71 484h0M516 505h0M169 323h0M450 343h0M300 110h0M599 300h0M201 458h0M529 594h0M183 280h0M75 165h0M328 408h0M372 468h0M418 533h0M361 541h0M117 400h0M458 568h0M301 548h0M572 399h0M428 169h0M440 403h0M549 296h0M475 475h0M204 315h0M540 500h0M388 286h0M146 294h0M137 352h0M317 394h0M249 78h0M510 112h0M318 415h0M490 344h0M367 341h0M275 109h0M258 90h0M452 284h0M500 474h0M560 523h0M518 382h0M572 485h0M197 183h0M78 451h0M509 167h0M85 504h0M156 178h0M307 332h0M380 499h0M537 536h0M550 460h0M174 294h0M372 546h0M172 297h0M331 158h0M85 490h0M475 547h0M318 593h0M448 129h0M502 213h0M368 79h0M468 311h0M472 186h0M240 305h0M429 421h0M552 484h0M610 495h0M506 225h0M106 193h0M103 610h0M606 182h0M333 261h0M446 203h0M154 286h0M408 581h0M457 534h0M92 450h0M126 533h0M104 140h0M105 344h0M270 562h0M157 513h0M561 150h0M435 276h0M541 341h0M186 400h0M589 464h0M150 600h0M288 371h0M94 490h0M126 404h0M309 251h0M87 101h0M553 263h0M273 531h0M154 555h0M586 410h0M367 303h0M563 404h0M322 394h0M395 213h0M457 292h0M475 568h0M388 106h0M70 231h0M213 427h0M145 263h0M329 259h0M222 415h0M370 270h0M265 459h0M284 86h0M580 312h0M411 124h0M411 162h0M287 179h0M128 519h0M313 238h0M220 457h0M470 322h0M561 285h0M556 193h0M72 584h0M123 321h0M273 468h0M73 392h0M147 396h0M492 157h0M449 76h0M333 98h0M518 421h0M266 608h0M188 609h0M495 143h0M245 465h0M602 471h0M321 567h0M103 506h0M313 232h0M151 563h0M109 94h0M124 482h0M203 460h0M546 96h0M128 454h0M487 387h0M502 83h0M594 460h0M208 267h0M246 183h0M113 315h0M597 346h0M381 184h0M504 273h0M421 192h0M95 382h0M75 143h0M338 318h0M340 176h0M142 435h0M201 596h0M286 465h0M347 382h0M189 136h0M85 170h0M236 203h0M378 356h0M159 348h0M462 166h0M459 516h0M223 547h0M115 592h0M84 424h0M288 486h0M263 244h0M545 224h0M247 85h0M148 463h0M170 434h0M600 172h0M202 368h0M401 605h0M601 264h0M481 289h0M238 146h0M90 527h0M411 349h0M493 327h0M138 370h0M188 213h0M150 200h0M210 99h0M162 592h0M339 260h0M329 430h0M473 181h0M320 156h0M469 188h0M189 77h0M371 359h0M522 332h0M175 533h0M220 419h0M145 274h0M404 424h0M127 536h0M310 285h0M220 473h0M452 76h0M549 315h0M440 237h0M383 606h0M275 599h0M223 281h0M341 71h0M493 327h0M289 199h0M392 571h0M474 320h0M387 152h0M273 235h0M144 549h0M132 183h0M555 216h0M583 418h0M199 412h0M486 229h0M75 205h0M231 131h0M529 277h0M168 579h0M333 416h0M441 509h0M334 79h0M497 568h0M537 70h0M211 263h0M100 406h0M280 343h0M378 538h0M562 252h0M594 321h0M231 488h0M278 373h0M464 177h0M70 537h0M184 154h0M307 579h0M304 173h0M113 350h0M339 283h0M493 539h0M498 414h0M79 533h0M96 165h0M307 401h0M517 161h0M161 289h0M359 284h0M390 610h0M226 267h0M136 226h0M464 452h0M606 503h0M196 94h0M200 278h0M232 355h0M145 517h0M391 157h0M203 452h0M480 282h0M174 92h0M158 179h0M87 542h0M418 597h0M105 93h0M542 348h0M240 103h0M138 409h0M401 292h0M524 282h0M302 149h0M595 476h0M220 555h0M479 567h0M192 283h0M335 493h0M493 327h0M475 137h0M278 96h0M541 301h0M148 518h0M356 607h0M231 420h0M335 176h0M434 289h0M241 95h0M354 289h0M418 231h0M413 195h0M599 361h0M92 311h0M107 362h0M263 91h0M297 153h0M591 442h0M441 312h0M384 141h0M396 87h0M594 144h0M402 302h0M487 368h0M109 341h0M300 168h0M265 243h0M103 521h0M151 589h0M358 165h0M373 95h0M432 388h0M346 459h0M283 162h0M497 597h0M268 160h0M394 177h0M107 370h0M389 84h0M77 528h0M90 136h0M168 464h0M496 587h0M497 282h0M511 287h0M227 194h0M97 575h0M566 431h0M505 293h0M241 563h0M85 405h0M448 128h0M248 383h0M529 561h0M84 438h0M317 279h0M137 296h0M156 531h0M582 131h0M563 347h0M414 224h0M309 608h0M136 488h0M424 420h0M312 603h0M326 410h0M168 193h0M288 114h0M303 382h0M111 312h0M512 274h0M149 341h0M604 517h0M226 415h0M114 356h0M339 273h0M360 396h0M318 196h0M339 587h0M601 377h0M223 182h0M310 371h0M372 478h0M465 415h0M72 292h0M500 465h0M335 452h0M200 440h0M328 359h0M316 396h0M579 99h0M92 585h0M431 414h0M266 245h0M279 82h0M168 163h0M188 606h0M181 363h0M557 161h0M177 287h0M307 467h0M504 580h0M568 115h0M375 406h0M312 97h0M141 509h0M166 427h0M238 218h0M345 199h0M171 547h0M189 559h0M233 522h0M129 524h0M393 583h0M534 108h0M395 101h0M533 253h0M139 165h0M589 151h0M527 308h0M427 527h0M318 325h0M71 498h0M266 137h0M291 335h0M156 345h0M315 280h0M247 369h0M592 285h0M71 387h0M86 118h0M97 369h0M89 542h0M567 119h0M192 76h0M276 430h0M544 442h0M85 360h0M571 77h0M560 419h0M485 86h0M584 427h0M540 489h0M281 100h0M604 331h0M414 358h0M460 163h0M258 98h0M201 544h0M564 591h0M531 140h0M363 259h0M271 238h0M397 200h0M324 436h0M522 600h0M295 394h0M116 211h0M569 608h0M484 104h0M134 262h0M470 494h0M128 222h0M336 481h0M277 608h0M189 372h0M573 366h0M247 520h0M593 143h0M527 127h0M437 140h0M398 608h0M237 477h0M185 435h0M558 558h0M341 523h0M94 334h0M422 390h0M420 295h0M576 520h0M147 567h0M378 181h0M73 180h0M576 525h0M544 523h0M117 323h0M342 217h0M502 87h0M499 127h0M99 133h0M147 255h0M127 296h0M206 553h0M128 229h0M172 400h0M153 425h0M601 526h0M475 535h0M507 518h0M252 577h0M266 112h0M458 329h0M110 509h0M533 465h0M281 138h0M288 133h0M124 329h0M117 191h0M274 193h0M188 199h0M181 603h0M479 120h0M117 476h0M98 408h0M375 230h0M355 262h0M183 556h0M272 267h0M510 176h0M396 563h0M198 191h0M276 280h0M228 202h0M451 407h0M574 176h0M289 464h0M491 132h0M480 122h0M577 485h0M524 344h0M207 577h0M162 546h0M372 520h0M461 88h0M208 182h0M486 301h0M583 545h0M183 397h0M71 594h0M334 450h0M523 136h0M508 489h0M73 280h0M518 151h0M155 401h0M463 123h0M505 315h0M580 196h0M115 337h0M440 585h0M598 275h0M477 551h0M259 109h0M165 322h0M76 556h0M469 212h0M407 300h0M294 224h0M529 137h0M136 488h0M562 566h0M457 565h0M189 587h0M384 286h0M309 298h0M581 276h0M448 372h0M451 297h0M155 480h0M108 406h0M598 215h0M401 323h0M374 290h0M114 559h0M364 429h0M507 346h0M297 93h0M607 468h0M116 569h0M240 514h0M246 171h0M537 492h0M576 525h0M319 177h0M499 277h0M515 388h0M483 120h0M143 85h0M113 264h0M390 203h0M438 356h0M217 424h0M89 82h0M370 432h0M475 483h0M301 138h0M475 336h0M89 109h0M211 524h0M498 181h0M512 248h0M450 352h0M511 182h0M495 594h0M406 500h0M215 589h0M534 401h0M521 523h0M508 289h0M482 300h0M486 111h0M131 271h0M559 112h0M504 467h0M449 197h0M429 154h0M420 442h0M608 421h0M594 98h0M127 306h0M590 539h0M95 541h0M191 366h0M166 316h0M258 608h0M202 256h0M555 78h0M146 424h0M328 504h0M574 182h0M307 583h0M376 586h0M601 525h0M97 377h0M426 400h0M218 345h0M240 102h0M189 578h0M249 428h0M205 198h0M231 465h0M209 180h0M580 495h0M263 76h0M322 180h0M338 139h0M576 194h0M152 396h0M351 520h0M450 272h0M147 179h0M379 126h0M189 488h0M182 112h0M601 166h0M505 172h0M301 479h0M512 141h0M340 244h0M136 509h0M330 151h0M213 581h0M257 571h0M469 505h0M480 439h0M525 406h0M91 582h0M510 362h0M448 209h0M200 212h0M437 343h0M103 443h0M524 361h0M244 265h0M187 444h0M148 81h0M494 234h0M418 112h0M381 531h0M96 275h0M338 585h0M333 315h0M489 318h0M267 346h0M259 237h0M503 508h0M497 517h0M441 251h0M462 135h0M124 497h0M527 386h0M162 113h0M212 605h0M129 431h0M216 326h0M331 341h0M272 381h0M516 225h0M445 561h0M361 179h0M295 545h0M321 560h0M468 251h0M394 505h0M340 360h0M313 560h0M593 134h0M211 529h0M133 531h0M591 550h0M330 287h0M284 377h0M420 325h0M169 431h0M284 235h0M311 566h0M536 106h0M130 99h0M294 454h0M253 599h0M453 326h0M410 193h0M601 497h0M151 91h0M561 226h0M520 284h0M537 91h0M153 426h0M219 77h0M177 313h0M495 228h0M571 287h0M375 114h0M404 219h0M318 559h0M260 253h0M580 456h0M606 475h0M340 152h0M515 371h0M186 397h0M228 504h0M584 519h0M335 592h0M230 270h0M134 321h0M574 557h0M531 192h0M81 473h0M443 273h0M450 397h0M72 157h0M609 309h0M537 186h0M535 584h0M164 136h0M157 286h0M425 502h0M427 485h0M74 250h0M554 83h0M469 295h0M390 202h0M313 239h0M164 102h0M460 509h0M150 548h0M134 470h0M279 314h0M105 191h0M531 332h0M575 196h0M432 96h0M338 453h0M182 541h0M117 194h0M339 86h0M286 258h0M526 75h0M82 209h0M388 496h0M128 344h0M217 306h0M172 76h0M605 442h0M75 328h0M110 167h0M143 562h0M598 265h0M312 362h0M339 515h0M184 552h0M221 198h0M80 464h0M317 440h0M179 323h0M156 271h0M327 261h0M297 335h0M308 595h0M75 177h0M294 334h0M355 76h0M84 422h0M104 497h0M202 577h0M211 577h0M409 437h0M163 172h0M132 221h0M342 166h0M328 394h0M417 294h0M488 602h0M101 433h0M222 244h0M464 181h0M333 113h0M507 88h0M389 89h0M283 91h0M443 482h0M570 363h0M514 144h0M311 100h0M74 437h0M195 502h0M191 528h0M231 113h0M522 440h0M216 357h0M553 251h0M454 537h0M270 310h0M126 149h0M94 527h0M338 175h0M333 557h0M278 153h0M487 427h0M313 421h0M428 248h0M450 475h0M432 349h0M521 521h0M91 517h0M190 237h0M85 89h0M447 293h0M479 337h0M197 459h0M604 445h0M118 292h0M297 420h0M206 529h0M561 105h0M557 255h0M548 434h0M508 78h0M297 326h0M306 502h0M364 126h0M214 343h0M326 525h0M300 74h0M581 314h0M366 226h0M141 126h0M114 149h0M142 510h0M113 313h0M157 361h0M154 530h0M462 330h0M521 88h0M324 256h0M434 609h0M188 328h0M292 475h0M268 333h0M271 241h0M208 362h0M103 545h0M349 85h0M341 87h0M302 592h0M161 75h0M417 187h0M291 572h0M119 208h0M226 549h0M228 358h0M141 166h0M417 442h0M603 107h0M110 71h0M256 138h0M75 140h0M452 106h0M187 287h0M153 297h0M356 511h0M237 448h0M495 87h0M520 237h0M266 589h0M119 112h0M114 246h0M327 327h0M174 438h0M101 109h0M539 177h0M407 506h0M496 529h0M489 349h0M362 379h0M552 272h0M167 245h0M373 374h0M381 541h0M69 152h0M353 436h0M239 114h0M571 307h0M467 517h0M298 254h0M156 530h0M323 350h0M575 349h0M481 598h0M245 248h0M403 450h0M398 604h0M281 95h0M242 311h0M404 461h0M497 98h0M85 334h0M169 368h0M200 266h0M463 412h0M572 215h0M195 324h0M536 192h0M210 213h0M154 154h0M76 150h0M147 206h0M152 338h0M428 140h0M104 152h0M312 399h0M339 258h0M355 521h0M504 370h0M224 512h0M601 73h0M279 282h0M435 313h0M445 390h0M322 394h0M201 101h0M539 102h0M453 366h0M266 315h0M117 516h0M183 110h0M412 122h0M487 285h0M115 182h0M245 229h0M570 337h0M469 352h0M498 168h0M108 581h0M186 482h0M306 109h0M539 354h0M482 418h0M318 404h0M443 217h0M335 148h0M422 335h0M217 457h0M258 183h0M334 167h0M109 382h0M519 399h0M494 448h0M452 518h0M605 367h0M306 312h0M501 87h0M495 440h0M139 417h0M485 357h0M415 320h0M395 76h0M363 69h0M487 540h0M126 228h0M289 289h0M283 152h0M121 365h0M443 116h0M270 239h0M469 101h0M340 278h0M293 182h0M318 376h0M605 512h0M363 601h0M253 513h0M203 574h0M418 556h0M451 329h0M493 85h0M193 496h0M370 179h0M135 530h0M560 499h0M317 334h0M555 430h0M214 401h0M359 288h0M74 431h0M223 258h0M429 127h0M256 381h0M506 73h0M344 443h0M531 399h0M238 351h0M493 172h0M517 500h0M473 470h0M275 446h0M221 238h0M355 140h0M590 287h0M199 267h0M245 339h0M476 327h0M595 345h0M296 105h0M407 294h0M317 175h0M474 97h0M142 82h0M454 215h0M413 147h0M372 188h0M88 220h0M99 83h0M365 332h0M220 217h0M243 147h0M244 128h0M500 246h0M408 554h0M415 340h0M107 243h0M573 441h0M381 421h0M208 261h0M125 608h0M199 609h0M372 549h0M259 191h0M391 169h0M380 603h0M198 458h0M101 374h0M213 608h0M359 281h0M449 104h0M270 114h0M448 546h0M566 424h0M357 471h0M441 318h0M451 110h0M297 321h0M203 114h0M125 241h0M250 107h0M142 324h0M342 132h0M398 593h0M129 130h0M217 502h0M243 491h0M414 279h0M100 115h0M80 524h0M300 603h0M143 226h0M78 381h0M548 541h0M530 598h0M177 338h0M579 593h0M80 268h0M327 91h0M139 424h0M411 505h0M127 270h0M422 352h0M461 358h0M203 515h0M70 507h0M173 399h0M404 199h0M562 503h0M215 372h0M301 84h0M331 490h0M75 231h0M166 416h0M458 383h0M389 501h0M202 78h0M120 309h0M491 453h0M480 574h0M146 264h0M295 225h0M421 285h0M400 468h0M490 362h0M186 429h0M494 436h0M347 240h0M328 70h0M584 506h0M229 498h0M231 242h0M537 318h0M537 578h0M316 341h0M533 190h0M560 151h0M277 330h0M552 459h0M331 393h0M430 227h0M346 303h0M375 156h0M472 179h0M534 357h0M357 69h0M184 595h0M143 128h0M552 526h0M322 235h0M136 306h0M100 595h0M146 169h0M119 391h0M102 490h0M452 235h0M177 577h0M506 470h0M548 483h0M135 105h0M451 464h0M293 473h0M99 552h0M256 463h0M417 279h0M506 283h0M595 544h0M344 513h0M203 373h0M546 275h0M245 81h0M93 349h0M449 203h0M419 253h0M167 468h0M385 285h0M98 125h0M448 473h0M328 358h0M102 436h0M355 343h0M371 509h0M215 190h0M215 454h0M436 215h0M539 383h0M589 78h0M318 199h0M218 226h0M395 546h0M545 420h0M316 491h0M385 124h0M91 371h0M349 366h0M406 576h0M217 209h0M293 222h0M577 539h0M120 368h0M548 153h0M247 444h0M160 344h0M346 448h0M487 82h0M372 500h0M233 540h0M431 538h0M104 437h0M141 288h0M329 273h0M342 212h0M181 333h0M118 504h0M287 242h0M579 329h0M599 189h0M385 520h0M414 564h0M595 297h0M607 119h0M400 407h0M146 250h0M202 418h0M230 109h0M601 174h0M424 404h0M562 125h0M112 269h0M447 167h0M187 170h0M260 320h0M314 70h0M479 562h0M589 315h0M409 325h0M92 230h0M233 192h0M476 258h0M390 141h0M86 484h0M245 91h0M260 232h0M602 299h0M234 462h0M593 376h0M538 243h0M78 113h0M358 176h0M190 273h0M294 428h0M542 113h0M132 342h0M261 182h0M118 606h0M129 582h0M415 522h0M556 548h0M279 145h0M466 453h0M195 369h0M403 363h0M196 540h0M405 453h0M318 276h0M280 98h0M320 515h0M406 409h0M564 390h0M294 508h0M191 540h0M91 83h0M421 259h0M567 349h0M531 378h0M569 393h0M447 125h0M292 74h0M519 157h0M79 512h0M436 305h0M287 79h0M592 536h0M227 427h0M406 312h0M544 423h0M343 514h0M121 375h0M147 354h0M191 551h0M502 254h0M217 596h0M433 195h0M232 240h0M235 509h0M403 245h0M336 217h0M366 306h0M321 81h0M465 479h0M402 131h0M420 112h0M525 136h0M154 593h0M207 426h0M208 69h0M114 206h0M322 200h0M148 482h0M216 171h0M567 402h0M161 491h0M131 258h0M128 587h0M438 173h0M354 487h0M177 303h0M402 99h0M129 93h0M526 191h0M300 119h0M432 118h0M545 488h0M444 144h0M134 321h0M75 415h0M267 110h0M396 222h0M114 528h0M114 423h0M430 115h0M248 319h0M466 511h0M540 602h0M211 492h0M592 124h0M441 383h0M584 454h0M392 135h0M397 554h0M266 556h0M440 548h0M539 430h0M467 383h0M596 387h0M272 542h0M334 440h0M343 342h0M359 264h0M325 338h0M537 274h0M224 476h0M194 110h0M433 238h0M120 340h0M451 600h0M255 291h0M565 257h0M529 342h0M295 188h0M331 135h0M531 229h0M180 132h0M78 523h0M230 242h0M186 120h0M373 167h0M381 496h0M270 157h0M312 293h0M320 253h0M485 143h0M80 75h0M452 477h0M488 397h0M449 436h0M558 327h0M306 189h0M202 300h0M536 87h0M511 570h0M441 126h0M373 141h0M119 536h0M401 403h0M272 188h0M553 303h0M574 298h0M429 578h0M385 425h0M477 567h0M285 230h0M344 242h0M213 461h0M329 562h0M401 239h0M566 191h0M549 88h0M574 464h0M114 120h0M199 478h0M440 608h0M168 602h0M168 118h0M595 593h0M451 118h0M115 392h0M372 290h0M78 445h0M302 133h0M106 85h0M558 598h0M267 441h0M229 79h0M324 453h0M192 510h0M514 177h0M146 274h0M343 95h0M305 573h0M333 451h0M361 265h0M560 319h0M536 307h0M323 168h0M110 341h0M211 243h0M83 437h0M413 497h0M165 529h0M591 128h0M342 346h0M519 468h0M560 301h0M236 367h0M568 454h0M282 265h0M71 450h0M329 400h0M483 545h0M522 190h0M180 205h0M147 563h0M421 210h0M472 152h0M236 319h0M561 285h0M168 387h0M463 303h0M371 192h0M190 222h0M596 324h0M225 127h0M109 284h0M343 457h0M480 315h0M160 583h0M114 540h0M534 315h0M73 533h0M99 589h0M537 513h0M219 368h0M235 105h0M253 207h0M111 215h0M316 508h0M204 220h0M117 296h0M511 346h0M313 490h0M283 99h0M592 267h0M239 520h0M585 397h0M330 406h0M324 363h0M265 305h0M564 159h0M372 527h0M501 165h0M403 473h0M234 538h0M364 498h0M235 550h0M403 414h0M172 402h0M312 397h0M507 479h0M250 300h0M72 105h0M514 284h0M408 391h0M114 565h0M447 410h0M560 541h0M347 330h0M317 478h0M517 307h0M365 506h0M139 157h0M559 377h0M576 182h0M78 524h0M396 507h0M106 366h0M563 490h0M197 595h0M183 104h0M307 154h0M119 292h0M407 424h0M260 327h0M586 234h0M291 315h0M140 500h0M295 245h0M277 136h0M320 71h0M110 282h0M366 605h0M416 314h0M607 558h0M209 192h0M407 87h0M493 288h0M390 279h0M298 428h0M175 140h0M447 169h0M401 345h0M304 272h0M299 345h0M417 475h0M356 128h0M144 314h0M603 287h0M313 142h0M256 498h0M258 403h0M134 190h0M492 204h0M518 187h0M218 84h0M580 351h0M434 470h0M113 207h0M125 343h0M156 403h0M579 334h0M319 148h0M255 403h0M76 305h0M555 384h0M589 266h0M528 433h0M302 228h0M544 476h0M577 599h0M391 536h0M435 196h0M128 418h0M323 121h0M405 170h0M508 574h0M590 346h0M178 217h0M517 328h0M163 235h0M528 472h0M149 495h0M295 576h0M173 191h0M246 344h0M208 440h0M200 364h0M404 447h0M182 203h0M75 421h0M168 574h0M390 345h0M452 303h0M542 177h0M537 187h0M131 318h0M516 591h0M81 420h0M416 564h0M497 143h0M139 541h0M192 375h0M207 567h0M529 276h0M536 211h0M126 115h0M334 423h0M196 486h0M253 344h0M117 144h0M595 429h0M130 399h0M416 315h0M336 365h0M260 447h0M131 391h0M587 225h0M542 395h0M301 548h0M420 72h0M590 125h0M606 320h0M576 586h0M583 150h0M570 92h0M138 267h0M450 70h0M327 188h0M494 220h0M545 608h0M498 205h0M338 404h0M197 406h0M237 80h0M609 575h0M145 246h0M199 524h0M181 440h0M153 79h0M588 460h0M254 104h0M82 430h0M257 283h0M256 505h0M178 529h0M439 370h0M154 374h0M480 255h0M429 258h0M530 153h0M295 144h0M402 345h0M199 592h0M603 216h0M258 461h0M482 537h0M278 446h0M349 518h0M126 520h0M459 420h0M579 479h0M105 345h0M417 575h0M132 123h0M512 391h0M492 263h0M288 302h0M324 606h0M76 220h0M338 391h0M208 120h0M69 198h0M564 72h0M530 81h0M300 454h0M311 508h0M469 580h0M242 396h0M337 406h0M226 418h0M551 79h0M149 373h0M464 125h0M173 467h0M329 289h0M336 513h0M381 397h0M342 543h0M132 246h0M439 552h0M296 243h0M428 525h0M334 347h0M88 527h0M566 190h0M496 349h0M140 547h0M421 285h0M121 328h0M579 295h0M534 321h0M451 548h0M263 362h0M329 206h0M331 191h0M72 172h0M258 265h0M147 71h0M284 414h0M560 193h0M551 344h0M82 434h0M184 592h0M191 336h0M130 586h0M587 180h0M384 228h0M260 502h0M149 338h0M490 501h0M599 156h0M355 235h0M207 218h0M497 281h0M248 315h0M227 183h0M254 496h0M601 573h0M288 541h0M231 346h0M160 391h0M434 549h0M519 515h0M306 206h0M106 69h0M331 593h0M555 359h0M257 466h0M168 540h0M433 90h0M155 428h0M458 504h0M481 293h0M363 462h0M472 328h0M226 479h0M589 415h0M598 296h0M496 584h0M188 460h0M267 588h0M499 134h0M289 416h0M218 88h0M311 290h0M539 473h0M561 151h0M127 339h0M371 506h0M516 542h0M609 386h0M339 149h0M527 261h0M531 377h0M423 547h0M181 161h0M562 380h0M129 289h0M470 240h0M317 387h0M477 413h0M496 338h0M585 213h0M69 416h0M108 450h0M378 346h0M74 433h0M221 69h0M339 386h0M451 118h0M95 106h0M556 169h0M336 456h0M583 386h0M353 389h0M428 248h0M99 90h0M251 406h0M233 586h0M102 135h0M568 456h0M136 363h0M364 164h0M197 504h0M220 246h0M454 474h0M291 435h0M397 400h0M208 132h0M335 296h0M511 287h0M69 473h0M262 247h0M462 589h0M511 609h0M454 331h0M209 117h0M152 350h0M183 216h0M233 287h0M71 550h0M362 262h0M532 397h0M440 458h0M320 301h0M235 470h0M508 361h0M597 154h0M398 109h0M158 226h0M553 529h0M569 73h0M102 115h0M410 305h0M553 532h0M83 116h0M215 462h0M529 163h0M173 260h0M423 553h0M185 554h0M492 605h0M360 95h0M112 390h0M552 562h0M86 359h0M73 374h0M402 334h0M545 217h0M270 152h0M521 248h0M259 272h0M383 536h0M439 516h0M441 545h0M229 343h0M437 474h0M189 387h0M289 103h0M141 507h0M112 492h0M509 490h0M442 172h0M444 407h0M429 556h0M89 463h0M502 411h0M573 243h0M141 284h0M260 510h0M579 296h0M151 258h0M509 105h0M268 405h0M588 449h0M185 478h0M99 77h0M95 328h0M265 440h0M283 121h0M390 292h0M557 377h0M252 130h0M472 251h0M314 424h0M134 459h0M594 566h0M284 433h0M73 156h0M239 491h0M93 528h0M604 484h0M569 274h0M77 544h0M585 505h0M322 367h0M99 275h0M340 232h0M144 330h0M531 335h0M242 437h0M414 269h0M596 438h0M171 530h0M463 381h0M395 100h0M565 476h0M277 431h0M577 218h0M602 92h0M219 357h0M81 140h0M559 401h0M523 412h0M410 520h0M526 607h0M199 154h0M104 168h0M446 404h0M294 113h0M465 595h0M133 112h0M376 507h0M125 197h0M209 405h0M345 329h0M94 538h0M577 310h0M265 413h0M127 606h0M445 206h0M172 490h0M397 496h0M160 565h0M505 488h0M144 605h0M580 205h0M315 266h0M565 126h0M99 598h0M452 537h0M333 345h0M479 469h0M148 600h0M512 517h0M439 581h0M596 115h0M520 367h0M124 361h0M127 408h0M583 352h0M334 152h0M342 606h0M464 146h0M121 397h0M127 411h0M538 445h0M343 210h0M308 599h0M164 317h0M333 569h0M549 338h0M425 333h0M263 161h0M472 430h0M366 495h0M72 530h0M471 370h0M325 349h0M303 204h0M492 598h0M253 252h0M324 80h0M100 288h0M309 282h0M159 125h0M601 543h0M274 417h0M328 286h0M235 325h0M197 408h0M592 434h0M463 230h0M254 262h0M105 540h0M554 390h0M142 82h0M409 526h0M234 456h0M392 211h0M339 357h0M372 70h0M185 300h0M242 411h0M234 178h0M574 500h0M116 518h0M139 590h0M325 313h0M442 475h0M454 351h0M506 321h0M257 498h0M335 343h0M585 606h0M239 437h0M459 446h0M464 326h0M453 367h0M488 318h0M136 453h0M541 422h0M579 290h0M204 148h0M375 188h0M117 206h0M444 413h0M203 438h0M253 347h0M520 210h0M535 330h0M444 280h0M69 454h0M155 572h0M390 288h0M190 356h0M519 266h0M218 74h0M600 271h0M275 320h0M252 274h0M223 465h0M206 302h0M520 274h0M354 182h0M170 540h0M455 296h0M516 300h0M575 179h0M458 530h0M118 196h0M416 464h0M587 457h0M309 462h0M247 583h0M495 118h0M556 287h0M478 576h0M111 517h0M305 568h0M103 455h0M94 433h0M529 574h0M609 534h0M291 404h0M376 369h0M464 147h0M429 85h0M552 96h0M292 231h0M477 475h0M81 204h0M232 581h0M187 493h0M140 385h0M96 248h0M356 289h0M232 381h0M96 481h0M164 254h0M472 94h0M177 217h0M136 416h0M262 215h0M391 138h0M600 241h0M499 256h0M248 498h0M194 573h0M523 382h0M546 497h0M610 425h0M184 273h0M486 512h0M425 286h0M446 83h0M291 134h0M241 562h0M264 213h0M271 502h0M367 331h0M474 436h0M309 563h0M292 496h0M170 369h0M453 511h0M422 452h0M505 461h0M202 258h0M229 558h0M500 506h0M583 553h0M344 307h0M311 583h0M557 575h0M506 408h0M324 554h0M475 579h0M547 371h0M312 490h0M464 534h0M440 349h0M572 289h0M430 471h0M341 530h0M387 362h0M102 200h0M588 503h0M165 93h0M463 406h0M208 559h0M156 460h0M344 296h0M563 353h0M92 202h0M157 527h0M479 364h0M209 121h0M517 417h0M470 385h0M143 483h0M430 590h0M383 402h0M471 603h0M555 443h0M468 431h0M585 76h0M535 131h0M338 383h0M291 416h0M561 260h0M361 280h0M533 263h0M519 170h0M253 224h0M284 165h0M291 377h0M92 252h0M96 391h0M358 262h0M456 184h0M210 238h0M270 147h0M118 403h0M423 186h0M235 353h0M366 267h0M277 478h0M468 584h0M366 101h0M297 226h0M297 285h0M72 168h0M491 574h0M87 439h0M363 516h0M493 506h0M264 336h0M421 201h0M280 498h0M338 321h0M524 452h0M370 589h0M244 98h0M131 585h0M130 420h0M505 163h0M348 242h0M367 567h0M502 319h0M148 171h0M606 219h0M118 318h0M89 507h0M502 577h0M498 550h0M410 503h0M416 101h0M226 227h0M196 443h0M363 156h0M401 75h0M203 241h0M86 185h0M94 416h0M336 244h0M542 95h0M399 352h0M610 285h0M565 326h0M594 78h0M525 452h0M598 560h0M165 256h0M424 220h0M372 443h0M426 359h0M500 280h0M301 419h0M169 143h0M182 361h0M338 442h0M225 224h0M211 311h0M73 465h0M337 610h0M161 262h0M593 590h0M594 553h0M574 256h0M414 273h0M315 160h0M335 540h0M252 285h0M560 440h0M413 384h0M291 604h0M181 105h0M376 383h0M280 212h0M478 81h0M344 252h0M570 180h0M339 325h0M269 580h0M383 532h0M434 286h0M272 427h0M600 113h0M119 245h0M574 455h0M527 472h0M70 196h0M382 82h0M223 402h0M301 199h0M185 166h0M526 564h0M543 282h0M204 235h0M206 260h0M283 382h0M440 214h0M92 323h0M357 170h0M551 131h0M592 181h0M441 377h0M557 565h0M386 140h0M423 284h0M94 290h0M107 196h0M152 226h0M142 593h0M301 91h0M256 146h0M135 366h0M136 552h0M225 268h0M374 192h0M175 185h0M73 185h0M295 115h0M553 166h0M69 461h0M334 351h0M281 602h0M450 90h0M423 399h0M415 232h0M84 467h0M457 205h0M270 513h0M133 429h0M178 451h0M375 519h0M519 284h0M397 483h0M564 107h0M463 170h0M469 336h0M419 85h0M460 230h0M163 518h0M92 118h0M308 346h0M128 469h0M133 100h0M416 449h0M385 318h0M496 562h0M449 510h0M381 568h0M424 207h0M315 369h0M234 287h0M384 582h0M81 352h0M520 529h0M173 546h0M334 290h0M121 171h0M189 332h0M424 572h0M437 371h0M604 438h0M214 342h0M201 264h0M340 162h0M145 100h0M520 428h0M352 325h0M419 172h0M171 157h0M351 238h0M139 344h0M348 540h0M608 591h0M587 338h0M218 599h0M198 491h0M554 509h0M180 341h0M282 75h0M106 436h0M561 128h0M123 534h0M159 150h0M479 71h0M87 332h0M297 92h0M346 547h0M581 319h0M115 342h0M91 294h0M138 75h0M383 501h0M546 236h0M395 548h0M135 342h0M490 250h0M83 236h0M562 346h0M334 499h0M530 510h0M280 504h0M536 441h0M570 123h0M351 254h0M446 610h0M497 374h0M607 171h0M543 451h0M135 560h0M571 608h0M374 520h0M75 433h0M595 214h0M325 264h0M144 220h0M139 140h0M200 385h0M204 272h0M546 456h0M531 511h0M118 128h0M607 389h0M598 127h0M315 238h0M586 600h0M435 296h0M481 555h0M249 90h0M176 131h0M532 561h0M498 99h0M168 251h0M453 438h0M483 554h0M478 437h0M379 585h0M98 271h0M441 283h0M591 138h0M230 399h0M232 303h0M578 552h0M394 438h0M290 486h0M392 604h0M535 585h0M287 257h0M189 555h0M497 513h0M320 352h0M363 348h0M142 373h0M206 315h0M435 402h0M196 364h0M88 89h0M141 176h0M478 379h0M109 393h0M549 482h0M396 538h0M158 559h0M598 438h0M116 323h0M289 69h0M356 607h0M314 227h0M356 301h0M473 419h0M420 290h0M129 475h0M154 211h0M415 568h0M315 76h0M190 501h0M166 336h0M547 518h0M538 250h0M118 190h0M447 210h0M155 482h0M322 580h0M378 161h0M181 333h0M607 184h0M184 589h0M441 171h0M421 94h0M529 114h0M497 562h0M586 219h0M227 587h0M568 610h0M76 355h0M436 410h0M609 453h0M238 496h0M103 480h0M451 117h0M178 97h0M452 204h0M441 97h0M509 442h0M248 348h0M377 432h0M470 158h0M546 190h0M188 606h0M114 479h0M222 177h0M232 416h0M373 362h0M299 333h0M204 281h0M352 561h0M547 442h0M107 226h0M157 95h0M283 389h0M344 583h0M325 598h0M95 484h0M581 287h0M496 250h0M168 176h0M339 76h0M201 529h0M70 590h0M161 564h0M396 467h0M257 180h0M535 262h0M377 566h0M440 151h0M233 292h0M165 481h0M119 460h0M344 201h0M399 607h0M129 439h0M314 433h0M299 482h0M590 183h0M455 371h0M548 187h0M118 323h0M578 204h0M152 440h0M108 95h0M594 230h0M228 268h0M576 109h0M469 309h0M500 446h0M582 152h0M184 211h0M303 272h0M351 262h0M280 231h0M423 533h0M168 286h0M72 269h0M328 471h0M557 346h0M352 151h0M78 217h0M314 443h0M425 355h0M358 539h0M389 562h0M153 327h0M593 504h0M261 97h0M173 74h0M73 219h0M459 447h0M594 265h0M414 290h0M98 444h0M603 382h0M501 404h0M363 379h0M293 141h0M328 108h0M330 378h0M603 216h0M231 197h0M390 578h0M268 326h0M363 131h0M163 498h0M110 423h0M544 484h0M228 362h0M189 606h0M490 326h0M531 391h0M219 585h0M203 299h0M561 140h0M254 511h0M335 523h0M426 160h0M477 371h0M152 100h0M488 254h0M212 264h0M522 197h0M399 301h0M455 223h0M473 250h0M546 91h0M110 283h0M382 319h0M115 217h0M554 69h0M380 372h0M175 521h0M208 522h0M534 197h0M549 147h0M115 104h0M359 91h0M401 598h0M205 294h0M382 316h0M521 100h0M264 357h0M88 328h0M128 585h0M395 156h0M423 283h0M402 233h0M488 178h0M401 372h0M579 505h0M218 588h0M555 390h0M172 535h0M365 313h0M209 211h0M115 155h0M583 601h0M196 313h0M555 461h0M107 374h0M185 437h0M392 383h0M609 442h0M209 610h0M367 482h0M408 201h0M536 355h0M421 593h0M209 88h0M497 70h0M489 88h0M339 128h0M383 561h0M468 353h0M431 464h0M347 212h0M360 187h0M171 605h0M150 285h0M331 571h0M197 268h0M439 304h0M363 410h0M71 381h0M175 165h0M412 99h0M545 167h0M591 457h0M192 605h0M111 520h0M226 424h0M125 404h0M556 529h0M431 274h0M424 284h0M277 147h0M147 479h0M504 178h0M258 98h0M560 582h0M179 389h0M517 483h0M124 91h0M450 541h0M190 98h0M495 392h0M419 333h0M463 354h0M477 391h0M227 296h0M461 545h0M565 170h0M352 178h0M236 429h0M528 196h0M248 464h0M377 304h0M319 346h0M579 158h0M130 95h0M424 278h0M533 259h0M97 367h0M247 131h0M264 400h0M154 109h0M294 454h0M375 205h0M589 448h0M424 550h0M83 438h0M357 108h0M193 320h0M571 456h0M405 122h0M247 400h0M372 377h0M525 531h0M190 560h0M176 605h0M454 422h0M557 271h0M322 562h0M585 599h0M136 168h0M442 219h0M548 164h0M312 547h0M114 217h0M173 364h0M101 569h0M81 448h0M315 232h0M395 137h0M220 251h0M69 150h0M294 531h0M477 538h0M78 290h0M576 453h0M192 76h0M147 292h0M152 95h0M550 233h0M470 469h0M390 561h0M486 454h0M87 314h0M122 348h0M515 222h0M98 218h0M284 73h0M551 125h0M80 462h0M547 338h0M607 563h0M421 447h0M444 387h0M280 79h0M540 279h0M381 472h0M387 269h0M330 227h0M572 206h0M289 497h0M405 126h0M239 381h0M247 105h0M491 118h0M225 72h0M305 104h0M573 166h0M449 132h0M93 319h0M205 161h0M229 445h0M358 322h0M366 423h0M355 158h0M350 596h0M245 402h0M586 476h0M605 268h0M457 551h0M221 514h0M276 265h0M511 188h0M455 539h0M163 537h0M462 138h0M328 571h0M172 195h0M121 351h0M590 275h0M90 300h0M190 321h0M89 358h0M121 279h0M592 254h0M418 603h0M378 420h0M518 588h0M461 592h0M587 289h0M283 502h0M590 530h0M534 451h0M553 427h0M79 607h0M348 187h0M135 120h0M602 95h0M139 230h0M334 180h0M344 386h0M541 494h0M395 469h0M380 148h0M569 516h0M134 525h0M139 404h0M238 77h0M110 545h0M347 523h0M102 178h0M462 604h0M502 328h0M116 188h0M573 593h0M568 497h0M571 578h0M216 79h0M330 504h0M173 284h0M495 515h0M251 379h0M101 131h0M150 535h0M110 546h0M115 295h0M494 130h0M79 430h0M268 572h0M438 479h0M550 305h0M592 204h0M511 450h0M161 594h0M474 281h0M76 422h0M504 506h0M467 397h0M251 112h0M543 299h0M387 564h0M372 109h0M558 143h0M567 328h0M352 191h0M509 195h0M99 244h0M149 209h0M318 386h0M472 151h0M192 471h0M172 258h0M183 190h0M166 208h0M386 423h0M460 577h0M157 298h0M522 305h0M489 271h0M409 116h0M208 220h0M158 301h0M230 469h0M124 475h0M348 239h0M260 131h0M204 435h0M406 76h0M284 98h0M562 409h0M327 78h0M563 479h0M596 595h0M190 356h0M158 69h0M341 472h0M259 291h0M320 326h0M404 354h0M317 305h0M142 136h0M535 137h0M267 290h0M449 338h0M526 552h0M417 348h0M574 309h0M257 78h0M557 168h0M543 308h0M379 86h0M587 343h0M312 128h0M293 312h0M596 282h0M308 594h0M130 423h0M583 582h0M267 149h0M375 114h0M416 456h0M440 380h0M411 453h0M448 360h0M339 485h0M190 410h0M523 377h0M158 578h0M596 249h0M586 375h0M179 272h0M282 509h0M260 476h0M96 576h0M83 151h0M307 580h0M310 285h0M289 450h0M437 483h0M208 212h0M140 205h0M542 441h0M283 435h0M176 435h0M221 318h0M213 439h0M322 92h0M195 359h0M350 160h0M131 277h0M81 448h0M541 169h0M278 442h0M225 562h0M427 496h0M223 328h0M195 234h0M121 452h0M597 164h0M431 558h0M291 109h0M270 413h0M506 217h0M494 327h0M302 410h0M481 289h0M326 73h0M208 310h0M190 325h0M203 226h0M321 567h0M327 551h0M497 526h0M286 433h0M291 221h0M294 117h0M126 293h0M342 439h0M430 498h0M118 179h0M354 146h0M262 253h0M213 531h0M531 469h0M377 404h0M344 156h0M501 106h0M510 479h0M453 567h0M235 327h0M433 596h0M421 229h0M312 506h0M92 300h0M578 298h0M348 241h0M171 587h0M125 88h0M427 464h0M495 261h0M477 73h0M529 506h0M336 450h0M239 126h0M472 568h0M274 122h0M236 271h0M153 176h0M608 265h0M416 423h0M280 542h0M400 363h0M122 455h0M222 192h0M266 227h0M226 200h0M504 284h0M539 524h0M117 490h0M339 127h0M141 607h0M525 327h0M571 125h0M431 330h0M446 313h0M371 467h0M548 430h0M199 610h0M431 113h0M552 176h0M125 397h0M529 110h0M347 409h0M589 381h0M165 493h0M238 277h0M360 244h0M71 127h0M543 552h0M475 171h0M310 473h0M87 483h0M478 282h0M181 598h0M556 336h0M117 129h0M308 254h0M335 99h0M425 74h0M177 160h0M445 522h0M209 122h0M308 187h0M606 395h0M577 498h0M370 161h0M409 112h0M550 235h0M586 126h0M489 364h0M213 367h0M392 359h0M166 230h0M593 498h0M531 219h0M492 566h0M322 409h0M85 496h0M592 401h0M285 401h0M598 324h0M248 371h0M307 104h0M366 426h0M268 447h0M335 171h0M190 364h0M428 84h0M177 594h0M510 169h0M232 399h0M224 223h0M124 477h0M454 153h0M510 121h0M317 381h0M162 164h0M243 325h0M213 361h0M179 132h0M70 139h0M477 116h0"/><path stroke="#444444" stroke-width="1.0" stroke-linecap="square" fill="none" d="M242 402h0M144 80h0M541 163h0M314 253h0M578 374h0M134 511h0M225 435h0M366 293h0M279 341h0M345 196h0M550 93h0M349 201h0M82 324h0M493 302h0M231 208h0M300 539h0M132 259h0M567 403h0M395 599h0M83 308h0M144 517h0M135 165h0M87 399h0M529 390h0M444 389h0M100 288h0M382 308h0M273 460h0M490 454h0M564 239h0M531 568h0M152 470h0M334 609h0M245 446h0M521 357h0M451 382h0M253 503h0M177 580h0M572 207h0M588 202h0M535 318h0M415 351h0M334 345h0M242 342h0M476 287h0M341 161h0M372 384h0M264 478h0M410 318h0M268 303h0M171 86h0M219 433h0M412 260h0M339 130h0M547 476h0M462 477h0M278 296h0M81 501h0M606 538h0M302 280h0M83 421h0M589 472h0M497 416h0M211 593h0M473 282h0M366 86h0M441 364h0M562 579h0M466 72h0M113 241h0M479 527h0M320 306h0M392 545h0M78 608h0M387 471h0M399 234h0M468 285h0M180 588h0M287 453h0M268 547h0M546 130h0M243 416h0M458 175h0M433 280h0M179 583h0M570 383h0M590 478h0M390 587h0M161 296h0M294 92h0M83 194h0M131 267h0M424 379h0M74 140h0M345 533h0M608 180h0M528 553h0M570 394h0M380 536h0M313 280h0M415 156h0M208 601h0M318 351h0M533 498h0M472 178h0M345 243h0M522 243h0M427 605h0M340 399h0M93 215h0M252 275h0M387 133h0M459 119h0M159 271h0M99 70h0M157 318h0M87 385h0M437 415h0M405 313h0M322 213h0M372 336h0M195 242h0M276 355h0M303 314h0M330 100h0M491 446h0M467 485h0M307 445h0M523 540h0M191 69h0M601 391h0M219 198h0M185 595h0M90 170h0M220 244h0M274 423h0M313 223h0M179 505h0M519 525h0M477 219h0M378 217h0M402 337h0M471 228h0M167 110h0M477 233h0M190 295h0M156 380h0M175 218h0M610 461h0M458 479h0M147 521h0M433 256h0M103 441h0M147 556h0M202 340h0M130 351h0M163 192h0M489 413h0M157 106h0M320 568h0M318 515h0M341 368h0M286 360h0M470 183h0M76 410h0M497 453h0M198 187h0M348 341h0M227 520h0M293 538h0M529 475h0M342 229h0M567 603h0M547 370h0M405 555h0M234 106h0M534 149h0M598 413h0M579 341h0M107 305h0M211 387h0M140 276h0M285 100h0M340 161h0M133 575h0M314 509h0M443 128h0M289 272h0M579 323h0M585 476h0M491 137h0M453 343h0M151 416h0M473 194h0M557 141h0M144 172h0M155 266h0M308 582h0M317 588h0M333 569h0M565 406h0M350 224h0M350 507h0M218 289h0M120 239h0M537 215h0M198 367h0M279 285h0M561 371h0M434 205h0M144 473h0M285 603h0M158 178h0M99 443h0M398 99h0M350 170h0M592 245h0M372 219h0M153 515h0M352 351h0M377 298h0M523 130h0M373 198h0M512 417h0M335 179h0M214 585h0M442 297h0M446 441h0M275 600h0M118 385h0M190 543h0M183 116h0M93 195h0M545 296h0M516 233h0M588 448h0M215 592h0M361 353h0M147 413h0M224 582h0M538 282h0M316 509h0M333 353h0M138 78h0M114 555h0M101 323h0M497 591h0M295 273h0M207 339h0M75 301h0M272 317h0M482 117h0M353 451h0M556 608h0M504 596h0M370 292h0M405 549h0M252 338h0M431 103h0M569 335h0M202 397h0M532 260h0M236 111h0M518 498h0M388 110h0M583 128h0M211 160h0M576 300h0M466 371h0M98 464h0M263 235h0M490 441h0M236 185h0M563 363h0M545 165h0M240 601h0M226 182h0M163 127h0M559 553h0M555 462h0M561 397h0M460 338h0M238 472h0M556 320h0M314 132h0M446 190h0M452 453h0M205 425h0M487 244h0M159 78h0M343 430h0M601 252h0M224 495h0M579 81h0M597 104h0M210 209h0M280 599h0M73 356h0M477 378h0M128 359h0M385 420h0M163 459h0M110 142h0M551 308h0M594 448h0M592 550h0M468 110h0M359 600h0M536 223h0M452 350h0M434 544h0M312 555h0M178 366h0M385 347h0M228 375h0M305 262h0M344 181h0M124 312h0M541 185h0M89 534h0M494 148h0M517 291h0M196 143h0M544 90h0M538 145h0M342 360h0M506 591h0M606 123h0M97 426h0M370 448h0M384 74h0M379 593h0M321 228h0M500 435h0M520 520h0M247 606h0M253 227h0M207 368h0M433 588h0M168 471h0M186 273h0M437 136h0M521 164h0M441 77h0M460 554h0M567 580h0M366 411h0M469 605h0M352 531h0M71 307h0M211 74h0M87 544h0M163 82h0M208 150h0M595 190h0M370 547h0M232 456h0M124 242h0M245 328h0M119 473h0M120 502h0M311 147h0M549 216h0M506 147h0M296 496h0M338 361h0M342 463h0M555 594h0M516 315h0M211 141h0M331 420h0M575 275h0M433 210h0M379 226h0M166 443h0M257 408h0M373 456h0M540 424h0M306 390h0M174 272h0M414 493h0M129 72h0M190 430h0M229 175h0M236 561h0M260 542h0M129 294h0M249 310h0M336 471h0M215 576h0M602 77h0M177 574h0M157 478h0M320 567h0M416 185h0M360 529h0M352 227h0M173 218h0M597 112h0M609 480h0M88 298h0M270 76h0M394 118h0M163 523h0M78 579h0M279 504h0M213 402h0M89 395h0M197 457h0M146 360h0M475 607h0M587 343h0M521 263h0M515 164h0M405 180h0M281 310h0M184 72h0M186 610h0M161 396h0M299 429h0M239 243h0M598 420h0M500 546h0M112 361h0M408 167h0M358 149h0M133 460h0M86 435h0M233 425h0M328 388h0M124 371h0M307 94h0M348 205h0M221 429h0M258 353h0M343 576h0M253 397h0M210 209h0M283 385h0M192 457h0M441 609h0M164 195h0M165 433h0M138 327h0M75 133h0M219 134h0M81 365h0M603 187h0M543 407h0M175 146h0M81 123h0M249 172h0M418 529h0M136 514h0M196 168h0M567 216h0M442 536h0M490 449h0M526 329h0M386 213h0M403 413h0M590 260h0M301 559h0M345 492h0M188 274h0M155 83h0M453 594h0M195 467h0M528 134h0M409 553h0M522 484h0M397 300h0M340 511h0M602 552h0M426 518h0M217 546h0M507 547h0M530 358h0M447 296h0M303 102h0M78 506h0M117 501h0M489 380h0M579 159h0M260 511h0M412 549h0M98 277h0M260 444h0M458 546h0M338 527h0M234 568h0M430 520h0M463 605h0M142 145h0M581 541h0M193 388h0M578 544h0M481 520h0M459 493h0M607 169h0M535 85h0M545 401h0M171 253h0M180 518h0M125 134h0M320 212h0M185 451h0M143 149h0M610 220h0M77 233h0M565 69h0M208 191h0M388 465h0M71 267h0M572 271h0M94 92h0M496 100h0M549 422h0M238 176h0M174 511h0M92 85h0M235 341h0M252 116h0M558 330h0M183 367h0M158 288h0M367 427h0M215 555h0M601 157h0M570 588h0M229 183h0M251 344h0M587 555h0M391 108h0M263 604h0M574 304h0M223 249h0M126 187h0M591 290h0M520 492h0M361 547h0M324 577h0M370 329h0M442 367h0M304 418h0M169 517h0M389 328h0M313 318h0M400 216h0M101 457h0M240 599h0M290 586h0M467 138h0M171 382h0M430 607h0M319 150h0M393 265h0M185 173h0M534 196h0M237 446h0M482 564h0M356 453h0M360 345h0M251 241h0M578 523h0M581 194h0M508 385h0M486 253h0M167 381h0M304 88h0M547 387h0M380 278h0M507 490h0M549 453h0M78 437h0M482 334h0M86 471h0M130 280h0M298 99h0M456 254h0M574 564h0M455 333h0M90 353h0M285 557h0M384 69h0M122 360h0M249 175h0M403 208h0M553 422h0M371 555h0M452 427h0M560 402h0M232 243h0M588 316h0M285 300h0M113 486h0M463 130h0M95 451h0M574 435h0M368 159h0M176 512h0M245 477h0M596 243h0M240 608h0M399 213h0M145 343h0M110 256h0M152 101h0M85 340h0M458 499h0M174 404h0M123 74h0M588 511h0M514 341h0M579 314h0M186 345h0M87 232h0M507 314h0M485 584h0M524 79h0M94 448h0M299 325h0M413 101h0M448 205h0M265 246h0M500 575h0M405 223h0M397 523h0M538 287h0M582 495h0M557 97h0M246 598h0M514 121h0M305 471h0M322 601h0M395 193h0M540 276h0M590 241h0M173 432h0M523 483h0M519 499h0M501 358h0M398 123h0M254 161h0M360 354h0M118 153h0M354 317h0M234 253h0M417 454h0M527 520h0M128 123h0M544 399h0M530 423h0M183 74h0M474 427h0M178 463h0M184 221h0M438 407h0M330 400h0M588 453h0M525 341h0M393 408h0M309 606h0M387 245h0M324 388h0M383 565h0M559 498h0M420 96h0M160 182h0M415 291h0M388 603h0M282 313h0M602 566h0M602 97h0M118 225h0M608 503h0M161 608h0M278 282h0M297 228h0M435 520h0M93 332h0M318 391h0M462 499h0M116 562h0M183 355h0M585 248h0M467 275h0M96 185h0M251 369h0M114 222h0M568 158h0M319 112h0M394 242h0M199 558h0M526 209h0M108 305h0M246 177h0M598 426h0M152 513h0M240 445h0M490 286h0M79 505h0M358 201h0M575 366h0M442 363h0M409 165h0M331 514h0M444 455h0M583 528h0M381 541h0M532 305h0M85 291h0M101 508h0M127 213h0M249 480h0M463 521h0M429 502h0M224 434h0M494 327h0M199 294h0M587 83h0M226 557h0M390 180h0M572 330h0M471 133h0M241 304h0M311 572h0M178 436h0M69 429h0M567 500h0M235 472h0M248 127h0M370 343h0M172 93h0M159 532h0M325 152h0M287 448h0M369 96h0M240 266h0M290 359h0M364 510h0M410 128h0M254 291h0M601 480h0M531 334h0M167 532h0M338 143h0M385 413h0M116 518h0M439 402h0M570 188h0M132 372h0M277 245h0M480 417h0M258 308h0M482 413h0M268 501h0M262 564h0M337 473h0M358 574h0M167 432h0M591 195h0M531 327h0M310 512h0M546 289h0M166 332h0M202 119h0M516 517h0M509 349h0M406 83h0M345 148h0M535 78h0M355 136h0M289 382h0M381 101h0M337 321h0M255 417h0M500 315h0M183 336h0M128 525h0M497 84h0M253 383h0M502 258h0M165 372h0M324 389h0M461 190h0M556 128h0M588 490h0M298 286h0M363 424h0M541 259h0M436 327h0M515 244h0M335 453h0M373 215h0M365 154h0M336 595h0M402 120h0M179 476h0M105 461h0M558 170h0M530 358h0M118 291h0M338 148h0M244 290h0M256 249h0M581 505h0M319 111h0M419 225h0M360 348h0M89 508h0M353 287h0M80 485h0M483 95h0M579 409h0M540 379h0M556 409h0M114 142h0M98 239h0M334 356h0M83 559h0M493 519h0M447 313h0M295 332h0M210 172h0M346 288h0M261 280h0M110 98h0M228 388h0M284 111h0M597 555h0M348 402h0M300 401h0M537 264h0M435 211h0M113 535h0M431 166h0M224 161h0M415 184h0M277 466h0M607 374h0M555 470h0M587 256h0M466 147h0M417 489h0M108 150h0M534 143h0M505 469h0M197 506h0M595 430h0M458 442h0M488 594h0M581 329h0M362 399h0M531 375h0M549 301h0M459 361h0M598 412h0M88 410h0M537 483h0M227 125h0M297 563h0M75 513h0M199 577h0M316 78h0M84 501h0M443 553h0M366 437h0M302 202h0M148 94h0M317 508h0M130 400h0M255 85h0M511 471h0M529 286h0M263 202h0M134 315h0M97 74h0M293 197h0M129 501h0M447 87h0M364 219h0M367 185h0M191 498h0M227 539h0M452 442h0M184 602h0M590 387h0M221 555h0M508 299h0M503 328h0M490 409h0M188 475h0M488 560h0M445 387h0M423 75h0M144 433h0M380 445h0M253 139h0M525 579h0M213 451h0M336 204h0M528 569h0M400 594h0M269 460h0M360 307h0M579 543h0M157 492h0M421 534h0M465 501h0M98 610h0M134 289h0M291 159h0M607 317h0M569 499h0M530 138h0M162 518h0M277 449h0M184 138h0M554 283h0M579 336h0M349 319h0M114 298h0M265 486h0M261 243h0M398 442h0M177 531h0M564 289h0M473 272h0M321 127h0M119 485h0M417 328h0M466 273h0M70 218h0M297 484h0M295 153h0M577 289h0M488 595h0M609 285h0M96 566h0M128 398h0M285 606h0M266 257h0M94 260h0M265 169h0M213 77h0M237 265h0M463 546h0M130 448h0M164 284h0M542 438h0M158 292h0M542 388h0M590 564h0M289 195h0M253 531h0M133 126h0M406 99h0M156 289h0M340 591h0M303 177h0M200 79h0M361 266h0M441 461h0M415 275h0M297 394h0M484 311h0M335 471h0M472 422h0M535 304h0M328 552h0M131 233h0M394 175h0M309 231h0M539 365h0M369 355h0M341 432h0M365 118h0M582 443h0M349 269h0M368 435h0M466 178h0M594 228h0M446 412h0M78 170h0M333 226h0M416 207h0M200 592h0M594 214h0M322 220h0M309 148h0M273 470h0M309 554h0M520 501h0M215 114h0M601 497h0M357 145h0M565 574h0M575 401h0M494 335h0M574 373h0M566 342h0M158 399h0M359 562h0M395 428h0M573 559h0M586 395h0M287 556h0M345 96h0M78 550h0M106 491h0M220 557h0M118 541h0M221 172h0M546 322h0M530 590h0M588 83h0M277 381h0M210 456h0M233 145h0M548 523h0M371 372h0M286 81h0M414 76h0M94 230h0M144 186h0M185 606h0M250 266h0M422 532h0M379 257h0M216 422h0M295 86h0M194 100h0M110 548h0M341 473h0M237 338h0M441 362h0M459 587h0M388 79h0M400 196h0M187 376h0M488 264h0M292 254h0M90 121h0M248 466h0M309 265h0M427 194h0M414 198h0M533 285h0M288 133h0M317 98h0M590 580h0M531 133h0M301 199h0M432 255h0M602 355h0M81 520h0M379 88h0M285 452h0M348 444h0M548 232h0M358 138h0M157 196h0M353 214h0M512 445h0M601 355h0M481 520h0M331 202h0M531 215h0M269 389h0M372 441h0M434 449h0M295 165h0M381 176h0M127 266h0M199 114h0M97 599h0M444 191h0M387 210h0M324 325h0M316 323h0M470 80h0M370 370h0M440 610h0M354 600h0M457 342h0M346 144h0M366 129h0M190 164h0M272 495h0M543 607h0M535 81h0M399 327h0M297 302h0M239 79h0M92 595h0M160 178h0M96 201h0M398 113h0M456 130h0M286 204h0M340 426h0M323 179h0M323 433h0M382 245h0M137 283h0M394 192h0M165 423h0M146 230h0M373 435h0M266 215h0M506 242h0M492 514h0M334 136h0M405 274h0M348 556h0M584 159h0M476 231h0M610 369h0M412 404h0M361 87h0M587 553h0M377 386h0M396 151h0M424 313h0M433 465h0M418 444h0M149 370h0M420 243h0M160 577h0M76 390h0M526 411h0M173 249h0M235 421h0M91 537h0M257 299h0M425 469h0M510 194h0M158 131h0M173 338h0M434 557h0M423 285h0M573 312h0M604 196h0M343 501h0M175 414h0M120 557h0M577 358h0M207 138h0M157 356h0M577 137h0M304 176h0M331 84h0M444 225h0M113 455h0M100 524h0M529 418h0M536 235h0M410 267h0M348 166h0M560 215h0M121 478h0M284 172h0M460 250h0M90 448h0M511 318h0M328 266h0M371 502h0M141 486h0M574 241h0M420 446h0M254 224h0M302 137h0M554 555h0M513 118h0M400 445h0M502 229h0M537 473h0M328 480h0M205 425h0M459 358h0M600 278h0M595 390h0M492 599h0M553 249h0M139 173h0M86 95h0M356 75h0M298 278h0M567 196h0M249 448h0M181 434h0M373 559h0M214 479h0M95 92h0M566 105h0M572 540h0M439 489h0M350 86h0M422 323h0M70 385h0M153 252h0M448 222h0M585 143h0M154 155h0M248 280h0M298 199h0M296 89h0M473 379h0M534 528h0M289 524h0M394 86h0M219 225h0M343 484h0M539 319h0M112 382h0M485 158h0M200 543h0M476 525h0M498 529h0M506 158h0M583 155h0M384 113h0M516 276h0M75 478h0M290 269h0M467 253h0M207 431h0M250 565h0M317 323h0M155 379h0M494 533h0M187 394h0M220 349h0M361 86h0M183 482h0M320 186h0M74 145h0M571 244h0M587 240h0M199 110h0M467 197h0M502 317h0M272 411h0M233 544h0M226 385h0M543 285h0M369 575h0M377 274h0M394 541h0M318 335h0M474 151h0M419 551h0M154 348h0M453 199h0M497 331h0M537 292h0M604 563h0M571 567h0M315 214h0M352 300h0M282 193h0M589 491h0M529 191h0M265 198h0M511 501h0M542 511h0M117 444h0M422 81h0M484 88h0M335 153h0M104 140h0M353 515h0M124 103h0M207 163h0M168 557h0M548 317h0M200 467h0M331 142h0M274 332h0M383 398h0M195 388h0M406 420h0M187 394h0M134 439h0M269 389h0M246 465h0M376 124h0M154 89h0M340 78h0M85 326h0M494 529h0M451 240h0M299 564h0M317 158h0M74 586h0M296 230h0M125 287h0M496 202h0M194 337h0M158 285h0M116 156h0M380 467h0M377 493h0M456 183h0M227 583h0M275 305h0M152 142h0M599 86h0M601 234h0M383 276h0M538 252h0M411 329h0M343 301h0M358 157h0M496 440h0M81 602h0M230 394h0M540 176h0M466 423h0M594 578h0M225 210h0M502 182h0M420 282h0M497 449h0M466 138h0M382 331h0M432 372h0M592 140h0M602 386h0M223 276h0M569 558h0M272 170h0M203 109h0M95 273h0M219 271h0M104 233h0M308 429h0M325 485h0M473 89h0M95 588h0M539 251h0M442 489h0M526 239h0M334 378h0M402 345h0M597 232h0M315 403h0M442 267h0M460 138h0M241 551h0M575 585h0M560 550h0M83 281h0M482 279h0M301 72h0M156 77h0M391 351h0M420 283h0M413 440h0M322 96h0M505 480h0M124 527h0M401 123h0M596 194h0M154 336h0M90 427h0M314 77h0M523 252h0M538 449h0M482 100h0M193 333h0M83 188h0M154 462h0M590 604h0M519 116h0M195 371h0M297 577h0M188 363h0M240 89h0M75 437h0M118 256h0M194 250h0M306 473h0M525 541h0M284 304h0M449 381h0M170 323h0M317 203h0M341 581h0M550 186h0M496 109h0M237 235h0M92 437h0M555 121h0M110 393h0M406 289h0M349 209h0M583 339h0M504 608h0M265 565h0M350 266h0M99 83h0M155 581h0M331 379h0M307 359h0M423 139h0M468 216h0M180 452h0M358 409h0M304 141h0M599 563h0M163 531h0M345 234h0M147 522h0M250 554h0M531 491h0M567 267h0M490 381h0M430 291h0M268 462h0M381 216h0M346 551h0M341 583h0M598 495h0M141 82h0M473 532h0M393 589h0M289 303h0M180 273h0M162 85h0M254 487h0M132 432h0M504 386h0M141 223h0M519 391h0M534 262h0M398 119h0M348 252h0M264 470h0M345 470h0M368 317h0M581 585h0M548 177h0M173 184h0M103 293h0M233 248h0M525 109h0M322 528h0M206 177h0M213 584h0M381 401h0M431 95h0M114 190h0M545 310h0M282 126h0M463 305h0M426 281h0M609 608h0M199 332h0M436 105h0M220 598h0M419 486h0M85 325h0M132 520h0M136 246h0M176 144h0M520 101h0M579 375h0M555 297h0M106 141h0M158 226h0M480 202h0M419 528h0M441 86h0M250 84h0M599 177h0M339 502h0M75 371h0M250 90h0M171 173h0M324 380h0M345 285h0M380 357h0M517 98h0M99 400h0M483 532h0M84 436h0M343 194h0M396 403h0M407 391h0M314 546h0M226 569h0M526 465h0M70 409h0M370 492h0M125 129h0M439 398h0M341 326h0M358 282h0M602 276h0M83 179h0M116 358h0M168 591h0M331 394h0M301 457h0M355 201h0M234 364h0M541 187h0M243 85h0M176 335h0M463 489h0M548 377h0M413 220h0M74 539h0M354 279h0M359 428h0M573 558h0M236 247h0M186 568h0M275 219h0M249 530h0M368 128h0M234 532h0M608 481h0M355 557h0M218 418h0M355 594h0M465 460h0M400 348h0M234 307h0M462 79h0M462 120h0M147 598h0M325 402h0M542 287h0M472 395h0M584 541h0M193 140h0M608 128h0M410 222h0M259 163h0M423 292h0M137 280h0M345 197h0M367 179h0M99 268h0M527 459h0M123 146h0M453 539h0M211 95h0M546 98h0M283 299h0M477 126h0M487 586h0M267 135h0M138 77h0M484 480h0M443 71h0M376 422h0M413 166h0M465 486h0M238 516h0M520 516h0M534 306h0M565 138h0M339 111h0M249 416h0M404 517h0M299 89h0M447 610h0M350 191h0M214 314h0M184 404h0M494 564h0M355 578h0M293 297h0M190 276h0M217 350h0M345 475h0M133 81h0M479 137h0M499 572h0M88 361h0M378 528h0M437 376h0M98 494h0M310 426h0M337 517h0M89 127h0M305 405h0M230 163h0M420 185h0M70 160h0M590 524h0M388 599h0M294 271h0M375 115h0M593 345h0M329 520h0M146 316h0M140 199h0M530 143h0M93 309h0M388 332h0M533 259h0M170 230h0M396 200h0M176 274h0M126 380h0M108 102h0M148 576h0M235 311h0M274 475h0M189 108h0M247 542h0M155 170h0M227 572h0M432 469h0M242 194h0M321 562h0M159 209h0M90 240h0M77 177h0M416 177h0M291 139h0M381 535h0M502 568h0M274 483h0M206 161h0M360 556h0M588 320h0M503 173h0M224 206h0M271 192h0M290 418h0M329 475h0M496 522h0M367 575h0M426 463h0M103 117h0M303 120h0M354 122h0M367 441h0M562 191h0M95 200h0M480 388h0M233 151h0M572 289h0M344 228h0M593 384h0M165 112h0M573 250h0M80 494h0M74 304h0M579 144h0M553 194h0M181 573h0M279 134h0M555 137h0M255 153h0M510 332h0M150 176h0M499 116h0M449 531h0M137 233h0M493 166h0M539 555h0M488 441h0M203 212h0M264 205h0M121 602h0M494 138h0M346 585h0M342 582h0M144 363h0M378 492h0M519 120h0M249 547h0M165 325h0M353 417h0M420 489h0M477 199h0M518 204h0M174 462h0M545 380h0M486 389h0M572 555h0M604 141h0M554 524h0M302 402h0M534 290h0M181 507h0M95 120h0M382 390h0M418 525h0M550 478h0M302 556h0M346 217h0M123 442h0M174 544h0M387 123h0M373 173h0M115 559h0M119 121h0M495 143h0M177 588h0M341 242h0M572 94h0M356 471h0M565 389h0M606 164h0M326 392h0M82 151h0M104 390h0M137 274h0M419 282h0M297 199h0M123 375h0M120 582h0M428 407h0M393 477h0M86 304h0M170 279h0M423 368h0M606 581h0M596 432h0M587 187h0M376 351h0M289 497h0M439 148h0M354 257h0M280 532h0M112 496h0M510 195h0M288 113h0M214 344h0M434 577h0M199 220h0M589 450h0M295 226h0M168 546h0M542 210h0M500 329h0M173 147h0M574 307h0M216 457h0M368 143h0M92 288h0M206 310h0M515 372h0M280 504h0M187 354h0M221 505h0M504 256h0M546 176h0M485 353h0M480 309h0M384 78h0M608 380h0M511 445h0M200 235h0M311 127h0M457 553h0M450 518h0M154 282h0M290 322h0M211 431h0M277 360h0M371 556h0M133 173h0M441 481h0M307 154h0M113 342h0M150 292h0M460 347h0M313 332h0M124 273h0M303 484h0M283 199h0M108 154h0M388 277h0M405 149h0M311 300h0M87 164h0M91 457h0M110 237h0M273 316h0M540 129h0M546 245h0M380 516h0M169 345h0M143 228h0M361 483h0M340 365h0M340 102h0M417 72h0M202 598h0M117 75h0M608 342h0"/><path stroke="#2a2a2a" stroke-width="1.4" stroke-linecap="square" fill="none" d="M451 547h0M396 505h0M422 325h0M244 237h0M326 105h0M460 79h0M359 282h0M564 309h0M385 528h0M210 544h0M100 473h0M569 509h0M474 440h0M179 85h0M113 337h0M293 138h0M493 233h0M357 200h0M331 377h0M569 127h0M550 493h0M532 209h0M148 541h0M444 152h0M349 528h0M380 74h0M77 472h0M577 159h0M275 213h0M265 390h0M485 126h0M428 290h0M471 80h0M355 193h0M332 74h0M486 576h0M92 383h0M576 388h0M458 419h0M602 160h0M208 610h0M191 554h0M414 73h0M130 373h0M488 541h0M212 374h0M415 418h0M473 133h0M335 257h0M574 178h0M593 565h0M491 172h0M89 76h0M342 440h0M117 246h0M138 104h0M119 351h0M301 479h0M546 74h0M292 72h0M200 147h0M73 411h0M549 539h0M326 469h0M549 320h0M599 407h0M363 468h0M241 231h0M275 135h0M539 204h0M351 189h0M569 440h0M482 380h0M440 376h0M212 591h0M289 219h0M179 521h0M244 576h0M136 207h0M322 417h0M375 325h0M169 100h0M155 551h0M519 271h0M245 168h0M267 452h0M246 480h0M459 536h0M529 516h0M583 470h0M112 160h0M312 597h0M530 165h0M167 605h0M325 610h0M157 412h0M355 372h0M225 193h0M438 76h0M188 593h0M376 240h0M578 363h0M309 269h0M199 392h0M181 590h0M71 562h0M93 342h0M556 507h0M84 140h0M132 381h0M146 222h0M174 584h0M214 71h0M415 234h0M591 484h0M299 588h0M218 420h0M107 378h0M185 603h0M422 357h0M331 411h0M366 175h0M309 140h0M593 597h0M136 210h0M463 522h0M317 140h0M123 203h0M247 138h0M525 467h0M323 250h0M383 511h0M153 587h0M198 121h0M484 459h0M97 488h0M591 91h0M590 505h0M121 105h0M216 131h0M192 88h0M288 203h0M188 90h0M334 425h0M97 185h0M149 542h0M312 164h0M352 160h0M593 531h0M601 435h0M296 351h0M158 301h0M118 274h0M472 220h0M419 513h0M332 463h0M391 250h0M298 511h0M285 590h0M476 333h0M234 89h0M302 496h0M403 288h0M444 211h0M274 114h0M447 337h0M362 446h0M191 375h0M430 112h0M201 313h0M423 261h0M375 251h0M200 336h0M518 402h0M74 398h0M313 329h0M70 546h0M371 134h0M469 336h0M543 73h0M345 397h0M416 470h0M481 153h0M368 574h0M253 530h0M472 346h0M100 331h0M543 381h0M604 342h0M166 243h0M473 273h0M81 285h0M299 339h0M461 380h0M259 410h0M482 576h0M245 150h0M471 151h0M562 543h0M156 527h0"/></g><circle cx="466.5" cy="537.0" r="18.0" fill="url(#halo2)"/><circle cx="466.5" cy="537.0" r="6.5" fill="url(#halo)"/><circle cx="95.0" cy="420.0" r="10.0" fill="url(#halo2)"/><circle cx="95.0" cy="420.0" r="4.5" fill="url(#halo)"/><circle cx="458.5" cy="473.0" r="7.0" fill="url(#halo2)"/><circle cx="458.5" cy="473.0" r="3.5" fill="url(#halo)"/><circle cx="440.5" cy="431.5" r="5.0" fill="url(#halo2)"/><circle cx="440.5" cy="431.5" r="2.5" fill="url(#halo)"/><circle cx="411.5" cy="168.8" r="3.0" fill="url(#halo2)"/><circle cx="411.5" cy="168.8" r="1.5" fill="url(#halo)"/><circle cx="220.5" cy="215.5" r="3.0" fill="url(#halo2)"/><circle cx="220.5" cy="215.5" r="1.5" fill="url(#halo)"/><circle cx="339.5" cy="339.5" r="7.0" fill="url(#halo2)"/><circle cx="339.5" cy="339.5" r="4.0" fill="url(#halo)"/><circle cx="85.0" cy="76.0" r="5.0" fill="url(#halo2)"/><circle cx="85.0" cy="76.0" r="2.5" fill="url(#halo)"/><circle cx="137.0" cy="602.0" r="4.0" fill="url(#halo2)"/><circle cx="137.0" cy="602.0" r="2.0" fill="url(#halo)"/><circle cx="515.0" cy="605.0" r="4.0" fill="url(#halo2)"/><circle cx="515.0" cy="605.0" r="2.0" fill="url(#halo)"/><circle cx="321.0" cy="581.0" r="7.0" fill="url(#halo2)"/><circle cx="321.0" cy="581.0" r="3.0" fill="url(#halo)"/><circle cx="341.0" cy="463.5" r="3.0" fill="url(#halo2)"/><circle cx="341.0" cy="463.5" r="2.0" fill="url(#halo)"/><circle cx="336.0" cy="523.5" r="3.0" fill="url(#halo2)"/><circle cx="336.0" cy="523.5" r="2.0" fill="url(#halo)"/><circle cx="476.0" cy="510.0" r="5.0" fill="url(#halo2)"/><circle cx="476.0" cy="510.0" r="2.5" fill="url(#halo)"/><circle cx="478.0" cy="188.0" r="4.0" fill="url(#halo2)"/><circle cx="478.0" cy="188.0" r="2.0" fill="url(#halo)"/><circle cx="550.0" cy="173.0" r="4.0" fill="url(#halo2)"/><circle cx="550.0" cy="173.0" r="2.0" fill="url(#halo)"/><circle cx="156.0" cy="451.0" r="4.0" fill="url(#halo2)"/><circle cx="156.0" cy="451.0" r="2.0" fill="url(#halo)"/><circle cx="176.0" cy="387.0" r="4.0" fill="url(#halo2)"/><circle cx="176.0" cy="387.0" r="1.8" fill="url(#halo)"/><circle cx="188.0" cy="517.0" r="4.0" fill="url(#halo2)"/><circle cx="188.0" cy="517.0" r="1.8" fill="url(#halo)"/><path d="M453 537H480M466.5 524V550" stroke="#606060" stroke-width="1" opacity="0.6"/><g clip-path="url(#clip)" fill="none"><path d="M75.2 345.5L349.4 81.2L613.8 355.6L340.1 619.7Z" stroke="#0000ff" stroke-width="1"/><path d="M284.5 281.5L420.5 283.5L418.5 419.5L282.5 417.5Z" stroke="#0000ff" stroke-width="1" shape-rendering="crispEdges"/><circle cx="411.9" cy="168.8" r="10.3" stroke="#8c00ff" stroke-width="1"/><circle cx="220.5" cy="215.9" r="10.3" stroke="#8c00ff" stroke-width="1"/><circle cx="225.4" cy="242.0" r="10.3" stroke="#8c00ff" stroke-width="1"/><circle cx="340.9" cy="338.8" r="10.3" stroke="#8c00ff" stroke-width="1"/><circle cx="441.0" cy="431.1" r="10.3" stroke="#8c00ff" stroke-width="1"/><circle cx="341.0" cy="464.0" r="10.3" stroke="#8c00ff" stroke-width="1"/><circle cx="458.8" cy="473.0" r="10.3" stroke="#8c00ff" stroke-width="1"/><circle cx="336.0" cy="524.0" r="10.3" stroke="#8c00ff" stroke-width="1"/><circle cx="411.5" cy="168.8" r="5.1" stroke="#ff8200" stroke-width="1"/><circle cx="220.5" cy="215.9" r="5.1" stroke="#ff8200" stroke-width="1"/><circle cx="340.7" cy="339.4" r="5.1" stroke="#ff8200" stroke-width="1"/><circle cx="440.6" cy="431.5" r="5.1" stroke="#ff8200" stroke-width="1"/><circle cx="458.3" cy="473.3" r="5.1" stroke="#ff8200" stroke-width="1"/><rect x="318.0" y="232.0" width="6.5" height="6.5" stroke="#ff0000" stroke-width="1.2"/><rect x="231.0" y="316.5" width="6.5" height="6.5" stroke="#ff0000" stroke-width="1.2"/><rect x="462.5" y="334.5" width="6.5" height="6.5" stroke="#ff0000" stroke-width="1.2"/><path d="M332.6 332L347.6 346.8M347 332.4L333.2 347" stroke="#ff0000" stroke-width="2" stroke-dasharray="1.2 0.6"/><path d="M351.5 345.3L354.7 350.3L351.5 355.6L348.2 350.3Z" stroke="#0000ff" stroke-width="1" shape-rendering="crispEdges"/><circle cx="95.4" cy="582" r="5.1" stroke="#ff8200" stroke-width="1"/><circle cx="231.9" cy="578.8" r="10.3" stroke="#8c00ff" stroke-width="1"/><circle cx="367.3" cy="576.4" r="15.7" stroke="#ff00ff" stroke-width="1"/><rect x="500.5" y="581.5" width="6" height="6" stroke="#ff0000" stroke-width="1.2"/></g><text x="95.45" y="95.5" font-size="17.0" fill="#0000ff" font-family='"Liberation Serif", serif' textLength="21.77" lengthAdjust="spacingAndGlyphs">RA</text><text x="125.25" y="95.5" font-size="17.0" fill="#0000ff" font-family='"Liberation Serif", serif' textLength="14.18" lengthAdjust="spacingAndGlyphs">=</text><text x="147.39" y="95.5" font-size="17.0" fill="#0000ff" font-family='"Liberation Serif", serif' textLength="100.27" lengthAdjust="spacingAndGlyphs">332.169542</text><text x="276.62" y="95.5" font-size="17.0" fill="#0000ff" font-family='"Liberation Serif", serif' textLength="33.09" lengthAdjust="spacingAndGlyphs">DEC</text><text x="319.34" y="95.5" font-size="17.0" fill="#0000ff" font-family='"Liberation Serif", serif' textLength="14.30" lengthAdjust="spacingAndGlyphs">=</text><text x="341.40" y="95.5" font-size="17.0" fill="#0000ff" font-family='"Liberation Serif", serif' textLength="86.59" lengthAdjust="spacingAndGlyphs">45.742583</text><text x="458.44" y="95.5" font-size="17.0" fill="#0000ff" font-family='"Liberation Serif", serif' textLength="41.93" lengthAdjust="spacingAndGlyphs">ROLL</text><text x="508.14" y="95.5" font-size="17.0" fill="#0000ff" font-family='"Liberation Serif", serif' textLength="13.09" lengthAdjust="spacingAndGlyphs">=</text><text x="530.08" y="95.5" font-size="17.0" fill="#0000ff" font-family='"Liberation Serif", serif' textLength="77.74" lengthAdjust="spacingAndGlyphs">136.0416</text><text x="96.42" y="122.5" font-size="17.0" fill="#0000ff" font-family='"Liberation Serif", serif' textLength="41.26" lengthAdjust="spacingAndGlyphs">YOFF</text><text x="146.34" y="122.5" font-size="17.0" fill="#0000ff" font-family='"Liberation Serif", serif' textLength="14.30" lengthAdjust="spacingAndGlyphs">=</text><text x="185.69" y="122.5" font-size="17.0" fill="#0000ff" font-family='"Liberation Serif", serif' textLength="52.46" lengthAdjust="spacingAndGlyphs">0.000&#8242;</text><text x="277.39" y="122.5" font-size="17.0" fill="#0000ff" font-family='"Liberation Serif", serif' textLength="41.42" lengthAdjust="spacingAndGlyphs">ZOFF</text><text x="327.59" y="122.5" font-size="17.0" fill="#0000ff" font-family='"Liberation Serif", serif' textLength="13.70" lengthAdjust="spacingAndGlyphs">=</text><text x="350.13" y="122.5" font-size="17.0" fill="#0000ff" font-family='"Liberation Serif", serif' textLength="76.24" lengthAdjust="spacingAndGlyphs">&#8722;3.0000&#8242;</text><text x="458.11" y="122.5" font-size="17.0" fill="#0000ff" font-family='"Liberation Serif", serif' textLength="39.47" lengthAdjust="spacingAndGlyphs">ZSIM</text><text x="507.67" y="122.5" font-size="17.0" fill="#0000ff" font-family='"Liberation Serif", serif' textLength="12.85" lengthAdjust="spacingAndGlyphs">=</text><text x="528.02" y="122.5" font-size="17.0" fill="#0000ff" font-family='"Liberation Serif", serif' textLength="10.26" lengthAdjust="spacingAndGlyphs">0</text><text x="546.43" y="122.5" font-size="17.0" fill="#0000ff" font-family='"Liberation Serif", serif' textLength="34.51" lengthAdjust="spacingAndGlyphs">mm</text><text x="110.97" y="584.6" font-size="17.0" fill="#ff8200" font-family='"Liberation Serif", serif' textLength="49.74" lengthAdjust="spacingAndGlyphs">Guide</text><text x="168.90" y="584.6" font-size="17.0" fill="#ff8200" font-family='"Liberation Serif", serif' textLength="38.61" lengthAdjust="spacingAndGlyphs">Star</text><text x="247.12" y="584.6" font-size="17.0" fill="#8c00ff" font-family='"Liberation Serif", serif' textLength="30.92" lengthAdjust="spacingAndGlyphs">Acq</text><text x="286.33" y="584.6" font-size="17.0" fill="#8c00ff" font-family='"Liberation Serif", serif' textLength="37.88" lengthAdjust="spacingAndGlyphs">Star</text><text x="383.47" y="584.6" font-size="17.0" fill="#ff00ff" font-family='"Liberation Serif", serif' textLength="34.50" lengthAdjust="spacingAndGlyphs">Mon</text><text x="426.01" y="584.6" font-size="17.0" fill="#ff00ff" font-family='"Liberation Serif", serif' textLength="38.19" lengthAdjust="spacingAndGlyphs">Star</text><text x="519.43" y="584.6" font-size="17.0" fill="#ff0000" font-family='"Liberation Serif", serif' textLength="26.41" lengthAdjust="spacingAndGlyphs">Fid</text><text x="553.80" y="584.6" font-size="17.0" fill="#ff0000" font-family='"Liberation Serif", serif' textLength="44.82" lengthAdjust="spacingAndGlyphs">Light</text><g shape-rendering="crispEdges" stroke="#1286ff" stroke-width="1" fill="none"><rect x="68.5" y="68.5" width="543" height="543"/><path d="M177.8 69V80M367.6 69V80M557.6 69V80M101.2 69V73M139.3 69V73M215.3 69V73M253.3 69V73M291.3 69V73M329.6 69V73M405.5 69V73M443.7 69V73M481.6 69V73M519.7 69V73M595.5 69V73M73.4 69V73M82.4 611V600M177.4 611V600M272.5 611V600M367.5 611V600M462.4 611V600M557.3 611V600M130.0 611V607M225.2 611V607M320.0 611V607M414.8 611V607M509.7 611V607M604.6 611V607M69 85.9H80M69 176.6H80M69 267.8H80M69 358.4H80M69 448.7H80M69 539.3H80M69 131.7H73M69 222.4H73M69 312.6H73M69 403.3H73M69 494.3H73M69 584.6H73M69 593.4H73"/></g><text x="164.15" y="62.1" font-size="17.0" fill="#1286ff" font-family='"Liberation Serif", serif' textLength="26.75" lengthAdjust="spacingAndGlyphs">333</text><text x="353.94" y="62.1" font-size="17.0" fill="#1286ff" font-family='"Liberation Serif", serif' textLength="27.06" lengthAdjust="spacingAndGlyphs">332</text><text x="543.53" y="62.1" font-size="17.0" fill="#1286ff" font-family='"Liberation Serif", serif' textLength="27.15" lengthAdjust="spacingAndGlyphs">331</text><text x="52.91" y="633.8" font-size="17.0" fill="#1286ff" font-family='"Liberation Serif", serif' textLength="59.07" lengthAdjust="spacingAndGlyphs">22h14m</text><text x="147.81" y="633.8" font-size="17.0" fill="#1286ff" font-family='"Liberation Serif", serif' textLength="59.07" lengthAdjust="spacingAndGlyphs">22h12m</text><text x="242.71" y="633.8" font-size="17.0" fill="#1286ff" font-family='"Liberation Serif", serif' textLength="59.07" lengthAdjust="spacingAndGlyphs">22h10m</text><text x="337.61" y="633.8" font-size="17.0" fill="#1286ff" font-family='"Liberation Serif", serif' textLength="59.07" lengthAdjust="spacingAndGlyphs">22h08m</text><text x="432.51" y="633.8" font-size="17.0" fill="#1286ff" font-family='"Liberation Serif", serif' textLength="59.07" lengthAdjust="spacingAndGlyphs">22h06m</text><text x="527.41" y="633.8" font-size="17.0" fill="#1286ff" font-family='"Liberation Serif", serif' textLength="59.07" lengthAdjust="spacingAndGlyphs">22h04m</text><text transform="rotate(-90 62.0 108.8)" x="62.0" y="108.8" font-size="17.0" fill="#1286ff" font-family='"Liberation Serif", serif' textLength="17.57" lengthAdjust="spacingAndGlyphs">46</text><text transform="rotate(-90 62.0 84.1)" x="62.0" y="84.1" font-size="17.0" fill="#1286ff" font-family='"Liberation Serif", serif' textLength="20.99" lengthAdjust="spacingAndGlyphs">40&#8242;</text><text transform="rotate(-90 62.0 199.1)" x="62.0" y="199.1" font-size="17.0" fill="#1286ff" font-family='"Liberation Serif", serif' textLength="17.57" lengthAdjust="spacingAndGlyphs">46</text><text transform="rotate(-90 62.0 174.9)" x="62.0" y="174.9" font-size="17.0" fill="#1286ff" font-family='"Liberation Serif", serif' textLength="21.44" lengthAdjust="spacingAndGlyphs">20&#8242;</text><text transform="rotate(-90 62.0 290.3)" x="62.0" y="290.3" font-size="17.0" fill="#1286ff" font-family='"Liberation Serif", serif' textLength="17.57" lengthAdjust="spacingAndGlyphs">46</text><text transform="rotate(-90 62.0 266.0)" x="62.0" y="266.0" font-size="17.0" fill="#1286ff" font-family='"Liberation Serif", serif' textLength="21.33" lengthAdjust="spacingAndGlyphs">00&#8242;</text><text transform="rotate(-90 62.0 380.9)" x="62.0" y="380.9" font-size="17.0" fill="#1286ff" font-family='"Liberation Serif", serif' textLength="17.74" lengthAdjust="spacingAndGlyphs">45</text><text transform="rotate(-90 62.0 356.2)" x="62.0" y="356.2" font-size="17.0" fill="#1286ff" font-family='"Liberation Serif", serif' textLength="20.99" lengthAdjust="spacingAndGlyphs">40&#8242;</text><text transform="rotate(-90 62.0 471.2)" x="62.0" y="471.2" font-size="17.0" fill="#1286ff" font-family='"Liberation Serif", serif' textLength="17.74" lengthAdjust="spacingAndGlyphs">45</text><text transform="rotate(-90 62.0 447.0)" x="62.0" y="447.0" font-size="17.0" fill="#1286ff" font-family='"Liberation Serif", serif' textLength="21.44" lengthAdjust="spacingAndGlyphs">20&#8242;</text><text transform="rotate(-90 62.0 561.8)" x="62.0" y="561.8" font-size="17.0" fill="#1286ff" font-family='"Liberation Serif", serif' textLength="17.74" lengthAdjust="spacingAndGlyphs">45</text><text transform="rotate(-90 62.0 537.5)" x="62.0" y="537.5" font-size="17.0" fill="#1286ff" font-family='"Liberation Serif", serif' textLength="21.33" lengthAdjust="spacingAndGlyphs">00&#8242;</text><text transform="rotate(-90 32.0 391.3)" x="32.0" y="391.3" font-size="17.0" fill="#1286ff" font-family='"Liberation Serif", serif' textLength="29.91" lengthAdjust="spacingAndGlyphs">Dec</text><text transform="rotate(-90 32.0 350.6)" x="32.0" y="350.6" font-size="17.0" fill="#1286ff" font-family='"Liberation Serif", serif' textLength="61.26" lengthAdjust="spacingAndGlyphs">(J2000)</text><text x="292.75" y="665.6" font-size="17.0" fill="#1286ff" font-family='"Liberation Serif", serif' textLength="21.77" lengthAdjust="spacingAndGlyphs">RA</text><text x="323.07" y="665.6" font-size="17.0" fill="#1286ff" font-family='"Liberation Serif", serif' textLength="64.56" lengthAdjust="spacingAndGlyphs">(J2000)</text><text x="91.42" y="34.4" font-size="17.0" fill="#1286ff" font-family='"Liberation Serif", serif' textLength="48.28" lengthAdjust="spacingAndGlyphs">Name</text><text x="149.51" y="34.4" font-size="17.0" fill="#1286ff" font-family='"Liberation Serif", serif' textLength="53.49" lengthAdjust="spacingAndGlyphs">ArLac,</text><text x="210.99" y="34.4" font-size="17.0" fill="#1286ff" font-family='"Liberation Serif", serif' textLength="31.59" lengthAdjust="spacingAndGlyphs">Seq</text><text x="251.25" y="34.4" font-size="17.0" fill="#1286ff" font-family='"Liberation Serif", serif' textLength="9.70" lengthAdjust="spacingAndGlyphs">#</text><text x="270.31" y="34.4" font-size="17.0" fill="#1286ff" font-family='"Liberation Serif", serif' textLength="65.66" lengthAdjust="spacingAndGlyphs">291806,</text><text x="347.20" y="34.4" font-size="17.0" fill="#1286ff" font-family='"Liberation Serif", serif' textLength="46.84" lengthAdjust="spacingAndGlyphs">Obsid</text><text x="402.87" y="34.4" font-size="17.0" fill="#1286ff" font-family='"Liberation Serif", serif' textLength="58.47" lengthAdjust="spacingAndGlyphs">29574,</text><text x="467.49" y="34.4" font-size="17.0" fill="#1286ff" font-family='"Liberation Serif", serif' textLength="22.83" lengthAdjust="spacingAndGlyphs">ST</text><text x="497.04" y="34.4" font-size="17.0" fill="#1286ff" font-family='"Liberation Serif", serif' textLength="90.82" lengthAdjust="spacingAndGlyphs">Scheduled</text><rect x="616" y="69" width="20" height="542" fill="url(#cb)"/><g shape-rendering="crispEdges" stroke="#1286ff" stroke-width="1" fill="none"><rect x="615.5" y="68.5" width="21" height="543"/><path d="M616 583.5H622 M636 583.5H631M616 550.5H619 M636 550.5H634M616 516.5H622 M636 516.5H631M616 483.5H619 M636 483.5H634M616 449.5H622 M636 449.5H631M616 416.5H619 M636 416.5H634M616 383.5H622 M636 383.5H631M616 349.5H619 M636 349.5H634M616 316.5H622 M636 316.5H631M616 283.5H619 M636 283.5H634M616 249.5H622 M636 249.5H631M616 216.5H619 M636 216.5H634M616 183.5H622 M636 183.5H631M616 149.5H619 M636 149.5H634M616 116.5H622 M636 116.5H631M616 83.5H619 M636 83.5H634"/></g><text transform="rotate(-90 648.3 586.2)" x="648.3" y="586.2" font-size="11.0" fill="#1286ff" font-family='"Liberation Serif", serif' textLength="5.66" lengthAdjust="spacingAndGlyphs">0</text><text transform="rotate(-90 648.3 528.7)" x="648.3" y="528.7" font-size="11.0" fill="#1286ff" font-family='"Liberation Serif", serif' textLength="24.40" lengthAdjust="spacingAndGlyphs">2000</text><text transform="rotate(-90 648.3 461.5)" x="648.3" y="461.5" font-size="11.0" fill="#1286ff" font-family='"Liberation Serif", serif' textLength="24.09" lengthAdjust="spacingAndGlyphs">4000</text><text transform="rotate(-90 648.3 394.9)" x="648.3" y="394.9" font-size="11.0" fill="#1286ff" font-family='"Liberation Serif", serif' textLength="24.39" lengthAdjust="spacingAndGlyphs">6000</text><text transform="rotate(-90 648.3 328.0)" x="648.3" y="328.0" font-size="11.0" fill="#1286ff" font-family='"Liberation Serif", serif' textLength="24.33" lengthAdjust="spacingAndGlyphs">8000</text><text transform="rotate(-90 648.3 258.1)" x="648.3" y="258.1" font-size="11.0" fill="#1286ff" font-family='"Liberation Serif", serif' textLength="11.78" lengthAdjust="spacingAndGlyphs">10</text><text transform="rotate(-90 644.5 246.7)" x="644.5" y="246.7" font-size="8.0" fill="#1286ff" font-family='"Liberation Serif", serif' textLength="5.38" lengthAdjust="spacingAndGlyphs">4</text><text transform="rotate(-90 648.3 201.9)" x="648.3" y="201.9" font-size="11.0" fill="#1286ff" font-family='"Liberation Serif", serif' textLength="32.98" lengthAdjust="spacingAndGlyphs">1.2&#215;10</text><text transform="rotate(-90 644.5 169.3)" x="644.5" y="169.3" font-size="8.0" fill="#1286ff" font-family='"Liberation Serif", serif' textLength="5.38" lengthAdjust="spacingAndGlyphs">4</text><text transform="rotate(-90 648.3 135.1)" x="648.3" y="135.1" font-size="11.0" fill="#1286ff" font-family='"Liberation Serif", serif' textLength="32.98" lengthAdjust="spacingAndGlyphs">1.4&#215;10</text><text transform="rotate(-90 644.5 102.5)" x="644.5" y="102.5" font-size="8.0" fill="#1286ff" font-family='"Liberation Serif", serif' textLength="5.38" lengthAdjust="spacingAndGlyphs">4</text><text transform="rotate(-90 658.8 169.5)" x="658.8" y="169.5" font-size="11.0" fill="#1286ff" font-family='"Liberation Serif", serif' textLength="101.30" lengthAdjust="spacingAndGlyphs">POSS scaled density</text><text x="526.69" y="672.6" font-size="9.6" fill="#f0f0f0" font-family='"Liberation Sans", sans-serif' textLength="150.34" lengthAdjust="spacingAndGlyphs">kpaggeot 10-Jul-2025 12:18</text></svg></body></html>
